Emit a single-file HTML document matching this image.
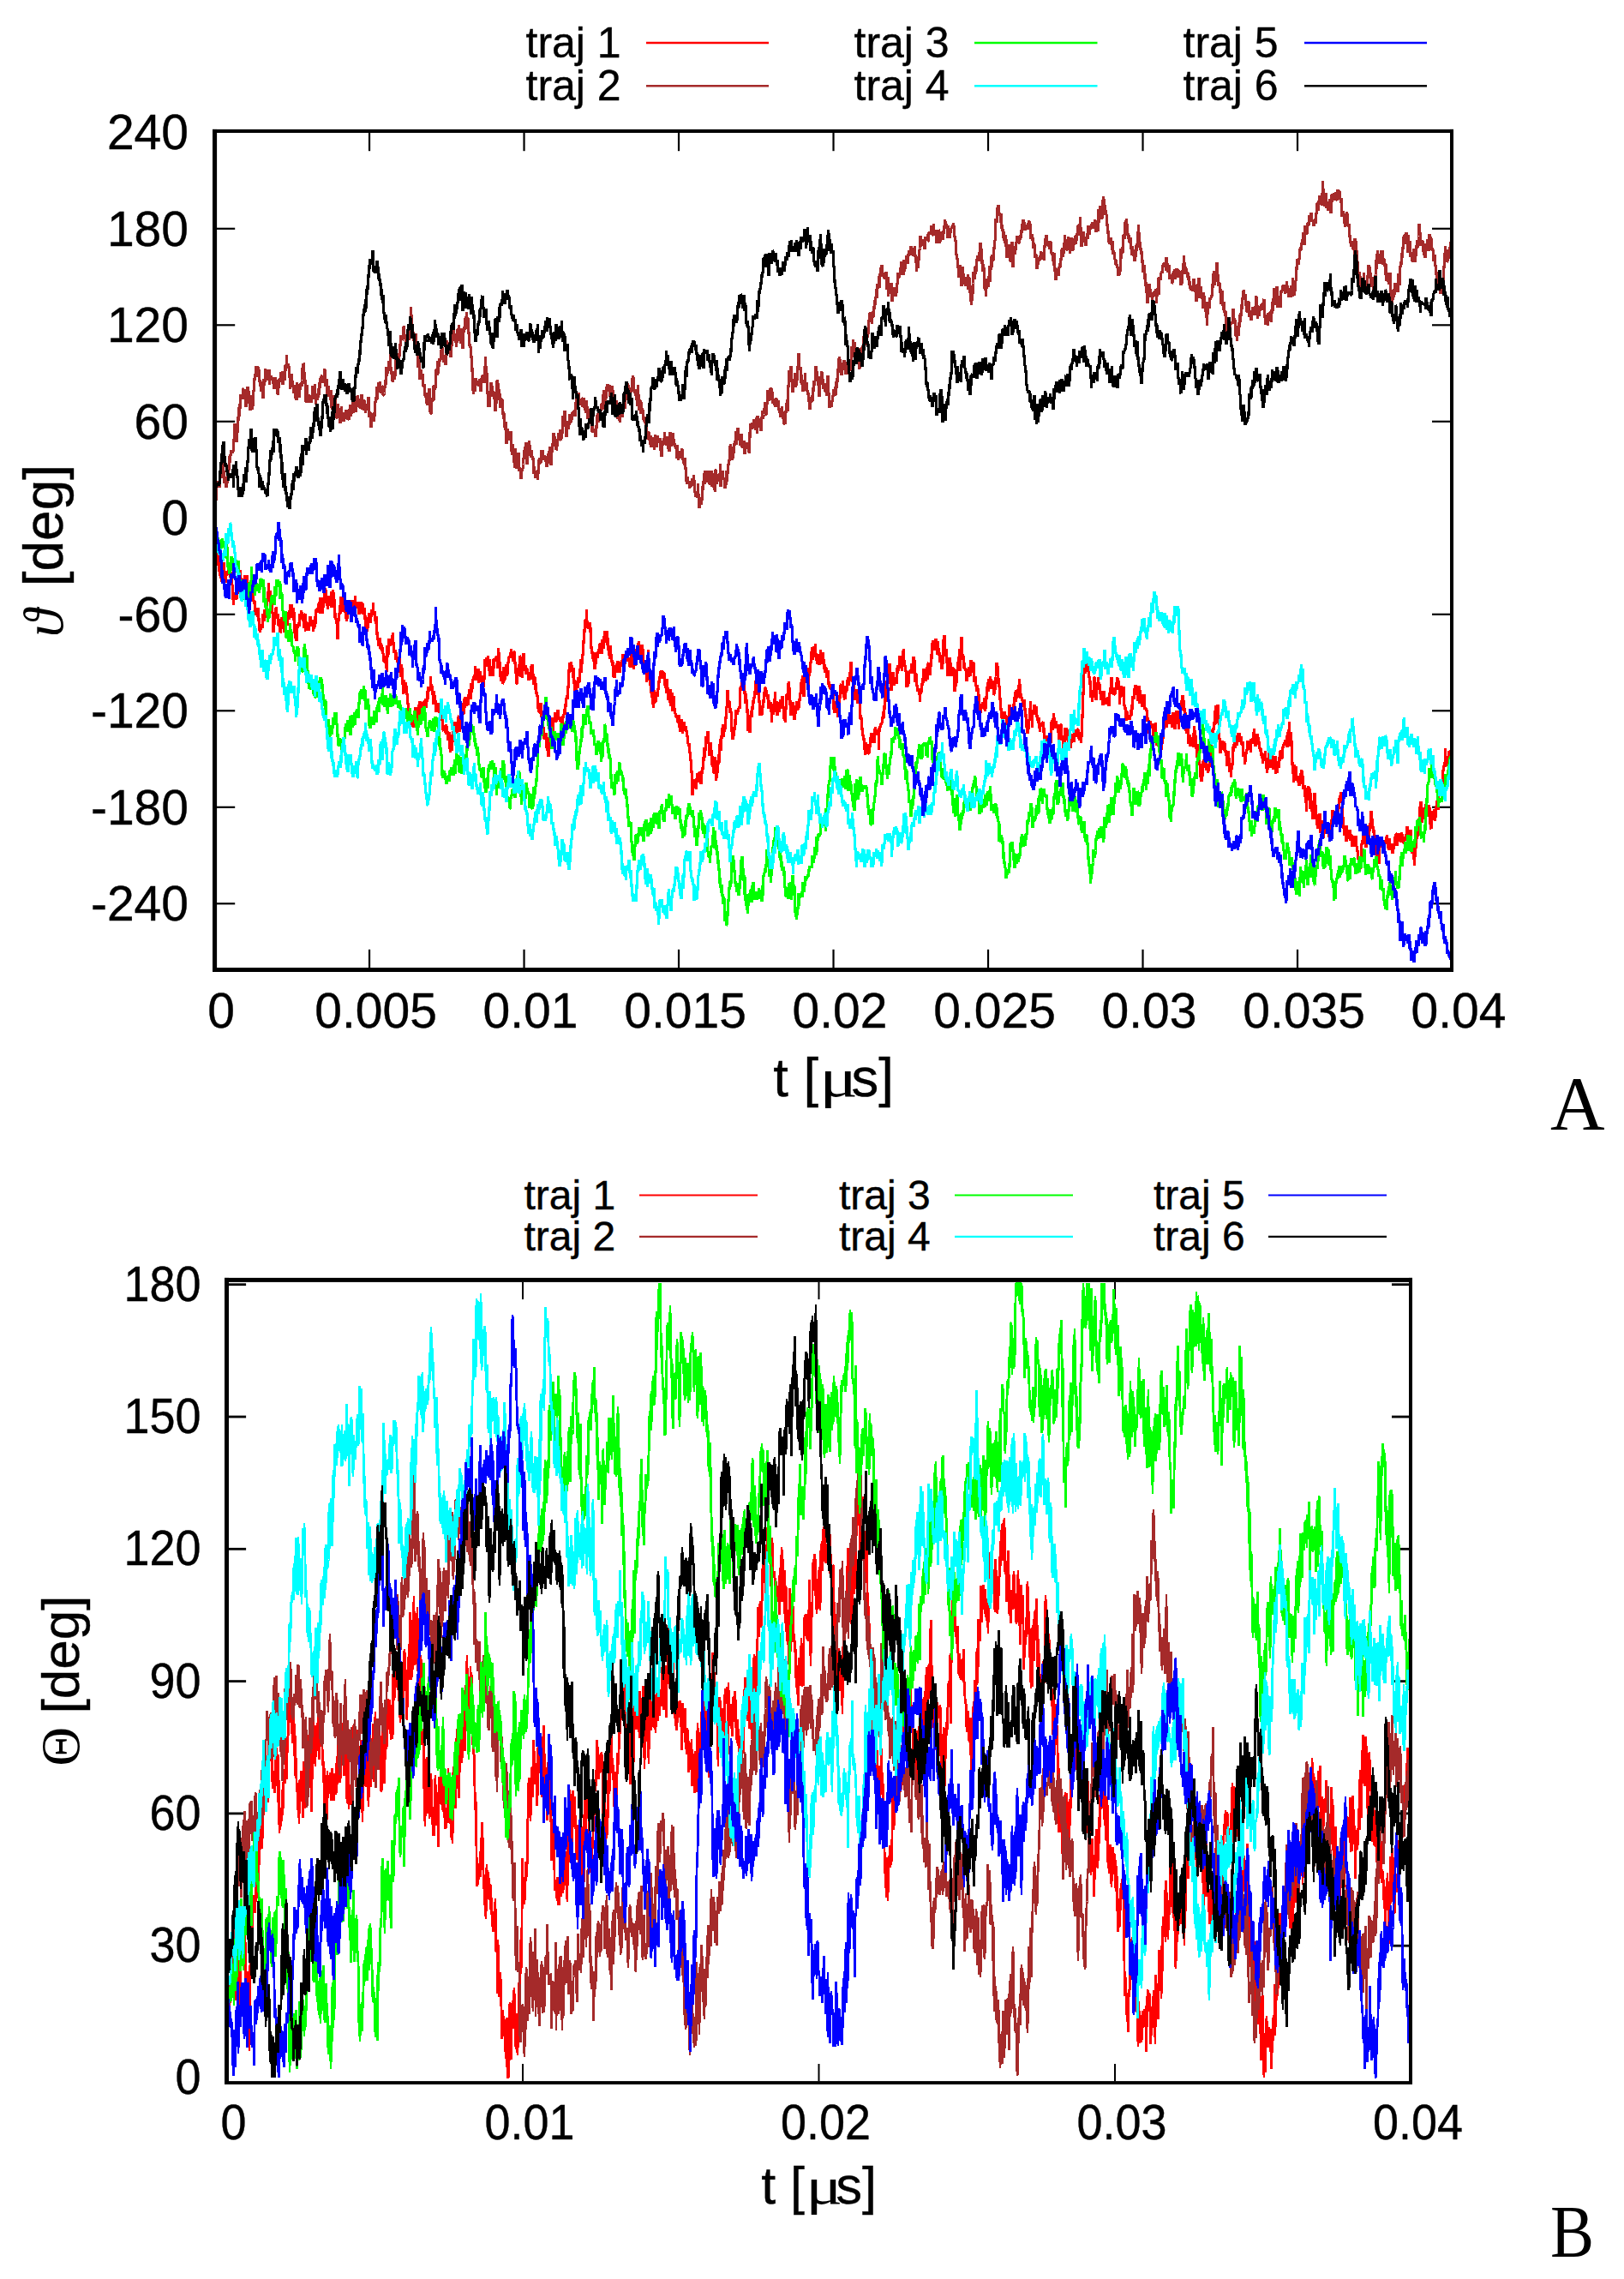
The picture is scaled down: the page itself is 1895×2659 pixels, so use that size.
<!DOCTYPE html>
<html lang="en"><head><meta charset="utf-8"><title>Trajectories</title>
<style>
html,body{margin:0;padding:0;background:#fff}
body{width:1895px;height:2659px;overflow:hidden}
svg{display:block}
.s{font-family:"Liberation Sans",sans-serif;fill:#000;stroke:#000;stroke-width:.4px}
.f{font-family:"Liberation Serif",serif;fill:#000}
.c{fill:none;stroke-linejoin:bevel;stroke-linecap:butt;shape-rendering:crispEdges}
</style></head><body>
<svg width="1895" height="2659" viewBox="0 0 1895 2659">
<rect width="1895" height="2659" fill="#fff"/>
<g fill="#000"><rect x="429.944" y="155" width="2.2" height="21.2"/><rect x="429.944" y="1107.8" width="2.2" height="21.5"/><rect x="610.438" y="155" width="2.2" height="21.2"/><rect x="610.438" y="1107.8" width="2.2" height="21.5"/><rect x="790.931" y="155" width="2.2" height="21.2"/><rect x="790.931" y="1107.8" width="2.2" height="21.5"/><rect x="971.425" y="155" width="2.2" height="21.2"/><rect x="971.425" y="1107.8" width="2.2" height="21.5"/><rect x="1151.92" y="155" width="2.2" height="21.2"/><rect x="1151.92" y="1107.8" width="2.2" height="21.5"/><rect x="1332.41" y="155" width="2.2" height="21.2"/><rect x="1332.41" y="1107.8" width="2.2" height="21.5"/><rect x="1512.91" y="155" width="2.2" height="21.2"/><rect x="1512.91" y="1107.8" width="2.2" height="21.5"/><rect x="253" y="1053.2" width="21.2" height="2.2"/><rect x="1671" y="1053.2" width="21.2" height="2.2"/><rect x="253" y="940.7" width="21.2" height="2.2"/><rect x="1671" y="940.7" width="21.2" height="2.2"/><rect x="253" y="828.2" width="21.2" height="2.2"/><rect x="1671" y="828.2" width="21.2" height="2.2"/><rect x="253" y="715.7" width="21.2" height="2.2"/><rect x="1671" y="715.7" width="21.2" height="2.2"/><rect x="253" y="490.7" width="21.2" height="2.2"/><rect x="1671" y="490.7" width="21.2" height="2.2"/><rect x="253" y="378.2" width="21.2" height="2.2"/><rect x="1671" y="378.2" width="21.2" height="2.2"/><rect x="253" y="265.7" width="21.2" height="2.2"/><rect x="1671" y="265.7" width="21.2" height="2.2"/></g>
<clipPath id="ca"><rect x="250.55" y="153" width="1443.95" height="978.5"/></clipPath>
<g clip-path="url(#ca)">
<path class="c" transform="scale(.5)" stroke="#ff0000" stroke-width="6.4" d="M501 1209l1 7 1 10 1 5 1 8 1 27 1 5 1 12 1 9 1 24 1 17 1-1 1-10 1 21 1 6 1-5 1 13 1-16 1 9 1-18 1 14 1-34 1 27 1 0 1 6 1 11 1 4 1-20 1-1 1-6 1 1 1 7 1-28 1 4 1-1 1 20 1 10 1 0 1 8 1-20 1 20 1 11 1 3 1 28 1 15 1-21 1 10 1-11 1-7 1 18 1-6 1 3 1-26 1-11 1 10 1-4 1 20 1-27 1 10 1-25 1-14 1 21 1 21 1-2 1-7 1 20 1-23 1 8 1 2 1-18 1-10 1 20 1-13 1 1 1 12 1-4 1-15 1 23 1 6 1-12 1 6 1-6 1 21 1-6 1-1 1 7 1-16 1 38 1-4 1-19 1 20 1 1 1 8 1-6 1 1 1 21 1 11 1-4 1-6 1 5 1 9 1-22 1 22 1 3 1 28 1-4 1 8 1-13 1 7 1-13 1 5 1 5 1-12 1-21 1 1 1 11 1 5 1-27 1 18 1-18 1 5 1 7 1-17 1-18 1-1 1-14 1-24 1 31 1-9 1-5 1 6 1 21 1 15 1-15 1 11 1 14 1 6 1 40 1-24 1 5 1-20 1 7 1-21 1-4 1-2 1 24 1-5 1-3 1 17 1 10 1-1 1-15 1 10 1 22 1-1 1-16 1-2 1-16 1 13 1 14 1-11 1-9 1 27 1-24 1 13 1-14 1-14 1-7 1 10 1 1 1 19 1-19 1-5 1 11 1-15 1-3 1-18 1 31 1-16 1-9 1-5 1 29 1-11 1-11 1 30 1-20 1 23 1 22 1 17 1-33 1 39 1-34 1 34 1-37 1 2 1-3 1 0 1-5 1 8 1-29 1 6 1 8 1-21 1 4 1 0 1 6 1 14 1-17 1 3 1 30 1-23 1-10 1 38 1 2 1-21 1 3 1 4 1 5 1 5 1-11 1 15 1-17 1-8 1-9 1 24 1-9 1 3 1-10 1 11 1-9 1 25 1-8 1 0 1-1 1-25 1 13 1 4 1-33 1-1 1 5 1-9 1 5 1-14 1 20 1-25 1 13 1 15 1-37 1 15 1 1 1 7 1 13 1-31 1-6 1 23 1-13 1-23 1-4 1-4 1 9 1-6 1 32 1 1 1 2 1 11 1-22 1 2 1-12 1 23 1-13 1-5 1 9 1-23 1 37 1-15 1-13 1-13 1 18 1-13 1 19 1 40 1-5 1-5 1 14 1-2 1 11 1 9 1 29 1-36 1-8 1-14 1-1 1-16 1-4 1 18 1-38 1 10 1-5 1 1 1-5 1-1 1 35 1-12 1 7 1 7 1-6 1 19 1-9 1 16 1-8 1-20 1-12 1 24 1-9 1-13 1-1 1-8 1 9 1-11 1 10 1 20 1-3 1-22 1-6 1 13 1 6 1-12 1 0 1-16 1 25 1-12 1 13 1 0 1-10 1-2 1 9 1 14 1 6 1-13 1 0 1 10 1-27 1 5 1-3 1 14 1-12 1 25 1-9 1-5 1 15 1-16 1 23 1 25 1-22 1 15 1 4 1 10 1-9 1-8 1-16 1 1 1-11 1 14 1 9 1-21 1 3 1 5 1-18 1 9 1 3 1-27 1 26 1 3 1-9 1 14 1 9 1-3 1 8 1-16 1 43 1-1 1 10 1 16 1-5 1 3 1-16 1 25 1-1 1-13 1 6 1 14 1-9 1 5 1 9 1 2 1 16 1-13 1 16 1 0 1-5 1 1 1 17 1 8 1-61 1 28 1-13 1 7 1-37 1 13 1 3 1-3 1 1 1-2 1-4 1-16 1 22 1-29 1 26 1 12 1 10 1-6 1-1 1 22 1-17 1 13 1 5 1 0 1 5 1 1 1-1 1-10 1-2 1 31 1 3 1 12 1-5 1-23 1 9 1 8 1 24 1 28 1-19 1-15 1 17 1 14 1-11 1-14 1 9 1-1 1 22 1-1 1 23 1-3 1 34 1-14 1 11 1-2 1 25 1-28 1 14 1 3 1-10 1 5 1 5 1 14 1-9 1-21 1 23 1-34 1-6 1 20 1-5 1-1 1 2 1 15 1-18 1-14 1-5 1 37 1-45 1 8 1 18 1-6 1-19 1 9 1-3 1 10 1 6 1-17 1-5 1-3 1 9 1-14 1 21 1-7 1-8 1-23 1 18 1-13 1-15 1 8 1-9 1 8 1 2 1-33 1 20 1-3 1 6 1 10 1 2 1 29 1-31 1 19 1-8 1 10 1 6 1-4 1 27 1-11 1 9 1-18 1 1 1 6 1 9 1-17 1 22 1-11 1 12 1 3 1 9 1 5 1-11 1 0 1 34 1 1 1-12 1 9 1-4 1 11 1-8 1-10 1 22 1-18 1 13 1 17 1 2 1-2 1-16 1 4 1 32 1 10 1-11 1 2 1 0 1 6 1-36 1-10 1 21 1 5 1-31 1 15 1-31 1 20 1-8 1 1 1-2 1 16 1-8 1-14 1-18 1-1 1 13 1 23 1-23 1 13 1-10 1-4 1-2 1-40 1 27 1-5 1 3 1-36 1 22 1-11 1-14 1 3 1 18 1-12 1 0 1 7 1-14 1 16 1-25 1 1 1-13 1 10 1 13 1-26 1-10 1 20 1-9 1-4 1-17 1-4 1-2 1 7 1-5 1-26 1 14 1 19 1-16 1 1 1 7 1-12 1-7 1 33 1-15 1-4 1-8 1 14 1 10 1-14 1 14 1-1 1 12 1-16 1 15 1 3 1-23 1-22 1-21 1 16 1 1 1-20 1 15 1-13 1 3 1-10 1 13 1 22 1-1 1-25 1 39 1-11 1 0 1 7 1-4 1-16 1 24 1-39 1 1 1 19 1-22 1 5 1-2 1-7 1 0 1 3 1 3 1 21 1-18 1-29 1 10 1 22 1 0 1 34 1-7 1-5 1 23 1-20 1 7 1 18 1-1 1-28 1-9 1 33 1-26 1 21 1-17 1-2 1-16 1 28 1-5 1-10 1-18 1-6 1-7 1 4 1-5 1-8 1 4 1-12 1 19 1 0 1-9 1 12 1 7 1-23 1 0 1 11 1 14 1 21 1 4 1 3 1 21 1 1 1-23 1-15 1 4 1-8 1 3 1-26 1 1 1 17 1 30 1-18 1 0 1 21 1-38 1 21 1-40 1 26 1 15 1-11 1-3 1 22 1-3 1-10 1 0 1 11 1-4 1 18 1 1 1-4 1-5 1 1 1 6 1-30 1 11 1-7 1-8 1 9 1 14 1 2 1 21 1-16 1 0 1 28 1-3 1-12 1 25 1 0 1 5 1 4 1 26 1-6 1 14 1-21 1 22 1 1 1-24 1 9 1 24 1-14 1 3 1 15 1 23 1 9 1 15 1-9 1 11 1-4 1-11 1 35 1-23 1 14 1 14 1-9 1 23 1-11 1-31 1-14 1 15 1-15 1-16 1-5 1-13 1 4 1 12 1 14 1-30 1 10 1-6 1-9 1-8 1 11 1 10 1 1 1-6 1-18 1-3 1 20 1 1 1-2 1-4 1 11 1-1 1-9 1 12 1-1 1 20 1-29 1-3 1 4 1-9 1-8 1-4 1 13 1-23 1-11 1-4 1-7 1 9 1-10 1-19 1-14 1-26 1 7 1-24 1 6 1 8 1-16 1 20 1-12 1 12 1 17 1-22 1 22 1 7 1 30 1-8 1-12 1 25 1-10 1-14 1-10 1 16 1-24 1 3 1 7 1 1 1-6 1-22 1-13 1-13 1 31 1-24 1-19 1 3 1-14 1-16 1-19 1-5 1-29 1 20 1-14 1-1 1-29 1 33 1 9 1-1 1 4 1-2 1-3 1-10 1 24 1-12 1 49 1-5 1 5 1 9 1 16 1-16 1 22 1-3 1 4 1 17 1-8 1-5 1-27 1 8 1-6 1 11 1-14 1 1 1-7 1 1 1 9 1-23 1 7 1-9 1 16 1-3 1 12 1-32 1 13 1 7 1-24 1-4 1 12 1-24 1 14 1 10 1 2 1-3 1-23 1 32 1-17 1 27 1 15 1-3 1 11 1-32 1 9 1 13 1 17 1-4 1 11 1-7 1 35 1-15 1 17 1-4 1 4 1-28 1 10 1-12 1 18 1-21 1 4 1-11 1 22 1-8 1-3 1 16 1-1 1-14 1-6 1-4 1 11 1-15 1 13 1-26 1 14 1-1 1-13 1 4 1 18 1-16 1-3 1 4 1 9 1-8 1 9 1-4 1-6 1 6 1 7 1 9 1-1 1 2 1-31 1 1 1-1 1 1 1 20 1 2 1 12 1-30 1 1 1 21 1-14 1-16 1-5 1-4 1 5 1-9 1-5 1-4 1-5 1 11 1 0 1 9 1 6 1 10 1-9 1-18 1 13 1-4 1 19 1 21 1 5 1-18 1 8 1-1 1 11 1 10 1 22 1-6 1-16 1-10 1-43 1 35 1 2 1 31 1 15 1-14 1 33 1-4 1-1 1 13 1 10 1 6 1 10 1-13 1-29 1 23 1 3 1 0 1 0 1-21 1 5 1 6 1-3 1-16 1 2 1-18 1-10 1 2 1-17 1 16 1-4 1-14 1 20 1-18 1 14 1-12 1 10 1-7 1 27 1 0 1 0 1 4 1 16 1-34 1 18 1 7 1-4 1 29 1-8 1 4 1 10 1-31 1 13 1 25 1-25 1-5 1 32 1 11 1-11 1-25 1 16 1 14 1 12 1-1 1 6 1 2 1 2 1-2 1 12 1-8 1 10 1-18 1 22 1 6 1-13 1 23 1-14 1-14 1 7 1 3 1 22 1-19 1 14 1-21 1 3 1 10 1 0 1-2 1 1 1 9 1 11 1-1 1 20 1-1 1 0 1 7 1-8 1 24 1-4 1 21 1 3 1 24 1 4 1 50 1-17 1-1 1-1 1-19 1 7 1 9 1-2 1-7 1 16 1-21 1-16 1 3 1 12 1-10 1 17 1-23 1 10 1-13 1 3 1 26 1-31 1 8 1-3 1-13 1 5 1-23 1-28 1 23 1-19 1 3 1-18 1-15 1 8 1-2 1-6 1-12 1 25 1 4 1 3 1 25 1-9 1-21 1 21 1-4 1 12 1 23 1-20 1 21 1 13 1 4 1 2 1-38 1 27 1 8 1 19 1-7 1-8 1-14 1 11 1-24 1-18 1 4 1 14 1-39 1-15 1 3 1 24 1-35 1 2 1-19 1-9 1 2 1 27 1-16 1-10 1 7 1-8 1-18 1-13 1-12 1-4 1-36 1 8 1 19 1 5 1 1 1-7 1 28 1-12 1 9 1 16 1 28 1 16 1 4 1-9 1 2 1-21 1 7 1-26 1 13 1-25 1-10 1 8 1 3 1-8 1 1 1 2 1-9 1-4 1 4 1-9 1-39 1-5 1 11 1-23 1-1 1 15 1-5 1 2 1-2 1 3 1 16 1 20 1 6 1-24 1 17 1 10 1 11 1 36 1 13 1-8 1 2 1 7 1 4 1-20 1-21 1-3 1-7 1 14 1-21 1-17 1 7 1-16 1 4 1-15 1 2 1-22 1-5 1-10 1 32 1-2 1 11 1-21 1 6 1 33 1-4 1 3 1 32 1-24 1 10 1 14 1-8 1 6 1-19 1-8 1-2 1-25 1 6 1-16 1 1 1 13 1 7 1-14 1 11 1 10 1-12 1 20 1 13 1-19 1 15 1 2 1-13 1 23 1-8 1 33 1-32 1-10 1 24 1-16 1-6 1-15 1 14 1-30 1 32 1 15 1-23 1-2 1 32 1-18 1 4 1-16 1 6 1 17 1-18 1 10 1-21 1 3 1 1 1-11 1-1 1 8 1 18 1 12 1 13 1 6 1-21 1 25 1-36 1 3 1-33 1 13 1-15 1 0 1-22 1-6 1 19 1-4 1 40 1-11 1 35 1-28 1 13 1 10 1-25 1 8 1 8 1 2 1 23 1-34 1 15 1 4 1-8 1-5 1-15 1 19 1-1 1-7 1 3 1-19 1 3 1-19 1 4 1-13 1-13 1-9 1 23 1-5 1-27 1 20 1 29 1-17 1-29 1-18 1-6 1 7 1 3 1 19 1 4 1 3 1 15 1-19 1-29 1 19 1-11 1 4 1-26 1 2 1-23 1-12 1 28 1-25 1 9 1-11 1-4 1 22 1-21 1-6 1 27 1 12 1-9 1 16 1-14 1-2 1-6 1 25 1-8 1 7 1-16 1-19 1 18 1-8 1 24 1-14 1-2 1-11 1 17 1 15 1 6 1-10 1 19 1-14 1 3 1 23 1-8 1 4 1-12 1 1 1 29 1 7 1-2 1 2 1 5 1-12 1 9 1 21 1-7 1-14 1 11 1 40 1-7 1 15 1-16 1-12 1 9 1 5 1 3 1 5 1 5 1-14 1 25 1-6 1-28 1 1 1-14 1-19 1-10 1-2 1 10 1-1 1 0 1-16 1 30 1 1 1 6 1 4 1 2 1-27 1-5 1 16 1-5 1-7 1-17 1-7 1 19 1-6 1-5 1 0 1-20 1 12 1-36 1 34 1 5 1 6 1 2 1-5 1 1 1 8 1 21 1 14 1 4 1-20 1 13 1-18 1 4 1 10 1 19 1-11 1 3 1 6 1-1 1 5 1 33 1-8 1 10 1-4 1 29 1-2 1 14 1 4 1 2 1 28 1-17 1 29 1-30 1 16 1-9 1 21 1-13 1 7 1-18 1 22 1 0 1-8 1-8 1-22 1 13 1-17 1-6 1 21 1-5 1-8 1 2 1 0 1 13 1-13 1-19 1-5 1 13 1-6 1 12 1-6 1 2 1-7 1 2 1 44 1-51 1 4 1-7 1-8 1 2 1-2 1-1 1-1 1-10 1-16 1 16 1-12 1-11 1-26 1 9 1 0 1-48 1 12 1-9 1 20 1-18 1 1 1-19 1 21 1-47 1 31 1 1 1 21 1 10 1-22 1-7 1-14 1 11 1-11 1 17 1 14 1-12 1-3 1 1 1-5 1 14 1-37 1 14 1-20 1 13 1-13 1 8 1-9 1-20 1 3 1 3 1 10 1-7 1 25 1-29 1-16 1-1 1-5 1 33 1-7 1 16 1-3 1 14 1 4 1 32 1-6 1 4 1-21 1-6 1 21 1-27 1-3 1 1 1-3 1 4 1-19 1 11 1-9 1 21 1-11 1-28 1 11 1-2 1 23 1 27 1-18 1-1 1 24 1 4 1 9 1 4 1-2 1-3 1-2 1 12 1 19 1-22 1-5 1-2 1 8 1-19 1-14 1 10 1-16 1-17 1 20 1 4 1-12 1 18 1-7 1-6 1-21 1 30 1-6 1-32 1-1 1 17 1-2 1 14 1-19 1-8 1 6 1-21 1-28 1-6 1 8 1-13 1 14 1 8 1-5 1 1 1 1 1-23 1 20 1-14 1 31 1-32 1 26 1-3 1-7 1 12 1 22 1-12 1 4 1-3 1 10 1 17 1-33 1 21 1-22 1-35 1 5 1-15 1 19 1 30 1-14 1-4 1 32 1 1 1-6 1 37 1-15 1 4 1 0 1-32 1 14 1-3 1 10 1 21 1-16 1 1 1-5 1 2 1 4 1-2 1 44 1 9 1-17 1 5 1-11 1 3 1-22 1-10 1 1 1-16 1-12 1 2 1-23 1 51 1-26 1-24 1 7 1-35 1 32 1 20 1-11 1 2 1 13 1 17 1-13 1 13 1 4 1-3 1 25 1 4 1-7 1-12 1-5 1 8 1 5 1-22 1 18 1 2 1-19 1-17 1 14 1-6 1-1 1-4 1 26 1-14 1-9 1 44 1-11 1-1 1 19 1 0 1 16 1-10 1-5 1 8 1 5 1 10 1 4 1 28 1 12 1-4 1-11 1 3 1-12 1 8 1-12 1 12 1-1 1-5 1 11 1-27 1 31 1-6 1-4 1-25 1 7 1-26 1-12 1 6 1 15 1-29 1 8 1 15 1-29 1 6 1 18 1 2 1-7 1-10 1 16 1-1 1 19 1-2 1-7 1-5 1-27 1 15 1-17 1-32 1 7 1 11 1-10 1 34 1 6 1 7 1 10 1 20 1 6 1 18 1 10 1 6 1 13 1 5 1-15 1 3 1-7 1-11 1 13 1-1 1-1 1 1 1 18 1 13 1-25 1 9 1-15 1 4 1-26 1-5 1 23 1 8 1 12 1-18 1 6 1-19 1 9 1-8 1 8 1-23 1 13 1-27 1-15 1 24 1-28 1 19 1-9 1 7 1-17 1 1 1-12 1 8 1-23 1 15 1 0 1 31 1-11 1 9 1 2 1 2 1 12 1 1 1 4 1-16 1 23 1-4 1 22 1-3 1-5 1 32 1-8 1 21 1-17 1 7 1-19 1-2 1 0 1-22 1-22 1 36 1-11 1 5 1 32 1-39 1-2 1 11 1-17 1-6 1 14 1-8 1 9 1 8 1-20 1 25 1 1 1 7 1 6 1-13 1 15 1 8 1 10 1-20 1 3 1 5 1-7 1 3 1 0 1-5 1-2 1 18 1 30 1-16 1 9 1 0 1 32 1-5 1 9 1-35 1-9 1 42 1-41 1 21 1-1 1-9 1-16 1 20 1-21 1-28 1 9 1-13 1 23 1-22 1-17 1 13 1 4 1 7 1 12 1-16 1 1 1 12 1-1 1-6 1 13 1 2 1 25 1-13 1-8 1-7 1-12 1 1 1 36 1-9 1 2 1-1 1 18 1 13 1-1 1-18 1-10 1-22 1 8 1 9 1-18 1 5 1 23 1-3 1 22 1 2 1 5 1-30 1 6 1 16 1-2 1-10 1-10 1 6 1-12 1-3 1 13 1 5 1-28 1 13 1-4 1-10 1 9 1-4 1 2 1 10 1-17 1 0 1 7 1 15 1-15 1 18 1-16 1 11 1 12 1-17 1-29 1-15 1-29 1-26 1-18 1-51 1 20 1 3 1-23 1 17 1 1 1-15 1 14 1-19 1 0 1 14 1 10 1 10 1-3 1 19 1-8 1 39 1-8 1-9 1 27 1-16 1 2 1 4 1-48 1 1 1 13 1 28 1-21 1 33 1-8 1-19 1 2 1-13 1-16 1 16 1 0 1 6 1-6 1 19 1 18 1-18 1-3 1 9 1 15 1 9 1-13 1-19 1 16 1 8 1-5 1 12 1-9 1 2 1-9 1 1 1 8 1-1 1-7 1 18 1-31 1 4 1-6 1-10 1 2 1-25 1 23 1 15 1-4 1-11 1 17 1-7 1 6 1 0 1-11 1 0 1-3 1-10 1-16 1 6 1-3 1 6 1 12 1-1 1 43 1-36 1 12 1-18 1 4 1 19 1 1 1-15 1 3 1-11 1 33 1 12 1 5 1 2 1-3 1 31 1-22 1 2 1 3 1 7 1-4 1 9 1-4 1 6 1-9 1 1 1-2 1-12 1 13 1-26 1 11 1-31 1 3 1 4 1-16 1-9 1 2 1-9 1 6 1-1 1 3 1 10 1 18 1-22 1 2 1-15 1 31 1 10 1-31 1 11 1 15 1-6 1 20 1-15 1 12 1-23 1 4 1-7 1 5 1 30 1-5 1 3 1 1 1 5 1-4 1 28 1-10 1 7 1 5 1 25 1-12 1 0 1-16 1 12 1-7 1 3 1-1 1 1 1 19 1 15 1-24 1-13 1 13 1 14 1-28 1 46 1 5 1 1 1-5 1-1 1 8 1-12 1 17 1 2 1-2 1 6 1-24 1 21 1-7 1-8 1-6 1-17 1 13 1-26 1-3 1-13 1 11 1-20 1-1 1-1 1 26 1-25 1 7 1 11 1-24 1 21 1 2 1-12 1-6 1-3 1 13 1 1 1-10 1 26 1-24 1-11 1 1 1 17 1 8 1 12 1-20 1-4 1 11 1-29 1 18 1 11 1-1 1-5 1 19 1-27 1-13 1-1 1 8 1-14 1 3 1-21 1-7 1-6 1 16 1 9 1-13 1 21 1 13 1-7 1 29 1 15 1 1 1 5 1-13 1-2 1 38 1-17 1 13 1 0 1-16 1 26 1-16 1 8 1-6 1-2 1 8 1-12 1 23 1-28 1-21 1 35 1-26 1 20 1-8 1 26 1 25 1-16 1-3 1-11 1 30 1-5 1 19 1 3 1 11 1 18 1-14 1 25 1-7 1-6 1-35 1 14 1-1 1-10 1-26 1 22 1-3 1 3 1-1 1 24 1-16 1 10 1 11 1-4 1-11 1 1 1-4 1-27 1 16 1-33 1-16 1 11 1-8 1-25 1 10 1-12 1-12 1 2 1-32 1 31 1-30 1-13 1 7 1 21 1-22 1-8 1 33 1 4 1 24 1 19 1 0 1 33 1-25 1-1 1 0 1 8 1-12 1 14 1-6 1 13 1-19 1 22 1-18 1 22 1-5 1 11 1 6 1 20 1-20 1-16 1 25 1-8 1 4 1 29 1-22 1 7 1 26 1-20 1-10 1 2 1-13 1-29 1 10 1-16 1-5 1 1 1 13 1-29 1 13 1 10 1-19 1 10 1-11 1-10 1 21 1-20 1 8 1 1 1 8 1 2 1-11 1 18 1 0 1-6 1 18 1 16 1-9 1 2 1 25 1-7 1-9 1-8 1-7 1-1 1-15 1-7 1 14 1 6 1-12 1 12 1-16 1 10 1 12 1-31 1 6 1 6 1-14 1 6 1-17 1-2 1-8 1 16 1 4 1 21 1-6 1 2 1-8 1-17 1 7 1 1 1 0 1 11 1-2 1 18 1-4 1 9 1-7 1 18 1-8 1 10 1 16 1-22 1 14 1-10 1 4 1-8 1-8 1 20 1 18 1 1 1 12 1-10 1 2 1-19 1-13 1-10 1 19 1 11 1 9 1-26 1 1 1-4 1-15 1 26 1 21 1-24 1 3 1-2 1 15 1-22 1 41 1-13 1 7 1 3 1-15 1-1 1-11 1 15 1-19 1-5 1 9 1-23 1 0 1 11 1 7 1-3 1-10 1-14 1-5 1-1 1 2 1-6 1-3 1-5 1 9 1 0 1-19 1 28 1-26 1-7 1-9 1 10 1-28 1 58 1-18 1-15 1 32 1-12 1 36 1 17 1 16 1 2 1 25 1-40 1 13 1 4 1 0 1-14 1 20 1 14 1-6 1-6 1 16 1-16 1 5 1 19 1-13 1 9 1-6 1-18 1-9 1 3 1 17 1-2 1-5 1 31 1-3 1-6 1 25 1 2 1-15 1 24 1 25 1-30 1-24 1 3 1-8 1 4 1-1 1 5 1 45 1-36 1 11 1 13 1 13 1 5 1 3 1 15 1-12 1-30 1 24 1-43 1 36 1-7 1 9 1 24 1-9 1 22 1 8 1-2 1-18 1-13 1 6 1-7 1 44 1-26 1 2 1 13 1 2 1-20 1 14 1 15 1 13 1-12 1-17 1-14 1-2 1 18 1-5 1 10 1 5 1-6 1 10 1-9 1-3 1 22 1-22 1 8 1 5 1-4 1-27 1 4 1-12 1-14 1 10 1 11 1 0 1 8 1-16 1 12 1 3 1-10 1 15 1-15 1-10 1 1 1-11 1-1 1-22 1-2 1 10 1-18 1 1 1-8 1 22 1-10 1 44 1 3 1 6 1 15 1 20 1-11 1 5 1 2 1 1 1 17 1-36 1 18 1 12 1-21 1 19 1-10 1 11 1-20 1 23 1 1 1-12 1 0 1 27 1-23 1 0 1 16 1-7 1 4 1 10 1-9 1-5 1-10 1 13 1 11 1 2 1 9 1 5 1 14 1 2 1 7 1 5 1 8 1-19 1 6 1-31 1-13 1-9 1 5 1-17 1 21 1-3 1-5 1-15 1 8 1 4 1 19 1-25 1-20 1 7 1-14 1 7 1 12 1 7 1-15 1-13 1 1 1-18 1-14 1 14 1 5 1 4 1 16 1 3 1 3 1 26 1-11 1 25 1-1 1-3 1 17 1-8 1 12 1 18 1-3 1-23 1 15 1 13 1-44 1 6 1-24 1 23 1-11 1 2 1-1 1 18 1 4 1-9 1-10 1-9 1 10 1-10 1 4 1-11 1 2 1-6 1 10 1 4 1 15 1 5 1-9 1-18 1 15 1 9 1-11 1 12 1 1 1-6 1 15 1-10 1 0 1-4 1-8 1 0 1-17 1 2 1-8 1 0 1 27 1-28 1 15 1-8 1-1 1 12 1-9 1-9 1 13 1-10 1 17 1-23 1 6 1 11 1-6 1 15 1-1 1 1 1-12 1 3 1-2 1-10 1 15 1-25 1-9 1 11 1 14 1 2 1-1 1 12 1-1 1-6 1-23 1 17 1 25 1 13 1-11 1 8 1-15 1 10 1 20 1 16 1-24 1-25 1 10 1-34 1 8 1 4 1-7 1 1 1-16 1 0 1-23 1-15 1-13 1-10 1-4 1 25 1 4 1 19 1-28 1-4 1-1 1 26 1-28 1 3 1 8 1-4 1-11 1-18 1 29 1-8 1-2 1 10 1-12 1 27 1-22 1 11 1 26 1 11 1 2 1-21 1-4 1 3 1-20 1 22 1-8 1-3 1-14 1 27 1-9 1 0 1-27 1-1 1-11 1-1 1 23 1-30 1-10 1 6 1-15 1-6 1-12 1 16 1-18 1 1 1 6 1-23 1-9 1 3 1-10 1-10 1 10 1-43 1 23 1 8 1-7 1 1 1 16 1-18 1 0 1 1 1-18 1 4 1-4 1 2 1 11 1 1 1 1"/>
<path class="c" transform="scale(.5)" stroke="#a52a2a" stroke-width="6.4" d="M501 1209l1-16 1-14 1-14 1-11 1-19 1-4 1-1 1-7 1 10 1-5 1 10 1-20 1-7 1-1 1-27 1 17 1 15 1-22 1-17 1 5 1 22 1 4 1 21 1-16 1 4 1 19 1 2 1-4 1-6 1-18 1-3 1-18 1 10 1-33 1 15 1-15 1-3 1-4 1-8 1 5 1 3 1-6 1 2 1-5 1-21 1-16 1-23 1 3 1-1 1 27 1 5 1 8 1-25 1-8 1-20 1-27 1 21 1-29 1 10 1-9 1-23 1 9 1-3 1-2 1 7 1-24 1 0 1 13 1-13 1 20 1-4 1-6 1 31 1-22 1-6 1-7 1-11 1 13 1-4 1 30 1-19 1 15 1 20 1-16 1-4 1-10 1-5 1 32 1-8 1-35 1 1 1-13 1-16 1-8 1-1 1-10 1-11 1 26 1-22 1-1 1-1 1 12 1-6 1 29 1-4 1 11 1-1 1 17 1-20 1 0 1 11 1-8 1 32 1-28 1-16 1 15 1-9 1-31 1 27 1-1 1-1 1-10 1-12 1 21 1 0 1-15 1-7 1 35 1-16 1 6 1-9 1-1 1 5 1 4 1-2 1 3 1 7 1 9 1 4 1-12 1-15 1 6 1 21 1-9 1 7 1-19 1 33 1 2 1-27 1 12 1-21 1 1 1-3 1-4 1-11 1 2 1 21 1 3 1 4 1-31 1 16 1-2 1 6 1-35 1 5 1 8 1-7 1-30 1 27 1-1 1-3 1-2 1 6 1 4 1 15 1 33 1-28 1 3 1-8 1 2 1 26 1-14 1 12 1 18 1-19 1 17 1-11 1 24 1-22 1 8 1 18 1-40 1 26 1 0 1-16 1-7 1 31 1-23 1 0 1 5 1-13 1-2 1 8 1-15 1-28 1 8 1-19 1 2 1 22 1 19 1-4 1 34 1 15 1 4 1-41 1 26 1-4 1 2 1 14 1 1 1-15 1 0 1 16 1-7 1 8 1-14 1 5 1-30 1 9 1 13 1 1 1 7 1-22 1-13 1 26 1 22 1-23 1-3 1 15 1-3 1-4 1 1 1-21 1 15 1-29 1 14 1-23 1 10 1-14 1-1 1-2 1 17 1-13 1 4 1 5 1-29 1 15 1-12 1 39 1-7 1 0 1-11 1 42 1-18 1-5 1-3 1 21 1-9 1 2 1 19 1-22 1 41 1-10 1 14 1-11 1-23 1 4 1 28 1-19 1 20 1 1 1-32 1 24 1 28 1-1 1-13 1-20 1 23 1-5 1-8 1 9 1-6 1 33 1-24 1 5 1-21 1 25 1-9 1 5 1-4 1 19 1-21 1 4 1 7 1-8 1-2 1-7 1 17 1 2 1 3 1-7 1-10 1 16 1 2 1-23 1-12 1 5 1 22 1-26 1 19 1-15 1-21 1 34 1-29 1 11 1-22 1 18 1-5 1 20 1 6 1-17 1-21 1 4 1-5 1 26 1-6 1-12 1 18 1 3 1-4 1 5 1-9 1-23 1 34 1-18 1 18 1-22 1 25 1-4 1-20 1 20 1 9 1-18 1 12 1-12 1-2 1 13 1-2 1-28 1 36 1 11 1-10 1-1 1 25 1 10 1-29 1 3 1-5 1 14 1 0 1-16 1 19 1-14 1-32 1 3 1-6 1 0 1-31 1 28 1-13 1-3 1 1 1-24 1 5 1 8 1-14 1 18 1 8 1-8 1 1 1-8 1 0 1 20 1 0 1 0 1-5 1-14 1-3 1-4 1-39 1 21 1-13 1-3 1 10 1-8 1-21 1 4 1 5 1 3 1-28 1 36 1 11 1-4 1 13 1 5 1 3 1-25 1 6 1 14 1-11 1 3 1-13 1-27 1 22 1 2 1-7 1-19 1 16 1-13 1-11 1 4 1-29 1 5 1-20 1-5 1 1 1 10 1 1 1-6 1-27 1 17 1-18 1 24 1-4 1 10 1-5 1 17 1-14 1 14 1-10 1-22 1 0 1 22 1-21 1 14 1-20 1 19 1-68 1 21 1 12 1 12 1 3 1 12 1 17 1 0 1 4 1 1 1 12 1-24 1-8 1 26 1 1 1 10 1 24 1 18 1-8 1-14 1 44 1 6 1-12 1-11 1 19 1 1 1-2 1-9 1 5 1 25 1-2 1 4 1-8 1 27 1 3 1-3 1 18 1-20 1 25 1-29 1 23 1-13 1 12 1-32 1 29 1 25 1 5 1-1 1 0 1-33 1-1 1 5 1-35 1 32 1-9 1-25 1 11 1-6 1-19 1-22 1-3 1 15 1-32 1 10 1 18 1-19 1-6 1-9 1 6 1-5 1-4 1-18 1 9 1-14 1 16 1 13 1-12 1 18 1-15 1 6 1 7 1 8 1-39 1 17 1-36 1 12 1-7 1 15 1-4 1-7 1 16 1-8 1 1 1 22 1-23 1-4 1 0 1-17 1-3 1-22 1 14 1 9 1 8 1-2 1 5 1-20 1 31 1-13 1-10 1-19 1 6 1-5 1-11 1 38 1-16 1 8 1 13 1-10 1-24 1 21 1 2 1 24 1-40 1-3 1 5 1-9 1-24 1 24 1 1 1-27 1-13 1 16 1 3 1-4 1 14 1 20 1 16 1 15 1-5 1 7 1 11 1 12 1 10 1 18 1 28 1 21 1 10 1-17 1 4 1 7 1-6 1-25 1 10 1-2 1 9 1-2 1-9 1 1 1 2 1 10 1-7 1-10 1 12 1 16 1-26 1-3 1-7 1 0 1 12 1-7 1-3 1 15 1-22 1-12 1-27 1 25 1 7 1 7 1 26 1 17 1 24 1 11 1-28 1 15 1 13 1-28 1-8 1-21 1 25 1-7 1-10 1 13 1 12 1-12 1 18 1-16 1 23 1 21 1-30 1 11 1-17 1-35 1-2 1 22 1-15 1 18 1 22 1-15 1 32 1-23 1 12 1-9 1 13 1-12 1 35 1-7 1 17 1-12 1 17 1 13 1 9 1-19 1 47 1 3 1-16 1 2 1-20 1 10 1 6 1-1 1 12 1-8 1-2 1-11 1 12 1 34 1 8 1-3 1-21 1 17 1-3 1 26 1 14 1-14 1-31 1 11 1 14 1 22 1-28 1 23 1-21 1 17 1-27 1 42 1-9 1 6 1 0 1 21 1-21 1 4 1-8 1 2 1-11 1-13 1-8 1-10 1-10 1 13 1 4 1-27 1 47 1 5 1-20 1-3 1 2 1-10 1-25 1 22 1-11 1 20 1 9 1-17 1 4 1 10 1 9 1-5 1 8 1 29 1-18 1 12 1 15 1-13 1 0 1 2 1 4 1 5 1 7 1-17 1-30 1 11 1-10 1-5 1 10 1 0 1-28 1 21 1-3 1-19 1 6 1 15 1 1 1-8 1 1 1 7 1-7 1 12 1-6 1 18 1-5 1-2 1-24 1 15 1-8 1-9 1-14 1 30 1-1 1 14 1-6 1-28 1 4 1-16 1-17 1-11 1 21 1-14 1 16 1 4 1 0 1 12 1-2 1-22 1 16 1-18 1-2 1-12 1 17 1-1 1-5 1-18 1 25 1-12 1 8 1-14 1-40 1 4 1 18 1 3 1-22 1-15 1 34 1-10 1 11 1 27 1-31 1 9 1-15 1 5 1 13 1-12 1-11 1-11 1 15 1 3 1 0 1-7 1-15 1 3 1 2 1-8 1 0 1 3 1-3 1 12 1-30 1-1 1-10 1 18 1-9 1-9 1-2 1-7 1-6 1 30 1-12 1-4 1 6 1 8 1-5 1 4 1 6 1-20 1 2 1-3 1 12 1 11 1-12 1 18 1 6 1-10 1-18 1 17 1 26 1-12 1-9 1 0 1 11 1 18 1 3 1-17 1 10 1 4 1 21 1-23 1 16 1 10 1-4 1 2 1-2 1-6 1 9 1 10 1-6 1-17 1-15 1-12 1-4 1 20 1-4 1-11 1-14 1 10 1-3 1-4 1 0 1-16 1-2 1 15 1-35 1 16 1-27 1 10 1 20 1 2 1-5 1-9 1-26 1 12 1-10 1-8 1 7 1-5 1 5 1-5 1 27 1 0 1 0 1-1 1-3 1-21 1 7 1 5 1 1 1 26 1-12 1 9 1 11 1-4 1-7 1-1 1 18 1-12 1 33 1 4 1-4 1-4 1 1 1 10 1 4 1-26 1-4 1-7 1-4 1 11 1 19 1-16 1-2 1-13 1-9 1 20 1-20 1-3 1 1 1 0 1-17 1-3 1-18 1 6 1 4 1 1 1 15 1-15 1 16 1-7 1 1 1-4 1-29 1 6 1-11 1 5 1 31 1-1 1 6 1-9 1 11 1 1 1 9 1 1 1 13 1 3 1-49 1 27 1 32 1-13 1-7 1-2 1 0 1 30 1-27 1 17 1 5 1-4 1 15 1 9 1 2 1-10 1 14 1 1 1 3 1 3 1 2 1 13 1 3 1 15 1-19 1 2 1 18 1-2 1 12 1-20 1 12 1 14 1-16 1-6 1 10 1 8 1-8 1 0 1 19 1-17 1-19 1 24 1-12 1 17 1-15 1-5 1-7 1 8 1 2 1 7 1-2 1-4 1-4 1 28 1-17 1 32 1-34 1-4 1 10 1 0 1-16 1 4 1-18 1 17 1 9 1-2 1 8 1-12 1-10 1 6 1 1 1 23 1-11 1 16 1-17 1-27 1 6 1 20 1 7 1-5 1 3 1-9 1-20 1 16 1 5 1 3 1 8 1-2 1-1 1 6 1 6 1 17 1-30 1 15 1 20 1-17 1-3 1 3 1 5 1-4 1 2 1 10 1-21 1-1 1 16 1 7 1 11 1-7 1 7 1 4 1-17 1 25 1 4 1 25 1 6 1-16 1 3 1 7 1 4 1-5 1 15 1 1 1-11 1 4 1 5 1-3 1-16 1 7 1-1 1-1 1-14 1 16 1 14 1 12 1 0 1 10 1-3 1-11 1 9 1 7 1-33 1 28 1 21 1 8 1-15 1 7 1-9 1 0 1 8 1-11 1-23 1-9 1 10 1-18 1-15 1-7 1 25 1-30 1 20 1-4 1 3 1 1 1 7 1-21 1 6 1-13 1 18 1 13 1-18 1 20 1-24 1-9 1 25 1 12 1-30 1 14 1-3 1 20 1 8 1-9 1 13 1-51 1-1 1 23 1 10 1-11 1 2 1-6 1 9 1-16 1 2 1 2 1-29 1 53 1-2 1-22 1 6 1-19 1 13 1 6 1-2 1 3 1 9 1 12 1-2 1-7 1-12 1-20 1 26 1-23 1-11 1-8 1 4 1-12 1-2 1-30 1-6 1 7 1 24 1 6 1-12 1 7 1-1 1-23 1 13 1-22 1-5 1 5 1-29 1 30 1-2 1-21 1-1 1-13 1 2 1 24 1-10 1 10 1 10 1 4 1-21 1-5 1 30 1-7 1-2 1 12 1-15 1 6 1-9 1 32 1-18 1 3 1-7 1-6 1 5 1 10 1-12 1 8 1 13 1-19 1 20 1-44 1-24 1 1 1 9 1 3 1-9 1 2 1-8 1 0 1 4 1-12 1 18 1 1 1 6 1-11 1-17 1 0 1 36 1-42 1 25 1-14 1 3 1 14 1-22 1 9 1 10 1 10 1-9 1-21 1-16 1 19 1-7 1-1 1-3 1-13 1-11 1-5 1 31 1-3 1-21 1-3 1-1 1-31 1 15 1 11 1-13 1 4 1-21 1 28 1-29 1 18 1-17 1 10 1 25 1-3 1 0 1-8 1 16 1-13 1-1 1 17 1-20 1 4 1-2 1 11 1 7 1-15 1 7 1 17 1 0 1 5 1-11 1 21 1-9 1-3 1-12 1 14 1 3 1 10 1 6 1 7 1 1 1-18 1 18 1-31 1 4 1-20 1-10 1 26 1-47 1-14 1 6 1-40 1 28 1-6 1-12 1-19 1 16 1 17 1 5 1 23 1-29 1 11 1-9 1 12 1-30 1 20 1 12 1-17 1 13 1-13 1-14 1-17 1-8 1-22 1 10 1 28 1-5 1-1 1 31 1 5 1-18 1 22 1-10 1 27 1-6 1-17 1 2 1 10 1-33 1 39 1-8 1 11 1-20 1 21 1 3 1 1 1 18 1 1 1-7 1 26 1-3 1-15 1-10 1 8 1 2 1-14 1 13 1-27 1-17 1-4 1 11 1-10 1-3 1-32 1 26 1-13 1 2 1 11 1 4 1 15 1-4 1 30 1-27 1-20 1 18 1-2 1-28 1 4 1 1 1 16 1 4 1 16 1-3 1 2 1-8 1 16 1-1 1-18 1 14 1 14 1-15 1-32 1 39 1 2 1 25 1 10 1-18 1 9 1 0 1 7 1-8 1-6 1-10 1 0 1-15 1-1 1 3 1 11 1-22 1 20 1-16 1-16 1 16 1-17 1-29 1 9 1-26 1-6 1-5 1 7 1 19 1-12 1 7 1 22 1-18 1 4 1-1 1-7 1 0 1-12 1 18 1 5 1-20 1 29 1-20 1 7 1-4 1 7 1 10 1-21 1 17 1-8 1 4 1-6 1-1 1 8 1-29 1-28 1 24 1-19 1-22 1 20 1-4 1-9 1 12 1 27 1-22 1 13 1 8 1-22 1-1 1 12 1-13 1 8 1 40 1-3 1-24 1-14 1-7 1 12 1-14 1 7 1 2 1-6 1-30 1 1 1-8 1 28 1-14 1 1 1-8 1-2 1 7 1-2 1-6 1-3 1-31 1 2 1 3 1-20 1-4 1 19 1-14 1 1 1 21 1-17 1-11 1 2 1 11 1-23 1-16 1 10 1-10 1-6 1-11 1-9 1 20 1-33 1 11 1-3 1-26 1 27 1-28 1-2 1-16 1 8 1 5 1-19 1 12 1 14 1-6 1-1 1 4 1 7 1 1 1-12 1 1 1-4 1 41 1-18 1 3 1-14 1 44 1-26 1 1 1-1 1 8 1 13 1-25 1 23 1-24 1 44 1-14 1 1 1-13 1-7 1 7 1 9 1-16 1 21 1-11 1 3 1-13 1-9 1-4 1-22 1 12 1 0 1-6 1 0 1-18 1 14 1-1 1-27 1 22 1 2 1-7 1 15 1-27 1-8 1 27 1-8 1-16 1 0 1-7 1-7 1 20 1-11 1 10 1-21 1-4 1-5 1 4 1 6 1-13 1-8 1 7 1 1 1-3 1 12 1-2 1 9 1-9 1 5 1-20 1 25 1 7 1 1 1 26 1-9 1 1 1-13 1 13 1-22 1-18 1-1 1-5 1-29 1 25 1-14 1 12 1-13 1 2 1-1 1 3 1-3 1 6 1 15 1-10 1-20 1 8 1-5 1 0 1 4 1-12 1 15 1 0 1-19 1 0 1 0 1 1 1 3 1-16 1-4 1 6 1 15 1 0 1-7 1-18 1 18 1 8 1-13 1 4 1 8 1 0 1 20 1-19 1-7 1 19 1-25 1 3 1 9 1 20 1-9 1 5 1-7 1 3 1-20 1 2 1 6 1 11 1-16 1 1 1-13 1-19 1 6 1 13 1 3 1-10 1 2 1 30 1-7 1-23 1 10 1 15 1 4 1-13 1 1 1-2 1-8 1-3 1 2 1-3 1-4 1-4 1 7 1 9 1 16 1 3 1 5 1 14 1 21 1 1 1 7 1 2 1 19 1 7 1 16 1-5 1-24 1 18 1-7 1 14 1 24 1-23 1-22 1 30 1-14 1 14 1 7 1-9 1 13 1-17 1 21 1-16 1 14 1-10 1-4 1-12 1 35 1-27 1 1 1 20 1 14 1-17 1 36 1 9 1-11 1-6 1-10 1-23 1-27 1 13 1 4 1-28 1 17 1-18 1 0 1 12 1-29 1-8 1 3 1 5 1 4 1-10 1-5 1-21 1-7 1 9 1 7 1 9 1 19 1 23 1-16 1 16 1-8 1 21 1 28 1-12 1 12 1 17 1-27 1 10 1-24 1 18 1-5 1 6 1-18 1-31 1 37 1-2 1-30 1-6 1-21 1 26 1-29 1 14 1-2 1-14 1-13 1-13 1-7 1-1 1-48 1 1 1 8 1-16 1-20 1 2 1-7 1 8 1 11 1 6 1-6 1 21 1-20 1 34 1-8 1-1 1 15 1-4 1 20 1-15 1 20 1 7 1-19 1 8 1 20 1-17 1 42 1-25 1 1 1 6 1-9 1-3 1 4 1 17 1 17 1 3 1-18 1-5 1-25 1 46 1 13 1-49 1 8 1 5 1 4 1 3 1-12 1-9 1-7 1-11 1-5 1 4 1 7 1 6 1-1 1 2 1-11 1-7 1 0 1 5 1-14 1-18 1 4 1-15 1 25 1-24 1 7 1 15 1 1 1-3 1-9 1 9 1-1 1-3 1 4 1 3 1-14 1-7 1 3 1 12 1-8 1 19 1 16 1-9 1-1 1 14 1-7 1 26 1-10 1-3 1 4 1 16 1 15 1-10 1 4 1-1 1 33 1-9 1-2 1-6 1-10 1 7 1-1 1-10 1 5 1-15 1 11 1 2 1 5 1-3 1-2 1-11 1 2 1 17 1-36 1 3 1-18 1 11 1-20 1 19 1 3 1-2 1 4 1 2 1-9 1 0 1 16 1-19 1 3 1 14 1 11 1 6 1-8 1 21 1-2 1 9 1 2 1-27 1 40 1 14 1 9 1-8 1-20 1 3 1 11 1-7 1 11 1-12 1-7 1-10 1 8 1-12 1-5 1-16 1-8 1 15 1-19 1 22 1-21 1 12 1-18 1-25 1 27 1-2 1-15 1 9 1 16 1 0 1-17 1-13 1 20 1-14 1 14 1 19 1-20 1 5 1-22 1 25 1 5 1-8 1 7 1-25 1 11 1 0 1-13 1-3 1-2 1 17 1-21 1 13 1-15 1-6 1-13 1 23 1-26 1 25 1-23 1-19 1 29 1 6 1 33 1-18 1 0 1 3 1 1 1-20 1 15 1 3 1 6 1 5 1 4 1-17 1-1 1-12 1 13 1-7 1-23 1 19 1 1 1-20 1 9 1-4 1-3 1 2 1-7 1-5 1 2 1 13 1-9 1-1 1 4 1-15 1 19 1-16 1 26 1-13 1-5 1-10 1 25 1-50 1 30 1-31 1 4 1 11 1-22 1 28 1-6 1 8 1-25 1 23 1-42 1-8 1 7 1 2 1 13 1 12 1 9 1-12 1 12 1-1 1 27 1-5 1 19 1 15 1 8 1-3 1 7 1-10 1-4 1 9 1 4 1 15 1-20 1 13 1 17 1-8 1 5 1 4 1 11 1 6 1 6 1-10 1 12 1 5 1-2 1 12 1 10 1-21 1 11 1 7 1-8 1-17 1-36 1 23 1-13 1-13 1 12 1-17 1-23 1-3 1 11 1-18 1-21 1 4 1-6 1-5 1 17 1-6 1 26 1 9 1-8 1 8 1 8 1 3 1-14 1 28 1-7 1 20 1-11 1-9 1 12 1 10 1-11 1-3 1 27 1-22 1 11 1-26 1 12 1-10 1-5 1-7 1-19 1-19 1 22 1 30 1-11 1 1 1 13 1 13 1-6 1 8 1 13 1 28 1-14 1 1 1 8 1-13 1 34 1-13 1 23 1 22 1-7 1-13 1 43 1-12 1-2 1-20 1-11 1 30 1-3 1-14 1 15 1 3 1-2 1 8 1-16 1 9 1-2 1-9 1 10 1-5 1-7 1-2 1-1 1 32 1-20 1-10 1 1 1-30 1 39 1-25 1-17 1 4 1 4 1-10 1-7 1-2 1 2 1-19 1 5 1-9 1 1 1 0 1 6 1 2 1-7 1 16 1-32 1 25 1-10 1 15 1 5 1-7 1-9 1 27 1 6 1-5 1 1 1-1 1-6 1 20 1-1 1-24 1 1 1-5 1 8 1-12 1 23 1-16 1 5 1 3 1-16 1 2 1 18 1-19 1 13 1-8 1-1 1 15 1-7 1 1 1 25 1-9 1 4 1-18 1-8 1-20 1 24 1-42 1 29 1-13 1 17 1-8 1 8 1-3 1 9 1 12 1-12 1 9 1 8 1-9 1 21 1-9 1 18 1 2 1-2 1 0 1 1 1-9 1 14 1-7 1-23 1 4 1 12 1 14 1 0 1-4 1 27 1-39 1 1 1 6 1-5 1 26 1-44 1 48 1-14 1 5 1-3 1-15 1 24 1 5 1-7 1 29 1-6 1-31 1 8 1 1 1 23 1 12 1-22 1 35 1-2 1 21 1-30 1-7 1-5 1-12 1 9 1 5 1-24 1 1 1 0 1-4 1-3 1 2 1-23 1-23 1-6 1-6 1 33 1-10 1 2 1-10 1-12 1 12 1-35 1 36 1-9 1 28 1-8 1 3 1-3 1 8 1 7 1 34 1-29 1 11 1-13 1 31 1 1 1 13 1-19 1 26 1-5 1 2 1 11 1-12 1 61 1-8 1-14 1-7 1-5 1 2 1 7 1 0 1 4 1-2 1-10 1 0 1-3 1 3 1 2 1-15 1-20 1 16 1 13 1-6 1 2 1 37 1-22 1 3 1 18 1 14 1-20 1 2 1-11 1 17 1-31 1 11 1-30 1 17 1-17 1-17 1-7 1 11 1-26 1-3 1-14 1 1 1 10 1 0 1-3 1 28 1-9 1 10 1 13 1-1 1-25 1 10 1-6 1 0 1 33 1-6 1 0 1-8 1 23 1-9 1-12 1-8 1-2 1 9 1-6 1 16 1-18 1 15 1-10 1-33 1 3 1 34 1 7 1 9 1-12 1-15 1-2 1 23 1-17 1 5 1-9 1-5 1 0 1 12 1-15 1 1 1 13 1-21 1-3 1 17 1 26 1 2 1 15 1-24 1 24 1-17 1 0 1 19 1-30 1 19 1-6 1 5 1-19 1 2 1-3 1 24 1-25 1-22 1 20 1-2 1-19 1-31 1 24 1-11 1 11 1-8 1 22 1-31 1-12 1 49 1-7 1-7 1 0 1-12 1 23 1-14 1 17 1-16 1-22 1 3 1-4 1-3 1-8 1-3 1 4 1-3 1 14 1 6 1-20 1 8 1-7 1-10 1 27 1-17 1 12 1 12 1 4 1-7 1-6 1-8 1 21 1-28 1 19 1 7 1-21 1-23 1 26 1-10 1 24 1 1 1-11 1-19 1-4 1 0 1-31 1-10 1-9 1 1 1 10 1-2 1-10 1-11 1-12 1 5 1-10 1 8 1-15 1-11 1 9 1-24 1 16 1-3 1-7 1 22 1-45 1 15 1-3 1 9 1-2 1-19 1-6 1 8 1-4 1-21 1 11 1 0 1 4 1-3 1-18 1 15 1 5 1-5 1 3 1 4 1 8 1-3 1-7 1-7 1 12 1-19 1-5 1-6 1-17 1-2 1 19 1-24 1 9 1-5 1-15 1 2 1 0 1 8 1-3 1 16 1-22 1-35 1 22 1 16 1-7 1 4 1 24 1-24 1 15 1-23 1 35 1-11 1-1 1 5 1 13 1-21 1 2 1-2 1-5 1 12 1 21 1-23 1-20 1 16 1-18 1 9 1-3 1 3 1-11 1 16 1-16 1 15 1-17 1 16 1 1 1 2 1-26 1 17 1-2 1-11 1 0 1 13 1 6 1-1 1 9 1-11 1 43 1-4 1 4 1-13 1 7 1 23 1-15 1 22 1-13 1-10 1-7 1-5 1 34 1-30 1 29 1 1 1-4 1-1 1 30 1-4 1 19 1-5 1 13 1-2 1-11 1 18 1-18 1 11 1 8 1 11 1-36 1 14 1-9 1 17 1 6 1 26 1 0 1 17 1 11 1 13 1-18 1 6 1 43 1-38 1 11 1-5 1 31 1-14 1 4 1-8 1 2 1-29 1 35 1-1 1-7 1-3 1 4 1 7 1-5 1-1 1-24 1 1 1-25 1 16 1-12 1 27 1-11 1 1 1 30 1-6 1 7 1-21 1-2 1 19 1 11 1-25 1 4 1-13 1 19 1-21 1-34 1 21 1-33 1-10 1 17 1 0 1-9 1 20 1 3 1-12 1 8 1-28 1 10 1-4 1-5 1 33 1-15 1 14 1-1 1-12 1 12 1 26 1-25 1 39 1-15 1 13 1-18 1 17 1 5 1-18 1 24 1-10 1-17 1 34 1 12 1-5 1 17 1 26 1-45 1 24 1-8 1-18 1 1 1 13 1-27 1 21 1-15 1 7 1-12 1 17 1 3 1-15 1-28 1 7 1 19 1-34 1-9 1-6 1 1 1-26 1 10 1-15 1-6 1-20 1-7 1-4 1 0 1 1 1 13 1 7 1-28 1 12 1 8 1 28 1-39 1-2 1 28 1 1 1 7 1-22 1 37 1-12 1 8 1 2 1 10 1 4 1-20 1 10 1-22 1 22 1 9 1-6 1-14 1 6 1-22 1-14 1 13 1 3 1-8 1-18 1-29 1 9 1 13 1 6 1 23 1-7 1 1 1-4 1 1 1-1 1 22 1 9 1 1 1-13 1 20 1-6 1-27 1 1 1 6 1-17 1 15 1-4 1 15 1-22 1-17 1 12 1-1 1-3 1 3 1 13 1 14 1-4 1 2 1 13 1 15 1-4 1-11 1 8 1 18 1-1 1 21 1-7 1 13 1 16 1-17 1-5 1 36 1-5 1 4 1-12 1 21 1-22 1-2 1 5 1-4 1-2 1-11 1 8 1-37 1-2 1-24 1-20 1 26 1-14 1-4 1 29 1-1 1-21 1-1 1 11 1 5 1-22 1-5 1 7 1-20 1 0 1 3"/>
<path class="c" transform="scale(.5)" stroke="#00ff00" stroke-width="6.4" d="M501 1209l1 9 1 10 1 7 1 8 1 2 1 0 1 12 1-3 1 7 1 16 1-6 1-1 1-10 1 12 1-7 1 14 1-19 1-3 1 21 1-10 1 6 1-12 1 12 1 10 1 9 1 9 1-1 1-33 1 10 1 7 1 37 1 8 1-6 1-12 1 27 1-7 1-2 1-2 1-30 1 13 1 18 1-27 1 22 1 1 1-12 1 13 1 5 1 5 1-29 1 2 1 21 1-16 1 8 1 5 1-19 1 10 1 27 1-6 1 17 1 0 1 8 1 13 1-9 1-13 1 15 1 19 1 3 1 8 1-4 1-27 1 29 1-19 1-1 1 17 1-9 1 7 1 19 1-25 1-26 1 24 1-6 1-20 1 23 1 0 1-19 1-40 1 21 1-3 1 18 1 21 1-24 1 9 1 16 1 8 1-12 1-24 1 25 1-18 1 10 1 2 1 4 1 1 1-14 1 21 1-10 1-24 1 2 1 17 1-17 1 2 1 0 1 3 1 7 1-11 1 53 1-35 1 30 1 4 1 12 1-18 1 18 1 19 1-16 1 31 1-17 1 10 1-14 1 11 1-19 1 3 1-17 1 2 1-16 1-6 1 19 1-16 1 0 1 6 1-7 1 21 1-42 1 23 1-4 1-36 1 4 1 6 1-7 1-2 1 10 1 7 1-13 1 40 1-29 1-6 1 24 1 7 1-7 1 32 1 7 1 3 1 11 1-7 1 18 1-16 1-8 1 43 1 18 1 3 1-20 1 9 1-1 1 13 1 7 1-15 1-6 1-22 1 24 1-10 1 7 1 31 1 0 1 2 1 0 1 8 1 4 1-2 1 1 1 24 1-14 1-2 1-7 1 3 1-16 1 8 1-3 1 17 1 24 1-15 1 12 1-3 1-9 1 11 1 1 1 16 1-1 1 2 1-23 1-8 1-25 1-10 1 15 1 18 1-4 1 20 1-23 1 25 1 13 1 7 1 20 1 14 1-2 1-5 1 1 1 6 1 1 1-17 1 6 1-1 1 8 1-1 1 17 1-1 1 3 1 6 1-1 1-17 1 6 1-27 1 28 1-29 1 39 1-9 1-21 1 10 1 0 1-27 1 3 1-2 1 14 1-10 1 14 1 7 1 18 1 11 1-1 1 14 1-15 1 39 1-35 1 52 1 7 1 0 1 5 1 2 1-25 1 30 1-1 1 16 1-6 1-24 1 16 1-1 1 6 1-15 1 0 1-9 1-16 1 17 1-14 1-14 1 27 1-17 1-10 1 15 1 11 1 16 1 8 1 26 1-10 1 2 1 10 1-19 1 6 1 7 1-5 1 22 1-6 1-21 1 18 1-12 1-1 1-9 1 2 1-11 1-16 1 5 1-12 1 4 1 0 1-13 1 28 1-23 1 14 1-12 1 15 1-31 1 44 1-28 1-8 1-10 1 29 1-28 1 23 1-14 1-3 1-9 1-4 1 28 1-29 1-2 1 16 1-21 1 13 1-8 1 15 1-37 1 6 1-3 1-23 1-6 1 1 1-2 1-2 1 20 1 1 1-5 1-7 1-17 1 8 1 26 1-24 1 36 1 9 1-14 1 11 1 1 1-16 1-7 1 16 1 5 1 41 1 0 1 6 1-13 1-2 1-11 1 17 1-9 1-6 1-1 1 17 1-22 1-10 1 10 1-8 1 2 1 22 1-34 1 3 1-10 1 12 1 4 1-23 1 24 1-32 1 6 1-9 1 16 1-15 1 5 1-8 1-25 1 46 1-20 1-3 1 16 1 12 1-19 1-8 1 27 1-7 1-15 1 27 1 10 1-28 1 0 1-8 1 21 1-4 1-27 1 15 1 16 1-28 1 12 1 13 1-24 1 12 1-2 1 10 1-9 1 6 1-17 1 1 1 18 1 1 1-4 1-1 1 13 1-1 1-5 1-11 1 20 1-2 1-8 1 7 1 18 1-4 1-14 1 32 1 3 1-9 1-23 1 7 1 6 1-5 1-9 1 7 1 17 1-7 1 17 1-15 1 24 1-32 1-2 1 19 1-29 1 21 1 10 1 1 1-14 1 1 1 4 1-1 1-3 1-2 1 10 1-20 1 21 1 7 1-11 1 21 1 8 1-16 1 26 1-22 1-10 1 6 1-20 1 6 1 17 1-7 1 4 1-19 1-18 1 22 1 8 1-3 1-10 1-21 1 11 1 4 1 23 1 13 1 8 1-9 1 1 1 21 1-21 1-1 1 2 1-14 1-6 1 8 1 6 1-7 1 19 1-9 1-15 1 16 1-21 1 25 1-6 1 12 1-23 1-12 1 4 1-3 1 16 1 5 1-4 1-9 1 15 1 4 1 5 1 35 1-18 1 27 1 2 1 9 1 9 1 39 1-12 1 18 1-14 1 11 1-14 1 7 1 15 1-4 1 14 1-14 1 14 1-13 1-7 1 11 1-12 1 15 1-26 1 12 1-13 1 11 1-17 1 7 1-4 1 10 1-2 1 8 1-22 1-1 1-15 1 34 1-32 1 11 1-27 1 4 1 10 1 8 1-15 1 0 1 36 1-8 1 11 1-7 1-30 1 9 1 30 1-24 1-5 1 4 1-10 1 9 1 22 1-14 1-10 1 6 1-1 1-16 1-27 1 12 1-18 1 7 1-16 1 15 1-18 1 3 1-22 1-14 1 4 1-2 1 5 1 13 1-11 1-3 1 16 1 0 1 20 1-8 1 19 1-8 1 14 1-4 1 20 1-15 1-7 1 18 1 4 1 21 1 4 1 8 1 3 1-8 1 21 1-18 1 12 1 9 1-3 1-23 1 24 1 9 1 12 1 5 1-12 1 21 1-8 1-24 1-1 1 24 1-47 1 8 1-17 1 10 1-10 1 0 1-7 1 12 1 3 1 2 1-19 1 21 1-4 1-11 1 33 1-17 1 14 1-20 1 14 1 22 1 28 1-19 1-13 1 2 1 4 1 6 1 5 1-7 1-5 1-4 1-14 1-17 1 13 1 13 1-41 1-4 1 23 1-14 1 18 1 12 1 12 1-15 1 16 1 16 1 16 1 0 1 4 1 3 1 6 1-6 1 3 1 18 1 0 1-26 1 3 1-6 1-13 1 0 1 6 1-1 1-28 1 27 1-4 1 18 1-27 1 4 1 6 1-8 1-28 1 30 1-11 1-19 1-10 1 4 1 19 1-2 1 9 1 25 1 23 1-25 1-7 1 17 1 6 1-13 1-8 1-2 1 12 1 7 1-27 1-10 1 1 1 12 1 3 1 5 1 2 1 0 1 19 1 16 1-28 1-4 1 23 1 10 1 0 1-18 1 20 1-8 1-16 1-27 1 26 1-12 1-9 1-8 1 2 1-14 1-23 1-10 1-12 1-41 1-2 1 9 1-15 1-22 1 19 1-14 1 5 1 0 1-13 1-9 1-14 1-10 1 10 1-10 1 7 1-9 1-26 1-15 1 35 1-13 1 9 1 20 1 4 1 12 1-14 1 22 1-3 1 20 1 12 1-34 1 18 1 32 1-17 1 15 1-17 1-3 1 4 1-23 1 4 1 12 1-9 1 9 1 2 1 2 1-1 1-15 1 17 1 9 1-5 1 2 1 5 1-26 1-7 1-16 1 25 1 6 1-20 1 39 1-26 1 8 1 3 1-14 1-1 1-22 1 25 1-29 1 10 1 9 1-16 1-10 1 0 1 3 1-2 1 5 1 5 1 9 1 5 1-8 1 15 1-25 1-5 1 13 1-9 1 12 1 15 1-5 1 27 1-13 1 53 1 4 1 1 1 20 1-12 1-1 1 3 1-33 1-1 1-10 1-4 1-8 1-26 1-6 1 23 1-25 1-11 1-18 1 7 1 0 1-6 1 5 1 19 1-23 1-15 1 15 1-20 1-2 1 20 1 5 1-2 1 19 1-5 1 0 1 17 1 12 1-3 1 2 1-3 1-6 1 1 1 15 1 5 1 16 1-2 1-4 1 3 1 25 1-16 1-8 1 15 1-24 1 19 1-7 1-6 1-2 1 11 1 11 1 22 1-23 1 14 1-2 1-14 1-23 1-5 1 7 1-41 1 2 1 11 1 22 1-4 1-8 1 0 1 25 1 20 1-10 1 1 1 21 1-10 1 10 1 11 1 37 1-12 1 34 1-6 1 3 1 4 1-17 1 31 1-2 1-35 1-11 1 17 1 5 1-26 1 2 1-6 1 24 1-18 1 4 1-31 1 13 1-11 1 19 1 0 1 2 1 5 1 3 1 3 1 12 1-10 1 30 1 10 1-11 1 13 1-15 1 10 1 9 1 21 1-5 1 33 1-4 1 22 1 1 1-3 1 2 1-7 1-2 1 43 1 1 1 18 1 10 1-18 1 26 1-5 1 15 1-6 1-31 1 2 1-24 1-1 1 1 1 21 1-6 1-20 1 8 1-21 1 18 1-18 1 14 1-2 1 6 1-18 1 2 1 15 1 2 1-4 1 18 1-19 1-21 1-8 1 4 1 11 1-18 1 26 1-10 1 18 1 4 1-8 1 5 1-24 1-2 1-1 1 24 1-37 1 19 1 12 1-9 1-18 1 20 1-32 1 7 1-11 1 14 1 1 1-2 1-12 1 24 1 0 1-7 1-14 1 8 1-11 1 36 1-40 1 6 1-1 1-6 1-10 1 0 1-6 1 21 1 16 1-4 1-10 1 18 1-9 1-17 1-7 1 8 1-7 1-20 1 21 1-4 1 1 1 2 1-32 1 19 1-4 1 9 1-16 1-4 1 5 1 17 1-1 1 21 1-15 1 0 1-1 1 3 1 20 1 5 1-24 1-4 1-3 1 15 1-4 1-8 1 1 1 18 1-4 1 4 1-16 1 31 1 10 1 6 1-11 1 14 1 19 1-7 1-19 1 17 1 5 1-5 1-6 1-25 1 14 1-26 1 9 1-7 1-20 1 10 1-7 1-13 1 19 1-5 1-6 1 18 1-9 1 6 1 1 1 6 1-14 1 15 1 3 1 23 1-6 1 28 1-5 1-16 1 7 1 34 1-14 1-8 1-12 1-7 1-32 1-3 1 3 1 0 1-11 1 8 1 0 1 9 1 31 1-18 1 25 1-19 1 0 1 8 1 4 1 18 1-27 1 0 1 23 1-4 1 28 1 11 1 2 1 11 1-10 1 9 1 14 1-25 1 7 1-21 1 2 1 0 1-12 1-11 1-22 1 27 1 22 1-11 1-30 1 29 1-8 1 24 1-11 1 16 1 26 1-7 1-2 1 25 1 3 1 28 1-14 1 19 1 17 1-20 1 28 1-6 1 23 1-17 1 10 1-5 1 52 1-23 1 11 1 3 1 19 1-1 1-13 1-9 1-10 1-26 1-6 1-21 1-16 1 12 1-15 1 8 1-12 1-34 1-13 1-6 1 19 1-10 1 24 1 1 1 21 1 6 1 12 1-10 1 10 1 12 1-20 1 2 1 26 1-14 1 13 1-18 1-11 1-7 1-44 1-2 1 5 1-14 1 22 1 8 1 0 1 17 1 43 1-41 1 28 1 22 1 17 1-27 1 16 1 19 1 9 1-22 1-2 1-14 1-9 1 4 1-9 1-1 1-1 1 28 1-39 1 16 1-10 1-13 1 22 1 18 1-18 1 7 1 7 1-8 1-6 1 18 1-8 1-7 1 0 1 7 1-18 1 5 1 19 1-10 1 9 1-8 1 12 1 3 1-37 1 24 1-47 1 3 1-9 1 0 1-8 1-1 1 8 1-14 1-24 1-15 1 41 1-34 1 28 1-11 1 4 1 35 1-28 1 0 1 42 1-20 1-25 1 5 1-26 1-15 1-16 1-1 1 11 1-18 1-2 1-22 1 38 1 5 1-10 1-20 1 30 1-2 1 9 1-3 1 3 1 20 1-25 1 32 1-11 1 27 1-13 1 20 1-1 1-7 1 21 1-12 1 32 1 5 1 16 1 6 1 0 1-2 1-2 1-16 1 22 1 5 1-9 1-29 1 1 1 0 1 0 1 29 1 9 1-29 1 19 1-47 1 22 1 16 1-15 1 5 1 39 1 19 1 11 1 0 1 6 1-10 1-15 1-4 1 5 1-37 1 29 1-26 1 8 1-4 1-4 1 1 1-8 1 13 1-21 1-13 1 15 1-1 1 9 1-17 1-5 1-15 1 10 1-4 1-1 1-3 1-6 1 4 1-2 1-14 1 4 1-12 1 2 1 3 1-4 1 0 1 3 1-28 1 8 1-5 1 13 1-10 1-27 1 16 1-10 1 14 1-20 1-23 1 34 1-30 1-10 1 7 1-10 1 5 1 1 1-3 1-9 1-18 1 5 1-17 1 12 1 4 1 1 1-11 1-8 1-2 1 12 1 7 1 17 1-53 1 10 1 3 1-22 1-20 1-22 1-5 1-7 1 0 1-19 1-13 1-22 1-2 1 16 1 3 1-20 1 13 1 17 1-30 1 29 1 6 1-14 1 18 1 0 1 15 1 6 1-2 1 0 1 15 1-1 1-20 1 27 1-9 1 1 1-4 1 3 1-5 1-13 1-2 1 18 1-15 1 13 1 5 1-8 1-19 1 30 1-13 1-32 1 24 1-15 1-8 1-1 1 50 1-10 1 0 1-28 1 17 1 10 1-4 1 19 1 4 1-4 1 16 1 18 1-30 1 20 1 17 1-43 1-20 1 39 1-7 1-42 1 25 1 12 1 11 1-6 1-6 1-2 1-32 1 13 1-21 1 19 1 0 1 2 1 14 1-4 1-4 1 2 1-2 1-7 1 9 1-7 1-1 1 6 1-2 1 23 1-7 1 22 1 10 1-6 1 22 1-5 1-8 1 28 1 8 1 0 1-9 1-6 1 14 1-24 1-9 1-18 1 1 1-1 1-14 1-11 1-20 1 9 1-10 1-24 1-27 1-10 1 26 1 5 1 4 1-4 1 9 1 1 1 0 1 3 1 23 1-9 1-19 1-4 1-11 1-31 1 1 1 2 1-2 1 9 1 26 1-10 1 20 1 13 1-16 1-6 1 13 1-14 1-9 1-10 1-9 1 4 1-18 1 9 1-38 1 3 1 3 1 5 1-14 1 0 1 6 1-30 1 7 1-1 1 13 1 0 1-17 1 19 1-5 1 2 1 5 1 21 1 6 1-21 1 19 1 5 1-5 1 1 1-11 1 16 1 13 1 1 1 2 1 0 1 26 1 12 1 16 1-26 1 6 1 30 1-4 1 20 1-3 1 8 1 23 1-3 1-4 1 18 1 20 1-12 1-6 1-23 1 16 1-3 1-16 1-21 1-21 1-25 1 7 1 12 1-34 1 15 1-16 1-11 1 2 1-12 1-5 1-16 1 12 1-8 1 1 1-2 1 32 1-29 1 9 1 17 1-32 1 0 1 0 1 2 1-5 1 9 1-3 1-2 1 27 1-7 1 1 1 10 1-36 1-2 1 0 1-3 1-7 1 2 1 16 1-6 1-2 1 1 1 42 1-13 1 15 1 18 1-7 1-10 1 11 1-3 1 4 1-16 1 13 1-20 1 21 1-30 1 15 1 12 1-14 1 19 1-34 1 34 1 11 1 4 1 10 1 1 1-22 1 25 1-12 1 9 1 6 1-17 1 14 1-3 1 14 1-7 1 9 1 16 1-12 1 8 1 1 1-23 1 2 1 0 1 18 1-14 1 17 1 12 1-10 1 30 1 3 1-1 1 21 1-36 1 16 1 27 1-22 1 13 1-3 1 1 1-40 1 34 1 14 1 4 1 9 1 4 1 19 1-4 1-13 1-2 1-22 1 14 1-9 1-7 1-3 1 6 1-24 1-8 1 16 1 4 1-14 1 1 1 2 1-12 1 11 1 11 1-5 1-3 1-9 1 5 1-12 1 31 1-15 1-4 1-12 1-11 1-11 1-11 1 8 1 2 1-14 1-14 1 6 1 15 1 4 1 6 1 22 1-3 1-6 1 16 1-4 1 19 1 14 1-20 1 9 1 4 1 4 1-5 1-25 1 3 1 16 1-2 1-11 1 8 1 4 1-28 1-1 1 9 1 7 1 8 1-28 1 15 1-20 1 10 1-5 1 19 1-23 1-12 1 20 1 18 1 18 1-7 1 0 1 0 1 6 1-13 1 20 1-19 1 7 1-11 1 3 1 14 1 13 1-20 1 25 1-5 1 14 1-2 1 48 1-42 1 32 1 12 1-18 1 16 1-9 1 0 1 9 1 24 1 16 1-15 1 25 1 5 1 6 1 1 1 24 1-6 1-3 1 0 1-12 1 5 1 4 1-7 1-8 1-36 1-19 1 14 1-16 1 18 1-19 1 16 1 1 1 25 1-16 1 1 1 33 1-12 1-4 1 0 1-3 1 9 1-23 1 15 1 5 1-14 1 4 1-2 1-2 1-32 1 11 1-3 1-21 1-7 1 6 1 1 1 22 1-12 1-12 1 10 1-4 1 17 1-28 1 13 1-14 1-7 1-23 1 9 1-7 1-20 1-1 1 5 1-1 1 5 1-30 1 29 1-20 1 17 1 30 1-3 1-13 1 2 1-2 1 0 1-4 1-25 1 17 1-13 1-11 1 2 1 18 1-21 1-16 1 33 1-39 1 14 1-29 1 5 1-5 1-1 1 25 1 11 1-21 1-10 1-5 1 19 1-7 1 5 1-3 1 8 1-7 1 10 1 24 1 6 1 5 1 10 1-6 1-8 1 26 1-7 1-27 1 10 1 13 1 0 1-12 1-14 1 14 1-5 1-35 1-3 1 0 1-23 1-7 1 12 1-17 1 27 1 30 1-12 1 8 1-14 1-13 1 3 1 2 1 6 1-18 1 10 1-18 1-3 1-2 1 18 1 13 1 17 1 0 1-11 1 30 1 9 1 2 1-7 1 3 1 14 1-5 1-21 1 5 1-16 1-12 1-28 1 7 1-2 1 28 1 3 1 7 1 2 1 10 1-22 1 3 1-2 1-13 1 10 1 3 1 23 1-3 1-25 1 22 1-1 1 18 1 16 1 0 1-13 1-5 1 14 1-11 1 30 1-7 1 8 1 5 1-27 1 24 1-6 1-6 1-11 1 36 1 9 1 0 1-15 1 3 1 6 1 12 1 18 1 16 1 17 1-2 1 21 1-4 1 28 1-12 1-14 1 4 1-14 1-8 1-5 1-31 1 8 1 3 1 9 1-9 1-8 1-28 1-7 1 1 1-13 1 20 1-3 1-4 1-7 1-11 1 2 1 1 1 19 1-27 1 12 1 2 1 4 1 2 1 17 1-8 1-28 1-22 1 24 1-4 1 5 1-10 1-13 1-7 1-24 1 5 1 15 1 16 1 5 1-42 1 27 1-21 1-8 1-15 1 6 1 21 1 9 1 6 1-23 1-8 1 5 1-19 1-5 1-25 1 6 1 3 1-25 1 4 1 13 1 22 1-11 1-1 1 1 1 0 1 3 1-22 1 12 1-22 1-24 1-2 1-2 1 5 1-1 1 18 1 7 1 4 1-26 1 9 1-4 1 23 1 13 1-9 1 15 1-9 1 5 1 15 1 15 1 10 1 10 1-2 1 6 1 18 1-14 1-14 1-8 1-29 1 12 1-3 1 3 1 27 1-16 1 5 1 3 1-24 1 3 1 24 1-16 1 24 1-22 1 18 1-15 1-14 1 11 1-10 1-2 1-13 1 14 1-17 1-12 1 9 1-9 1-17 1 19 1 0 1 23 1-24 1 8 1 1 1-33 1 3 1 5 1-21 1 28 1-49 1-15 1 5 1-15 1-3 1-11 1 11 1-13 1-1 1 12 1-7 1 7 1 1 1-6 1-19 1 12 1 13 1-8 1 2 1 12 1-22 1 38 1-12 1-4 1 43 1-8 1 1 1-2 1 43 1-26 1 27 1-11 1-14 1 18 1 12 1 6 1-8 1 40 1-34 1 11 1-9 1 5 1 20 1 16 1-3 1 17 1 25 1 1 1-11 1 20 1-28 1-5 1-7 1 4 1-2 1-15 1-9 1-37 1 9 1-7 1-21 1-13 1 6 1-15 1-2 1-9 1-11 1 12 1 20 1-13 1-3 1-1 1-12 1 10 1 2 1 31 1 8 1 15 1-23 1-9 1-4 1 3 1-1 1-11 1-3 1-19 1 35 1 1 1 6 1-14 1 7 1-8 1 18 1 27 1 2 1-10 1-5 1 40 1-15 1 18 1-16 1 7 1-21 1 1 1-18 1-7 1-2 1 9 1 4 1-33 1-7 1-2 1-7 1-9 1 14 1-19 1 3 1-18 1-35 1 9 1-21 1-7 1-22 1 14 1 26 1 5 1 17 1 21 1 27 1-3 1 3 1-4 1 0 1-18 1 11 1 15 1-11 1-38 1-2 1 9 1 14 1 6 1-5 1-6 1-3 1 9 1-3 1 33 1 8 1 23 1-7 1 39 1-12 1-3 1-4 1 17 1-23 1 22 1 5 1 25 1 14 1-8 1-28 1 9 1-4 1 0 1-5 1 3 1 18 1-11 1 12 1 17 1 19 1 4 1 1 1-22 1 2 1 13 1 0 1-21 1 8 1-6 1-10 1 6 1-25 1-1 1 2 1-5 1-3 1 9 1-21 1 12 1-17 1-1 1-3 1-3 1 12 1-19 1 7 1 8 1 24 1 7 1-15 1 0 1-11 1 20 1-16 1 9 1 5 1-15 1 20 1 8 1 0 1 2 1-30 1 12 1 13 1-6 1 1 1 6 1 2 1-1 1-5 1 13 1-20 1-6 1 23 1 6 1 8 1-5 1 12 1 13 1 9 1 4 1 19 1-8 1-16 1 36 1-7 1-17 1 6 1 11 1-4 1 6 1-19 1 3 1-37 1 21 1-8 1 6 1 6 1-37 1 12 1 0 1-14 1 2 1 9 1-4 1-12 1-14 1 21 1-9 1 20 1-16 1-21 1 19 1 2 1 5 1 3 1-2 1 6 1 6 1 30 1-8 1-11 1 0 1-21 1 11 1 19 1-27 1 33 1 6 1 12 1 4 1-1 1-3 1-22 1 5 1-9 1-8 1 13 1-11 1-22 1 17 1-7 1-2 1 0 1-4 1 22 1-16 1-5 1 34 1 15 1-22 1 17 1 3 1 9 1 21 1-15 1-4 1 22 1 0 1 16 1 0 1 21 1-7 1-5 1 11 1-15 1-3 1-21 1 21 1-3 1-7 1 12 1 6 1 25 1-6 1-3 1-2 1-3 1-5 1 20 1-8 1 16 1-3 1-10 1 26 1 12 1-5 1 28 1-15 1 26 1-16 1 8 1 5 1-29 1 18 1 3 1 14 1-38 1-30 1 32 1-14 1 12 1-19 1-2 1 29 1-3 1 13 1-24 1-12 1-1 1-10 1-2 1-16 1 35 1 20 1 4 1-28 1-15 1 16 1-12 1-11 1 33 1-50 1-4 1 18 1 23 1-5 1-3 1-9 1 39 1-9 1 16 1 1 1-29 1 9 1-25 1 0 1 7 1-7 1-13 1-7 1-27 1-11 1-1 1 7 1 31 1-8 1 5 1-10 1 4 1 31 1-14 1 21 1-3 1-9 1-23 1 30 1-8 1-2 1-36 1 11 1 8 1-14 1 1 1 25 1 11 1-4 1-18 1 28 1 4 1 8 1 17 1-2 1 8 1-6 1 8 1 39 1-18 1-18 1 33 1-14 1-26 1-8 1 2 1-13 1 8 1 2 1-18 1 9 1-20 1 27 1-9 1 2 1-2 1-5 1 2 1-7 1-7 1 9 1-7 1-19 1-7 1 14 1-5 1 7 1 6 1 20 1-8 1 23 1 0 1-19 1 14 1-31 1 34 1-15 1-22 1-2 1-10 1 12 1-8 1 12 1-9 1-7 1 0 1 9 1 10 1 5 1 13 1-23 1 0 1 6 1-6 1 20 1-8 1-22 1 3 1 25 1-36 1 8 1 18 1-20 1 4 1 3 1-5 1-1 1-2 1-20 1-2 1 37 1 1 1 22 1-3 1-11 1-5 1 5 1-11 1 19 1-15 1 19 1-11 1-3 1 7 1-2 1 3 1-9 1 25 1 1 1-18 1-3 1-5 1 1 1-21 1 10 1-2 1-1 1-14 1 5 1 21 1-4 1 10 1 2 1 13 1-3 1 3 1 3 1 28 1-14 1 7 1-17 1 25 1 0 1-4 1 13 1 16 1-2 1 14 1 0 1 7 1-8 1 1 1 9 1-34 1 1 1-8 1-14 1 3 1-13 1 31 1-25 1 7 1 14 1-5 1 19 1-9 1-21 1 0 1-17 1 0 1 2 1-4 1-18 1 33 1-1 1-7 1 5 1 11 1-7 1 5 1-4 1-16 1-27 1-3 1-11 1-10 1-11 1 32 1-25 1 7 1-10 1-4 1-8 1 5 1-16 1-5 1 27 1-7 1-15 1-6 1 2 1-18 1 8 1 25 1-19 1 24 1-25 1-11 1 19 1 18 1-9 1-1 1-1 1 2 1-16 1 16 1-20 1 9 1-8 1-31 1 2 1 9 1-10 1-14 1 12 1-15 1 7 1 0 1-12 1 13 1 19 1 9 1 6 1 2 1-13 1-2 1 2 1 9 1 14 1-24 1 4 1-11 1-46 1 16 1-10 1-25 1-29 1-10 1-2 1-5 1 0 1-31 1 17 1 0 1-14 1 19 1-30 1 17 1 13 1-11 1 1 1-11 1 24 1-6 1 20 1-2 1 5 1-11 1 13 1 10 1 11 1 6 1 20 1-13 1-1 1-5 1 3 1-1 1-5 1 10 1-35 1 15 1-1 1-8 1 13 1-21 1 3 1-3 1-28 1 4 1 15 1-8 1 6 1 3 1-31 1 8 1-22 1 3 1 15 1-30 1-6 1 5 1-1 1-12"/>
<path class="c" transform="scale(.5)" stroke="#00ffff" stroke-width="6.4" d="M501 1209l1 7 1 6 1 9 1 15 1 4 1 9 1 10 1 6 1 13 1 5 1-7 1-1 1 10 1-14 1 12 1 11 1 2 1 1 1 2 1-9 1-6 1-4 1-4 1-1 1 12 1-52 1 6 1 11 1 4 1 4 1-3 1-18 1-16 1 18 1-16 1-15 1 2 1 19 1 2 1 8 1 10 1 5 1 11 1-14 1 11 1 18 1-4 1 13 1 20 1 0 1 1 1 10 1 0 1-4 1 20 1 13 1-25 1 28 1-2 1 34 1-15 1 17 1 2 1 4 1-14 1-2 1-7 1 17 1-12 1-15 1 14 1 19 1 12 1-3 1-17 1 18 1 4 1 27 1-4 1-2 1 9 1 3 1 13 1-11 1-26 1 12 1 13 1-26 1 2 1 15 1 17 1 2 1 25 1-26 1 7 1 13 1 9 1 4 1-3 1-12 1 26 1-13 1 12 1 24 1-10 1 21 1-5 1 23 1-21 1-8 1-11 1 29 1 2 1 8 1 11 1-2 1-9 1-6 1-8 1-2 1 42 1-41 1 44 1-5 1-17 1-9 1-7 1-18 1 21 1-12 1 2 1-14 1-1 1 3 1-1 1-13 1 4 1-6 1-26 1 8 1 14 1-21 1 11 1-3 1 0 1-3 1-15 1 35 1 16 1 13 1-5 1-21 1 17 1 23 1-15 1 30 1-36 1 33 1 37 1-21 1 12 1 23 1 4 1-4 1-15 1 18 1 11 1 12 1 11 1 7 1-23 1 6 1-46 1-11 1 14 1 1 1-12 1 27 1-7 1-10 1 16 1-6 1-4 1 4 1-10 1 14 1 14 1-5 1 15 1 35 1-15 1 8 1-19 1-43 1 13 1-32 1-14 1-39 1 25 1-19 1 17 1-1 1-20 1 12 1-9 1-2 1 15 1 8 1-4 1-20 1 30 1 2 1 3 1 24 1-28 1 6 1 18 1-1 1-14 1-2 1 19 1-14 1 15 1-14 1-4 1 5 1 22 1 8 1-25 1 13 1-8 1-5 1 5 1 35 1-22 1-22 1-4 1 36 1-19 1 7 1 7 1-4 1-9 1 28 1 14 1-23 1 9 1-6 1 22 1 3 1 13 1 3 1 12 1-14 1 18 1 8 1-7 1 5 1-11 1 24 1 4 1 4 1 17 1 29 1 0 1 6 1-22 1 9 1-1 1-7 1-12 1 30 1 19 1-16 1 23 1 11 1-8 1 19 1 8 1-4 1 11 1-10 1 0 1 10 1-17 1 18 1-7 1-7 1-13 1 0 1-10 1 1 1 13 1-17 1-11 1 17 1-30 1-2 1-14 1 20 1-33 1 14 1 5 1 24 1-7 1 3 1 23 1-12 1 25 1-36 1 41 1-16 1 0 1-18 1 12 1 3 1-21 1 20 1 0 1 2 1 22 1-12 1 21 1-20 1-8 1 8 1 5 1-3 1 9 1-3 1-26 1 25 1 13 1 0 1-35 1 3 1-11 1-1 1-8 1 4 1-20 1-10 1 4 1-9 1-8 1 19 1-21 1-10 1 1 1 1 1-1 1-25 1 22 1 21 1-17 1 11 1-4 1 16 1-12 1 29 1-3 1-18 1-8 1 7 1 15 1-4 1 39 1 5 1 8 1-11 1 5 1 6 1 1 1 5 1-7 1 1 1-4 1-6 1 23 1-3 1-1 1-7 1-24 1 12 1 0 1-10 1-37 1-4 1-1 1 6 1 35 1-27 1-21 1 7 1-23 1 0 1 13 1 24 1-14 1 27 1-14 1 45 1 16 1-1 1-8 1-19 1 12 1 4 1-8 1 23 1-12 1 7 1-15 1-26 1-10 1-2 1-3 1-2 1-28 1 23 1-40 1 21 1-8 1 3 1 20 1-11 1-6 1-2 1-10 1 8 1-27 1-17 1-13 1 15 1-10 1 26 1-8 1-8 1 0 1-20 1-2 1 26 1 34 1-19 1 8 1-10 1 21 1-28 1 14 1-2 1-2 1 6 1-14 1-4 1 13 1 8 1 19 1 2 1 0 1 10 1-11 1 12 1 33 1-28 1 0 1 3 1 20 1 6 1-25 1 11 1 2 1 10 1 3 1 19 1-18 1 0 1-11 1 7 1-9 1-2 1-19 1-14 1 23 1 9 1 15 1 11 1 30 1-8 1 4 1 1 1 21 1 10 1 11 1 9 1 3 1 16 1 0 1-9 1-2 1-15 1 4 1-19 1-6 1-29 1 10 1-13 1 12 1-28 1-10 1 3 1-17 1 0 1-26 1 30 1-11 1-12 1-18 1 16 1-34 1 2 1 10 1-2 1-8 1-21 1-9 1-8 1 0 1-14 1-23 1 30 1-4 1-1 1-2 1 21 1 2 1-4 1-6 1-21 1 30 1 9 1-23 1-12 1 1 1-12 1 12 1-6 1 11 1 8 1 1 1 8 1 4 1 11 1-8 1 24 1-6 1 6 1-10 1 12 1 4 1 13 1 2 1 14 1-14 1 4 1 28 1-18 1-10 1 3 1-21 1 43 1-13 1 1 1-3 1 24 1-4 1-3 1 2 1-19 1 20 1-3 1 20 1 31 1-23 1-11 1 19 1 8 1-12 1-6 1-14 1 22 1 17 1-7 1 30 1 3 1-12 1-18 1 10 1-3 1-4 1 8 1 27 1-25 1 7 1-19 1-14 1-10 1 43 1-19 1 4 1 3 1 24 1-1 1 9 1 8 1 2 1-5 1 6 1-5 1-9 1-13 1 27 1 4 1 19 1 0 1 5 1-34 1 16 1 21 1 3 1 20 1 5 1 4 1-11 1 27 1-27 1 41 1-3 1-31 1 2 1 0 1-28 1-19 1-21 1 9 1 2 1-28 1 16 1-5 1-11 1 7 1-22 1 27 1-25 1-11 1 24 1 1 1-13 1 10 1-20 1 10 1-9 1 13 1-9 1 1 1 1 1-17 1 25 1 11 1 7 1-25 1 12 1 22 1 9 1-11 1-1 1 14 1-7 1-14 1 11 1-14 1 34 1-18 1-13 1-7 1-3 1-17 1-6 1 5 1 3 1 2 1 20 1-6 1-3 1 2 1-14 1 6 1 7 1-8 1 31 1-14 1-20 1 12 1 19 1-32 1 22 1-17 1 14 1-37 1 20 1 5 1 27 1-12 1 1 1-7 1-13 1 1 1-2 1 22 1 2 1-5 1-8 1 11 1 28 1-3 1 23 1-9 1 13 1 5 1-1 1 25 1 3 1 10 1 11 1-22 1-1 1 8 1 20 1-7 1-5 1-2 1 23 1-26 1 7 1-5 1-13 1 0 1-15 1 5 1-18 1-2 1 27 1-27 1-3 1-7 1-6 1 23 1-13 1-17 1 14 1-10 1-10 1 13 1-3 1-8 1 17 1 12 1 18 1 1 1-14 1 13 1 1 1-2 1-4 1-8 1-2 1-15 1-2 1-22 1 11 1 9 1-5 1 21 1 1 1-20 1 16 1-1 1 33 1-1 1-4 1 4 1 12 1 10 1-2 1 31 1-16 1 1 1-8 1 1 1 12 1 18 1-1 1 7 1 18 1-22 1 37 1-20 1-8 1 18 1-18 1-10 1-24 1 18 1-9 1 3 1-1 1 11 1 27 1 0 1-18 1 17 1 3 1-2 1-19 1 2 1 25 1 9 1 5 1-16 1-4 1 0 1-36 1-10 1-6 1-11 1-24 1 2 1 13 1-28 1 24 1-32 1 6 1 3 1-19 1 12 1-10 1-21 1-7 1-11 1 24 1-23 1 4 1-12 1 29 1-44 1 32 1 10 1-23 1-18 1 23 1-20 1-8 1-16 1-23 1 20 1-9 1-22 1 14 1 5 1-8 1 5 1 2 1 5 1-7 1 22 1-1 1 4 1 19 1-18 1-12 1 5 1-9 1-16 1 38 1-26 1-15 1 31 1-30 1 11 1-2 1-2 1 30 1-16 1 0 1-2 1-3 1 15 1 21 1-3 1 6 1-9 1-1 1 8 1 9 1-4 1 9 1-13 1 13 1-29 1 28 1 4 1 8 1 8 1-15 1 26 1 11 1-28 1 5 1 15 1 29 1-17 1 11 1 0 1-3 1 22 1 12 1 4 1-4 1-27 1 10 1 13 1-4 1-5 1-9 1 13 1 10 1 11 1-21 1 37 1-14 1 4 1-10 1 2 1 18 1-1 1-14 1 6 1 11 1-6 1 24 1 19 1 21 1-14 1 24 1-15 1 11 1-14 1 22 1 1 1-8 1 17 1-32 1 4 1 7 1-14 1 6 1-9 1-8 1 1 1 26 1 16 1-19 1 22 1 17 1-7 1 25 1 16 1-3 1-4 1-6 1 8 1-13 1 6 1 11 1-26 1-4 1-36 1-3 1-16 1 12 1 2 1-26 1 8 1 16 1-4 1-7 1-16 1-6 1 8 1-9 1-3 1 6 1 24 1-9 1 29 1 4 1 17 1-23 1 8 1-22 1 43 1-26 1 12 1-6 1 11 1-6 1-12 1-3 1 16 1-5 1 20 1 4 1 6 1 7 1 1 1-15 1-2 1 48 1-14 1 2 1 1 1 17 1-11 1 7 1 13 1-13 1 35 1-16 1-11 1-28 1-4 1 9 1 9 1-18 1 16 1 1 1 14 1-14 1 10 1-12 1 6 1 14 1 0 1-3 1 6 1 7 1-31 1 1 1-9 1-18 1-12 1 36 1-2 1 6 1-3 1 14 1-10 1-24 1-1 1-13 1-1 1-3 1 8 1-19 1 5 1-19 1-12 1-13 1 15 1-13 1 9 1 3 1 11 1 8 1 3 1 15 1-13 1 27 1 8 1 1 1-25 1-6 1-23 1 30 1-25 1-1 1-32 1-7 1-12 1 7 1-16 1 1 1-2 1 8 1 16 1-9 1 1 1-6 1 12 1-22 1 35 1 11 1 6 1 9 1 11 1-4 1-3 1 13 1 9 1 28 1-37 1 22 1 8 1-19 1 22 1-1 1 1 1-23 1-25 1-6 1 0 1-11 1-20 1 6 1-25 1-6 1 3 1 22 1-10 1 3 1-13 1-7 1 5 1-8 1 7 1-23 1 3 1 7 1-29 1 9 1-22 1-13 1 20 1-24 1 2 1-7 1 1 1 1 1 5 1-2 1-7 1 18 1-13 1-13 1-3 1 10 1-5 1-14 1-21 1 27 1-26 1 4 1 11 1 26 1-1 1 3 1-2 1-19 1 32 1 12 1-18 1 9 1-4 1 17 1-21 1 28 1-5 1 7 1 0 1 8 1-17 1 3 1-2 1-27 1 8 1 17 1 5 1 13 1 3 1-14 1 30 1 1 1 16 1 18 1-6 1-28 1-1 1-3 1-9 1-11 1-5 1-5 1-25 1 17 1-12 1-8 1 5 1-3 1-12 1 1 1-4 1 30 1-21 1 18 1-8 1-8 1 2 1-34 1 31 1 14 1-25 1 7 1-11 1-25 1 24 1-38 1 15 1-3 1-6 1 5 1 15 1 10 1-17 1-1 1 25 1 22 1-36 1 24 1-7 1-10 1-8 1-17 1-10 1 14 1 8 1-12 1 5 1-21 1 4 1-10 1 2 1 5 1-7 1 13 1-30 1 7 1 9 1-39 1-16 1-1 1 13 1-23 1 16 1 10 1 14 1 13 1 15 1-3 1 0 1 36 1 0 1 15 1 12 1-7 1 20 1-7 1 6 1 3 1 12 1 12 1 18 1-11 1-3 1 45 1 7 1-6 1 15 1 15 1-9 1-16 1 4 1 21 1-13 1-23 1 23 1-33 1-2 1-5 1 17 1-19 1-34 1 18 1 1 1-30 1 9 1-5 1 25 1 1 1 12 1 17 1-11 1-6 1 20 1-26 1 24 1-12 1-28 1 17 1-21 1 34 1-26 1 35 1-10 1-6 1 21 1-16 1 28 1-9 1-12 1 32 1-12 1-14 1 5 1 10 1-14 1 25 1-9 1 8 1-13 1 14 1 26 1-28 1-9 1 7 1-7 1-8 1 6 1-9 1 7 1 4 1 6 1-27 1 35 1-15 1 14 1-4 1 2 1-2 1-16 1 19 1-23 1-20 1 1 1 23 1-1 1-6 1 5 1-25 1-2 1 14 1-14 1-15 1-11 1 18 1-19 1-14 1-11 1-25 1 20 1-13 1 12 1 5 1-25 1 10 1-26 1-14 1 12 1-5 1-6 1 4 1-16 1 23 1 1 1 6 1 6 1 15 1-19 1-10 1-15 1 34 1 5 1 9 1 7 1 12 1-24 1 23 1-12 1 8 1 14 1-16 1 1 1-9 1 5 1-9 1-6 1 25 1 6 1-10 1 10 1 0 1-23 1-8 1-9 1-3 1 5 1-20 1 10 1 2 1-12 1-34 1 9 1 7 1-36 1 2 1-1 1 6 1-16 1-5 1-4 1 23 1 6 1-2 1 14 1-22 1-6 1 30 1 12 1-33 1 7 1 12 1-7 1 3 1 6 1 16 1 16 1-4 1 12 1-14 1 13 1 1 1-10 1 2 1 5 1 8 1 8 1-13 1 1 1-5 1 15 1 32 1-2 1-11 1 15 1 8 1-10 1-12 1 17 1-14 1-19 1 28 1-13 1 24 1 4 1 8 1 18 1 17 1 4 1 20 1 17 1-22 1-14 1 15 1-14 1 14 1 4 1-5 1 1 1-4 1-5 1 19 1-22 1 15 1-25 1 3 1 27 1-27 1 37 1 3 1-14 1-17 1 12 1 9 1-5 1-1 1 0 1-25 1 22 1-5 1-14 1 16 1 0 1 0 1 23 1-13 1-9 1 19 1 2 1-7 1-7 1-21 1 7 1-4 1 8 1-8 1-10 1 9 1 10 1 2 1-17 1 5 1 14 1-15 1 12 1 9 1-2 1-4 1 18 1-10 1-27 1-14 1 6 1 5 1-4 1-9 1-10 1-12 1 8 1 4 1-4 1-2 1-4 1-4 1 18 1-5 1-9 1-5 1 20 1-13 1 17 1-12 1 43 1-19 1-2 1-26 1-9 1-4 1-5 1-2 1 16 1-9 1-11 1 5 1 14 1-9 1 37 1-2 1-15 1-3 1 13 1-14 1-12 1 12 1 13 1-1 1-11 1-2 1-26 1 16 1-24 1-21 1 3 1 5 1-10 1 9 1 32 1 8 1-16 1 28 1 3 1 24 1-8 1-11 1-4 1-7 1-11 1 20 1-12 1-25 1-7 1 5 1 0 1 5 1-3 1-16 1-5 1-9 1 18 1-23 1 8 1 1 1 0 1-5 1-15 1 11 1 0 1 31 1-34 1 15 1-20 1 7 1 0 1 3 1-9 1-13 1 17 1-4 1 23 1-33 1 15 1-6 1-13 1 16 1 11 1-8 1 6 1 7 1-11 1-7 1-2 1-2 1 0 1 14 1 7 1-7 1-6 1-15 1 5 1 2 1-27 1-1 1-20 1 17 1-20 1 3 1-33 1 11 1-26 1-7 1-2 1 24 1-40 1 18 1-9 1-4 1 13 1-16 1-8 1 6 1-26 1 36 1 1 1-12 1 11 1 16 1 1 1 24 1 7 1-17 1 12 1 11 1 2 1-2 1-1 1 12 1-14 1-5 1-11 1 0 1-4 1-6 1 12 1 14 1 1 1 21 1-9 1-4 1 15 1-22 1 11 1 0 1-12 1-11 1-12 1 16 1 16 1 15 1 0 1-1 1 15 1-8 1 8 1 0 1 3 1-7 1-1 1-14 1 1 1 6 1-17 1 20 1 17 1-12 1 21 1-13 1 9 1 13 1-15 1 23 1-18 1-6 1 0 1-8 1-14 1 25 1-6 1-4 1-11 1 34 1-31 1 27 1-31 1 33 1 2 1-2 1-19 1 0 1 3 1 2 1-4 1-6 1-7 1 9 1 6 1-19 1 2 1-10 1 23 1 10 1 4 1-3 1-14 1-14 1 0 1 8 1-3 1-18 1-1 1-7 1-17 1 9 1-43 1 25 1-12 1 24 1-8 1 4 1-18 1-8 1 13 1-3 1 9 1 2 1 3 1-14 1 22 1-25 1 16 1-13 1-9 1 10 1-14 1-7 1 9 1-20 1-17 1 25 1-39 1-13 1 17 1-7 1 1 1 1 1 1 1 9 1-8 1 3 1-8 1-4 1-16 1-27 1 36 1-17 1 24 1-11 1-4 1-10 1-3 1 25 1-24 1 12 1 2 1 17 1 5 1 22 1-17 1-11 1 2 1 23 1-18 1-3 1-1 1 18 1-9 1 0 1 13 1-23 1-18 1-2 1 12 1-7 1 7 1-13 1-19 1-6 1-3 1 12 1 8 1-1 1 5 1 19 1 0 1 26 1-22 1 21 1 7 1-5 1-11 1 15 1-6 1 5 1-6 1 10 1-2 1-6 1 21 1 0 1-18 1 9 1 25 1-3 1 22 1-37 1 2 1 22 1-13 1 12 1-1 1-5 1 4 1 5 1-16 1 12 1-15 1 5 1-4 1-2 1 10 1-17 1 15 1 1 1-2 1 42 1-31 1 7 1-7 1-8 1-4 1-10 1-13 1 1 1-9 1-17 1 35 1-11 1-13 1 17 1-32 1 29 1 15 1-12 1-27 1 16 1 25 1-30 1 6 1 6 1-1 1-13 1 30 1-2 1 4 1 23 1 15 1-6 1-20 1-8 1-3 1-10 1 16 1 4 1-12 1-6 1 6 1 10 1-8 1 7 1 15 1-9 1-7 1-27 1-24 1 32 1-29 1 19 1 8 1-11 1 27 1-2 1-10 1 4 1-1 1 19 1-24 1-22 1 31 1-35 1 12 1 14 1 11 1-25 1-4 1-8 1 4 1 14 1-15 1-16 1-9 1-11 1-1 1-32 1 39 1-8 1-6 1 5 1 12 1-21 1-31 1 26 1 3 1-9 1 0 1 12 1-6 1 0 1 5 1 5 1-6 1-38 1-39 1 11 1-19 1 3 1-21 1-13 1-8 1-19 1-4 1 16 1-1 1-43 1 23 1 3 1 11 1-15 1-8 1-6 1 7 1 20 1-10 1-5 1 17 1 5 1-19 1 3 1 27 1-23 1-6 1 7 1 20 1-9 1 4 1 10 1 5 1-3 1-7 1 2 1-13 1-4 1-2 1 3 1 9 1-1 1-7 1-9 1 0 1 9 1-11 1 38 1 9 1-10 1-32 1 12 1-11 1 11 1-14 1 11 1-28 1-8 1 44 1-9 1 0 1-4 1-4 1 14 1 10 1 6 1-26 1 9 1-5 1 5 1-21 1 5 1 4 1 12 1-10 1-7 1-32 1-11 1 7 1-18 1 19 1 2 1 8 1 9 1 4 1 6 1-8 1 10 1 12 1-9 1 15 1-7 1-19 1 24 1 12 1-7 1 9 1-15 1-12 1 7 1 28 1-18 1 3 1 23 1-6 1-21 1 20 1-43 1 36 1-5 1-19 1 18 1 0 1 20 1-32 1-24 1 7 1-8 1 6 1 5 1 10 1 11 1-3 1-16 1 27 1-26 1-29 1-11 1 21 1 3 1-11 1-12 1-5 1 11 1 8 1-24 1-5 1 16 1 5 1-15 1-8 1-7 1-14 1 11 1-24 1-4 1 12 1-2 1 18 1-30 1 27 1-6 1 14 1-3 1-1 1 12 1 6 1-21 1 1 1-12 1-10 1-10 1 12 1 12 1-36 1 3 1-5 1-19 1 9 1 13 1-18 1-14 1-1 1-15 1 26 1-19 1 18 1-15 1 33 1-10 1 29 1-17 1 2 1 6 1 11 1 5 1-7 1-2 1 5 1-18 1 10 1 8 1 10 1-4 1-1 1 7 1 6 1-34 1 35 1-25 1 2 1-6 1 26 1 7 1-10 1 9 1 9 1-30 1 1 1 8 1-8 1 3 1 11 1 11 1-12 1 15 1-1 1-20 1-14 1-3 1 16 1-39 1 21 1 1 1-10 1 9 1-16 1 11 1-16 1 7 1 48 1 1 1 47 1-2 1 13 1-2 1 29 1 1 1 15 1-7 1-7 1 11 1-5 1-6 1 10 1 3 1 24 1-25 1 27 1 15 1-24 1-7 1 0 1 7 1 10 1 4 1-11 1 32 1-20 1-18 1 14 1 6 1 40 1-18 1-5 1 13 1-17 1 14 1 17 1-15 1-19 1 33 1-7 1 8 1-7 1 36 1-22 1 25 1 3 1 8 1 17 1-26 1-25 1 6 1 21 1 5 1-29 1 3 1 12 1-22 1 5 1 30 1-5 1-4 1 18 1 7 1-1 1-15 1 11 1 9 1-2 1-12 1 8 1 6 1 20 1-15 1 22 1-1 1-9 1-11 1 21 1-26 1 18 1 1 1 6 1 10 1-22 1 9 1-5 1-15 1-6 1 6 1-7 1-1 1 6 1-17 1-5 1-8 1-4 1-7 1-7 1 8 1-15 1 7 1-9 1-20 1 20 1 0 1-17 1 19 1-6 1 26 1-3 1 4 1-6 1-12 1 25 1-1 1 3 1 13 1-7 1 2 1 5 1 13 1-9 1 18 1-16 1 14 1-25 1 39 1-17 1-7 1-17 1 0 1 10 1-4 1-16 1-2 1-1 1-15 1 9 1 1 1-9 1-1 1 0 1 0 1-12 1-2 1-2 1-15 1 23 1-12 1 8 1-9 1 0 1-38 1 12 1-3 1 8 1-10 1 6 1-24 1 16 1-15 1 2 1 7 1-13 1 21 1-19 1 45 1-30 1 17 1-4 1 3 1-6 1-24 1 26 1 15 1 5 1-1 1-1 1 20 1 12 1-41 1-7 1 40 1-18 1-12 1 6 1 14 1 0 1 7 1-19 1 1 1 8 1 21 1-14 1 24 1 10 1-5 1-4 1-9 1 40 1-1 1 5 1-6 1-7 1 17 1 16 1 16 1-10 1 13 1 4 1-12 1 25 1-14 1 6 1-16 1 12 1-13 1 4 1 11 1-24 1 16 1-29 1 18 1-19 1 6 1-27 1 19 1-17 1 3 1-16 1 22 1-7 1 14 1-14 1-2 1 1 1-6 1-9 1 0 1-1 1-5 1 7 1-36 1 5 1-4 1-4 1 6 1-7 1 21 1-20 1 25 1-12 1 3 1-15 1-17 1-6 1-4 1 23 1-39 1 2 1-4 1 10 1-13 1 14 1-22 1 12 1 13 1-3 1-7 1 18 1-23 1-17 1 6 1 11 1-13 1 1 1-5 1 0 1-16 1 15 1-1 1-28 1 9 1-19 1 41 1-27 1-4 1 17 1 27 1 5 1-1 1 7 1 27 1-3 1-3 1 20 1 30 1-22 1 8 1 22 1-5 1 21 1-17 1 10 1 15 1 8 1-9 1 4 1 15 1 6 1 9 1 12 1-3 1 26 1 11 1-16 1-1 1-10 1-7 1-7 1-1 1 16 1-6 1-19 1 7 1-4 1 6 1 16 1-3 1 20 1-8 1-1 1 12 1-9 1-12 1 24 1-13 1-23 1 5 1-1 1-20 1-2 1 4 1-12 1 4 1 4 1-13 1 3 1-10 1 3 1 3 1-5 1 11 1 13 1-21 1 13 1-6 1 10 1-14 1 23 1 10 1 3 1-3 1 1 1-24 1 3 1 18 1-29 1 27 1-7 1 23 1 16 1-8 1-8 1-3 1 25 1-28 1 17 1-14 1-1 1 12 1-9 1-5 1-27 1 17 1-3 1-11 1 4 1 0 1-4 1-3 1-1 1-9 1-5 1-9 1-9 1 28 1-28 1-5 1 2 1 4 1-26 1-5 1 3 1 19 1 6 1 13 1 8 1 12 1 22 1 8 1-23 1 15 1 5 1-13 1 3 1 10 1 7 1 11 1-11 1 16 1 2 1-2 1 2 1-17 1-1 1 13 1 29 1 12 1-12 1 24 1-2 1-3 1 31 1 2 1-16 1 17 1-20 1 9 1 3 1-9 1 18 1-26 1-12 1 5 1 2 1-19 1-13 1 13 1-8 1-3 1-3 1 14 1-11 1-1 1-7 1 13 1 29 1-20 1-45 1 26 1-19 1-19 1-1 1-16 1-22 1-2 1-1 1 12 1 0 1 15 1-18 1 11 1-22 1 11 1 8 1 4 1-21 1 9 1-13 1 1 1 19 1-11 1 30 1-3 1 18 1-16 1 11 1 4 1-11 1-11 1 16 1 6 1 18 1-5 1-19 1 5 1-3 1-5 1-4 1-14 1 7 1-2 1 1 1-23 1 22 1 8 1 8 1 17 1-31 1-22 1-9 1 6 1 0 1-15 1 1 1 0 1-6 1 22 1-10 1-11 1-12 1-14 1-5 1 47 1-4 1-2 1 1 1-8 1 8 1-21 1 22 1 19 1-9 1 11 1 5 1-8 1-18 1 9 1-4 1-11 1 24 1-8 1 6 1 3 1-8 1 15 1-21 1 7 1 14 1-20 1 32 1 3 1-22 1 2 1-20 1 27 1 0 1 13 1 15 1-20 1 15 1 28 1 4 1-27 1 2 1 25 1-2 1-19 1 11 1-5 1 19 1-34 1 10 1-1 1 6 1-8 1-7 1 0 1 3 1-24 1-1 1 10 1-2 1 13 1-23 1 37 1-17 1 1 1 3 1-8 1 4 1 32 1 6 1-7 1 16 1-1 1 9 1 6 1 14 1-17 1 3 1 5 1-5 1-5 1 9 1 25 1-24 1-15 1 8 1 12 1-14 1 8 1 23 1 2 1-9 1 8 1 6 1 3 1 4 1-32 1 8 1-5 1-3 1-3 1-2 1-20 1 7 1-10 1-8 1-15 1-9 1-4 1 6 1-15"/>
<path class="c" transform="scale(.5)" stroke="#0000ff" stroke-width="6.4" d="M501 1209l1 7 1 8 1 7 1 2 1 9 1 16 1 1 1 10 1-2 1 13 1 6 1-4 1 3 1 26 1-4 1 18 1 22 1-17 1 32 1-11 1 2 1 8 1 11 1 13 1 7 1-6 1 9 1-33 1 28 1-8 1-18 1-6 1-5 1 44 1-39 1 8 1-8 1-6 1-13 1 7 1 3 1-9 1 8 1-33 1 10 1 7 1 14 1-2 1 5 1 18 1 21 1-9 1-2 1-19 1 14 1-15 1-15 1 38 1-10 1 12 1-26 1 22 1 1 1-10 1 7 1-24 1 8 1-8 1 24 1-6 1-18 1 12 1 12 1-16 1 40 1-6 1 2 1 13 1 3 1 19 1-8 1-9 1-13 1-16 1-4 1 1 1-1 1 2 1-17 1-5 1-3 1-18 1 22 1-1 1-1 1 2 1-13 1-2 1-30 1-3 1 16 1-3 1-4 1 9 1-7 1-13 1 10 1-13 1 2 1 24 1-27 1-9 1-8 1 10 1-8 1 6 1 5 1-10 1 35 1-12 1 7 1 0 1 4 1-4 1-6 1-11 1 13 1-3 1 14 1-7 1 11 1-5 1-5 1-28 1 28 1-38 1 15 1 12 1-17 1 10 1-16 1-1 1-39 1 3 1-9 1 0 1 2 1-15 1-13 1 32 1 10 1-26 1 23 1 17 1-15 1 18 1 35 1-21 1 13 1 14 1 8 1-8 1 1 1 19 1 20 1-7 1 12 1-9 1-16 1-3 1 0 1 4 1 4 1 0 1-12 1-9 1-8 1 2 1-4 1 4 1 11 1 2 1 7 1 36 1 9 1-7 1-7 1-4 1-12 1 5 1 4 1 46 1-12 1-12 1-5 1 0 1 8 1 0 1 14 1-34 1 15 1-11 1 22 1 15 1-11 1-25 1-10 1 22 1-38 1 6 1 26 1-2 1-23 1 23 1-39 1 0 1-11 1 7 1-5 1 12 1-8 1-3 1-4 1 6 1-11 1-5 1 25 1-22 1 5 1 10 1-3 1-20 1-7 1 7 1-4 1-3 1 12 1 29 1 11 1 15 1-11 1 5 1-5 1-1 1 22 1-21 1-4 1 3 1 5 1 0 1-13 1 26 1-9 1 11 1 6 1-3 1-40 1 8 1 4 1 2 1-11 1 24 1-16 1-33 1 20 1 2 1 23 1-5 1 13 1-29 1-33 1 38 1-37 1 20 1 10 1-23 1 26 1-25 1 27 1-22 1 8 1 14 1 7 1-17 1 25 1-4 1-14 1 1 1-23 1-26 1 34 1 13 1 11 1 4 1 19 1-15 1 8 1-6 1 6 1 7 1 18 1-10 1 4 1-5 1 27 1 15 1-23 1 27 1-3 1-9 1-1 1-1 1 20 1-33 1 12 1 5 1-2 1-11 1 47 1-29 1 0 1 15 1-13 1-4 1-3 1-2 1 0 1 7 1 13 1 17 1-9 1 1 1 4 1 13 1-1 1 4 1-9 1 4 1 39 1-15 1 11 1-20 1 11 1 12 1 7 1 2 1-45 1 19 1-14 1-1 1 3 1 9 1-10 1 11 1 13 1 14 1 5 1-9 1 14 1-10 1 17 1 19 1-8 1 20 1 4 1 22 1 1 1 21 1 3 1-30 1-13 1 33 1 10 1 27 1-20 1-13 1 2 1 6 1-11 1 3 1 3 1-10 1-3 1-4 1-10 1 9 1 23 1-13 1-12 1-6 1-5 1 8 1 10 1 15 1-4 1-9 1 9 1-5 1-10 1-20 1 11 1 1 1 9 1 6 1 14 1-18 1-7 1-5 1 9 1-11 1 26 1-31 1 23 1-9 1 2 1 13 1 3 1 26 1 0 1-1 1-19 1-15 1-34 1 28 1-12 1 7 1-16 1-16 1 0 1-13 1 0 1-6 1-10 1-25 1-21 1 32 1-9 1-39 1 18 1 10 1-13 1-10 1 4 1 13 1 6 1 17 1-15 1 2 1 13 1-15 1 2 1 9 1-4 1 30 1 5 1-11 1-12 1 4 1 9 1 6 1 1 1 30 1-24 1 7 1-15 1-7 1-14 1 0 1-10 1 31 1 28 1 0 1 5 1 1 1 29 1-1 1-6 1-13 1 11 1 8 1-6 1 22 1-9 1-8 1 10 1-11 1-27 1 14 1-10 1-43 1-9 1 13 1 8 1 1 1-9 1-22 1 7 1 7 1 0 1-7 1-7 1-28 1 23 1-7 1 3 1 0 1 6 1-4 1-1 1-10 1 4 1 4 1-21 1 8 1-8 1-53 1 36 1 12 1 1 1 8 1 8 1 4 1 3 1 34 1 18 1 4 1 2 1 6 1 19 1-20 1 18 1-6 1 9 1 3 1 3 1 7 1-9 1 20 1-31 1 11 1-6 1-25 1 4 1 31 1-19 1 14 1 5 1-8 1 3 1-2 1 13 1-1 1 22 1-6 1 6 1-9 1 5 1-5 1-9 1 3 1-6 1 11 1-18 1 41 1-2 1-32 1 57 1-11 1-17 1 14 1-10 1 1 1 30 1-14 1 40 1 3 1-18 1 2 1 36 1 6 1 4 1-5 1 21 1-4 1 5 1-4 1-39 1 12 1 33 1 17 1-22 1-22 1 4 1-17 1 2 1-6 1 22 1-50 1 4 1-9 1-8 1 10 1 2 1-11 1-6 1 26 1-7 1-17 1 14 1 3 1-8 1 10 1-11 1 1 1-3 1 23 1 6 1-4 1 16 1-27 1-25 1-16 1-22 1-4 1 7 1-9 1 18 1-1 1 14 1-4 1 0 1 29 1 15 1 3 1 24 1 4 1 10 1-11 1 12 1-12 1-9 1 5 1-6 1 28 1 2 1-10 1 6 1-25 1-29 1 15 1-3 1-12 1 3 1-4 1 10 1-21 1 2 1-24 1 23 1 13 1-6 1 2 1 15 1-25 1 22 1 12 1-10 1-6 1-18 1 0 1-8 1 13 1-18 1 12 1-2 1 27 1-5 1-1 1 9 1 29 1-22 1 23 1-3 1 5 1 32 1 1 1 18 1-15 1-2 1-6 1 22 1 12 1 14 1 18 1 8 1 23 1-20 1-16 1-3 1-21 1-17 1-3 1-1 1 28 1-31 1 15 1-1 1 4 1 5 1-19 1 4 1 9 1-33 1 25 1-8 1 1 1 0 1 24 1-23 1-1 1-14 1 2 1 5 1-16 1 12 1-4 1 1 1-6 1-18 1 34 1 3 1 8 1 19 1 11 1-10 1 26 1 1 1 4 1-13 1 6 1-27 1-1 1 8 1-31 1 7 1-16 1 1 1 9 1-5 1 25 1-17 1-8 1 7 1 9 1-28 1 2 1-15 1 14 1-36 1-2 1 11 1 11 1-17 1-9 1-16 1 2 1 7 1-23 1 9 1 0 1-22 1 23 1-16 1-14 1 25 1-5 1-8 1 15 1 4 1 14 1-2 1-11 1 36 1-8 1 24 1-5 1 1 1 18 1 5 1-18 1 18 1-14 1 4 1 18 1 6 1 2 1-7 1 24 1-5 1-5 1 0 1-12 1-29 1 10 1 26 1-24 1-6 1-18 1-3 1-1 1 15 1-12 1 7 1-10 1-9 1 2 1-6 1-3 1 7 1-1 1 7 1-32 1-1 1-9 1 27 1-14 1 13 1-17 1-4 1 32 1-6 1-19 1-8 1 6 1 8 1-34 1-13 1 4 1 14 1-11 1-27 1 38 1-29 1 10 1-21 1 7 1-4 1 16 1 21 1-26 1 10 1-20 1 17 1-7 1-19 1 8 1 3 1 25 1-3 1 1 1 12 1-18 1-8 1-1 1-23 1 16 1 10 1-11 1 3 1-21 1 12 1 2 1-20 1 17 1 8 1-12 1 21 1-3 1 31 1-23 1 15 1-29 1 39 1-52 1 24 1-15 1-21 1-9 1-7 1 21 1-12 1 1 1-6 1 14 1-12 1 18 1-7 1-6 1-3 1 2 1 6 1 16 1-17 1-2 1 14 1 4 1-5 1 7 1-6 1 8 1-31 1 24 1 14 1-6 1 15 1-9 1 7 1 35 1-22 1 8 1-1 1 4 1-9 1 1 1 28 1 7 1-7 1 20 1 4 1-18 1-11 1-17 1-3 1-8 1-27 1-3 1-1 1-19 1 35 1 3 1-5 1-9 1 8 1-5 1-3 1 8 1-26 1 5 1 1 1-3 1 5 1 0 1-22 1 8 1-49 1 29 1-31 1 12 1-18 1-7 1-3 1 16 1-17 1 14 1-21 1 3 1 2 1 12 1-9 1-16 1-18 1 12 1-9 1 17 1 19 1-2 1-19 1 16 1 14 1-14 1 31 1-8 1 8 1-19 1-4 1-4 1-17 1 11 1 22 1-11 1 8 1-1 1 1 1 8 1 1 1-17 1 21 1-5 1 15 1 9 1-11 1 16 1-26 1 15 1 3 1-10 1-15 1 28 1-10 1-1 1-27 1-9 1 17 1 12 1 11 1 23 1-21 1 17 1-2 1-11 1 46 1-15 1 11 1-13 1-51 1 6 1-32 1 16 1-2 1-23 1-25 1 4 1-13 1 32 1-12 1-7 1-3 1 11 1-2 1-11 1-3 1 3 1-2 1-12 1-5 1-11 1-19 1 11 1-4 1 21 1-1 1 5 1 8 1 26 1-21 1-10 1 3 1 3 1 17 1-2 1-25 1 11 1-14 1 18 1-14 1-1 1 16 1 11 1-2 1-24 1 5 1-11 1 29 1 18 1-8 1 21 1-14 1-8 1-11 1-4 1 3 1 6 1 15 1 31 1 12 1-8 1 12 1-19 1 8 1 7 1-2 1-9 1-12 1-12 1 1 1-16 1 16 1-11 1-7 1 19 1 2 1 16 1-14 1-11 1 29 1 13 1-17 1-2 1-4 1-15 1 30 1-2 1 4 1 24 1-3 1-9 1 7 1 3 1 6 1 0 1-7 1-4 1 1 1-4 1-12 1-20 1 7 1-6 1-17 1 13 1-11 1 21 1 5 1 5 1 11 1 17 1 27 1-1 1 0 1-21 1-27 1 12 1 14 1-9 1-5 1-20 1 4 1 39 1-2 1-7 1 40 1-10 1-11 1 17 1 6 1 8 1-12 1 12 1-16 1-23 1 34 1-21 1-9 1 32 1 16 1-20 1 25 1 6 1-3 1 0 1-10 1-26 1 2 1-15 1-24 1-11 1-6 1-18 1 6 1-11 1-4 1-10 1 6 1-12 1-17 1 0 1 16 1-9 1-22 1 2 1 4 1-18 1 12 1 4 1-17 1 29 1-4 1 11 1 17 1 8 1 8 1-2 1-13 1 15 1 0 1 5 1-4 1-3 1-5 1 3 1 14 1-4 1-11 1-1 1-1 1-17 1 13 1-27 1 29 1-23 1 23 1-17 1 9 1 28 1-14 1 7 1 23 1 1 1 12 1 10 1-13 1-7 1 31 1 9 1-17 1-8 1 2 1-37 1 27 1-25 1-41 1-11 1 31 1 6 1 13 1 13 1 1 1-3 1 11 1-3 1-21 1 10 1-6 1 2 1-4 1-14 1 4 1-8 1 18 1 7 1 2 1-3 1 15 1 2 1 21 1-1 1 0 1-32 1 27 1 12 1 14 1-22 1-17 1 13 1-22 1 16 1-12 1 25 1-8 1-1 1-13 1 22 1-17 1 1 1-12 1-18 1-4 1-30 1 30 1-31 1 18 1-24 1 27 1 0 1-22 1 30 1-17 1-4 1-17 1 12 1-22 1-22 1 10 1 20 1-21 1 8 1-8 1 20 1-7 1 26 1-16 1-26 1 13 1 21 1 9 1-10 1 24 1-19 1-23 1 12 1-9 1 14 1 0 1-29 1 12 1-13 1 11 1 1 1-20 1 6 1-27 1 6 1 6 1 0 1 4 1-15 1-25 1-6 1 5 1 13 1-16 1 13 1 4 1 20 1 3 1-8 1 4 1 19 1 18 1 9 1 12 1-4 1 12 1-11 1-5 1 3 1-16 1-7 1 31 1-3 1-3 1-14 1-3 1 11 1-1 1-1 1 16 1 2 1 3 1 7 1 7 1 6 1 10 1 11 1-26 1 20 1 16 1-26 1-1 1 5 1 13 1-1 1 23 1-20 1 32 1 17 1-2 1 22 1-11 1 2 1 12 1-22 1 0 1 0 1 4 1 18 1 10 1-7 1-1 1-7 1 9 1-22 1 6 1-14 1 26 1 14 1 5 1 29 1 3 1-27 1-14 1-10 1-14 1 13 1-42 1 31 1-27 1-11 1 7 1-3 1 3 1 14 1 4 1-18 1 5 1 5 1 4 1 22 1 12 1 4 1-2 1 1 1 3 1 11 1-39 1 13 1-10 1-7 1 1 1-9 1-11 1 26 1-35 1 13 1 6 1-1 1-4 1 4 1 4 1 4 1-1 1-6 1 27 1 9 1-12 1 2 1-1 1 17 1 13 1 17 1-6 1 8 1 34 1-6 1 2 1-3 1-1 1-37 1 15 1 4 1-18 1 19 1-5 1-7 1 7 1 5 1-9 1 24 1 1 1-18 1-24 1-2 1-7 1 4 1 25 1-40 1-3 1-20 1-19 1-31 1 9 1 0 1 9 1-10 1 0 1-6 1-3 1-1 1-18 1 27 1-2 1-8 1 20 1 15 1 7 1 5 1 18 1-23 1-14 1-4 1 6 1-10 1 13 1-10 1-2 1-14 1-32 1 1 1-16 1-28 1-6 1 2 1-20 1 27 1-18 1 20 1-6 1 17 1 19 1 8 1 44 1-11 1-6 1 14 1 17 1 0 1 9 1 2 1 12 1 3 1-9 1 4 1 5 1-10 1-18 1-19 1 8 1-8 1-32 1 19 1 5 1-11 1 32 1-12 1 23 1 6 1-2 1 10 1 2 1-14 1-18 1-9 1-12 1-19 1-24 1 1 1 8 1 18 1 16 1 19 1 11 1 9 1 23 1 4 1 21 1 12 1 0 1 2 1 19 1-6 1-8 1 6 1-13 1 14 1-16 1-16 1-10 1 15 1-2 1-17 1 10 1 9 1 23 1 9 1-3 1-19 1-6 1 19 1 21 1-3 1 12 1-8 1-11 1-6 1 0 1-4 1 23 1 5 1-1 1 14 1 2 1-7 1 25 1 9 1 10 1-6 1 21 1-2 1-17 1 0 1 22 1 3 1-1 1-1 1-18 1 17 1-20 1 8 1 20 1 9 1-4 1 22 1 22 1-1 1-19 1 12 1-25 1 2 1 6 1-3 1 15 1-27 1 24 1-1 1 5 1 23 1 4 1 5 1-8 1-13 1 23 1 26 1 15 1-28 1 5 1-25 1 38 1-39 1-7 1 26 1-40 1 28 1-23 1-8 1 5 1-21 1 0 1 27 1 1 1-4 1-23 1 3 1-27 1 17 1 25 1-22 1-27 1 2 1-6 1 21 1-55 1-9 1 10 1-30 1-26 1 29 1-15 1-8 1-17 1-18 1 1 1 27 1 6 1 2 1-8 1-3 1 16 1-11 1 10 1-14 1-20 1 5 1 3 1-8 1-18 1 10 1 17 1 1 1 3 1 7 1 5 1 4 1 3 1 9 1 12 1 16 1 3 1-1 1 13 1 2 1-9 1-23 1 13 1-14 1 11 1 9 1-4 1-19 1 7 1 19 1-19 1 6 1-10 1-13 1 0 1-21 1-21 1-2 1-8 1 0 1-29 1 17 1-24 1 6 1 41 1 2 1-8 1 12 1 8 1-21 1-2 1 3 1 1 1 13 1 6 1 7 1-8 1-6 1 28 1 19 1 14 1-11 1 24 1-5 1-23 1 5 1-16 1-7 1-2 1-6 1 3 1-9 1-29 1-15 1-1 1 4 1-23 1 8 1 6 1 14 1 16 1 0 1 11 1-1 1-20 1 34 1 1 1 10 1-16 1 12 1 21 1-16 1 15 1-1 1-13 1 7 1-14 1 19 1-13 1-2 1-5 1-13 1 24 1-22 1-1 1-17 1 4 1-1 1-9 1 2 1 13 1-18 1 9 1-12 1-18 1 26 1-13 1-1 1 23 1-9 1 17 1 17 1-29 1-8 1 4 1 26 1 6 1 21 1 11 1-14 1 5 1 15 1-6 1-11 1 17 1-33 1 10 1-22 1 2 1-12 1 10 1 18 1 2 1-23 1 19 1 19 1-18 1 34 1-12 1-3 1 6 1-21 1-19 1-17 1 9 1 0 1-11 1 19 1-16 1-26 1 21 1 9 1-15 1 4 1-9 1-4 1 11 1-19 1 36 1-16 1 10 1-17 1 23 1-4 1-14 1 12 1-7 1-19 1 9 1-13 1-7 1 6 1 10 1 15 1 37 1 1 1-7 1 9 1-1 1 6 1 21 1-3 1 12 1-26 1 27 1 23 1 8 1 26 1-21 1 5 1 19 1 9 1 5 1-7 1-7 1 15 1 10 1 4 1-8 1-10 1 25 1-12 1 2 1-24 1-12 1 11 1-6 1-3 1-7 1 31 1-20 1 14 1-9 1 7 1-10 1-2 1 15 1-28 1-7 1 15 1-9 1-23 1 2 1 4 1-10 1-13 1-15 1 27 1-14 1 19 1 0 1 12 1-22 1-17 1-3 1 2 1-16 1 2 1-15 1 15 1 15 1 16 1-5 1 1 1 14 1-18 1 7 1-18 1 35 1-12 1-3 1 5 1 38 1-30 1 9 1 15 1 18 1-21 1 19 1-22 1 4 1 6 1 37 1-28 1 2 1-28 1 16 1-15 1-8 1 10 1 7 1 0 1-14 1 8 1 21 1-3 1-34 1 8 1 12 1 0 1 11 1 26 1 13 1-13 1 23 1 20 1-14 1 13 1-21 1-22 1 45 1-13 1-13 1 20 1-6 1 0 1-18 1 10 1-9 1-23 1 19 1-3 1-1 1-6 1 17 1 7 1 19 1 16 1-5 1-5 1-37 1 16 1-13 1-1 1 18 1-21 1-13 1 28 1-15 1 7 1-17 1 3 1-7 1 8 1-15 1 15 1-35 1 0 1-21 1 5 1-1 1-4 1 4 1-16 1-11 1-12 1 32 1 12 1-17 1 5 1 18 1-22 1 53 1-14 1 4 1 16 1-2 1-7 1-34 1 13 1-4 1 14 1-26 1-4 1-5 1-10 1 9 1 13 1-27 1 31 1-14 1 30 1 13 1 27 1-36 1 28 1-11 1-17 1-14 1-18 1-17 1 17 1-10 1-9 1 2 1-14 1-14 1-7 1-26 1 17 1-5 1-17 1 17 1-11 1-5 1 8 1-6 1 22 1-10 1 9 1 0 1-31 1-22 1 15 1-13 1 3 1 8 1 2 1-11 1 0 1 15 1-1 1 10 1 3 1-18 1 1 1 8 1 8 1-6 1-3 1-10 1 20 1 6 1 5 1-17 1 19 1-9 1 0 1-5 1-4 1 25 1-14 1-8 1 12 1 9 1-23 1 5 1-9 1-6 1 10 1 3 1 16 1 0 1 12 1 21 1-1 1-38 1 15 1 11 1-26 1 7 1 7 1 6 1-14 1 39 1-10 1-9 1-12 1-3 1-1 1 19 1-24 1 36 1-33 1 5 1-34 1-5 1 23 1-17 1-14 1 39 1-12 1 38 1-48 1 3 1-3 1 15 1-10 1 3 1-13 1 12 1 23 1 7 1 6 1-15 1 10 1-6 1 7 1 6 1 11 1 3 1 9 1 7 1-3 1 13 1 14 1 7 1-16 1 16 1 3 1-20 1 9 1-18 1 7 1-4 1-2 1-3 1-20 1-35 1 26 1-22 1-12 1 17 1-17 1-31 1 9 1-18 1-13 1 30 1-30 1 12 1-19 1-6 1 6 1 15 1-22 1 30 1-28 1 11 1-26 1 0 1-3 1 3 1-10 1 0 1 15 1-22 1-4 1 35 1 7 1-16 1 21 1-16 1 9 1 0 1-33 1 38 1-1 1 6 1-12 1 14 1-6 1 2 1 27 1-7 1 15 1-15 1 13 1 13 1 2 1-14 1 17 1-35 1 1 1 14 1 7 1 11 1-19 1 2 1 5 1-18 1 3 1-1 1 28 1-22 1 3 1-25 1 18 1-18 1 9 1-5 1 20 1-12 1 1 1-4 1 3 1 7 1 1 1-13 1-1 1-8 1 15 1 18 1-34 1 14 1 6 1 3 1 25 1 4 1 1 1 19 1 10 1 14 1-3 1 1 1-16 1 12 1-8 1 19 1 20 1-18 1 4 1 19 1-1 1-37 1 25 1 11 1-21 1 3 1 1 1 17 1-7 1-5 1 16 1-11 1-1 1 8 1-1 1 14 1 16 1 3 1 9 1 19 1 15 1 15 1 15 1-11 1-6 1 5 1-34 1 7 1-15 1 27 1-5 1-2 1 14 1 24 1-14 1-2 1 6 1-22 1 41 1 8 1 21 1-15 1 38 1-21 1 31 1-15 1 3 1 15 1-15 1-5 1 2 1 0 1 5 1 32 1-23 1 14 1-1 1 1 1 8 1-8 1 17 1-7 1-3 1-6 1-1 1-7 1 20 1-4 1-12 1 13 1-29 1 1 1 8 1 9 1 15 1-13 1 5 1-21 1-1 1-2 1 16 1-11 1-43 1-7 1 6 1-2 1 0 1 0 1-34 1 21 1 2 1-18 1-10 1 9 1-28 1 15 1 1 1-11 1 14 1-19 1 7 1-11 1 10 1-26 1 23 1-5 1 16 1 3 1 40 1-17 1 7 1-6 1 13 1-11 1 9 1 6 1 4 1-6 1-1 1 7 1-1 1-19 1 10 1-19 1-4 1-29 1 17 1 6 1-12 1 26 1-16 1 10 1-12 1 12 1-10 1 7 1 5 1-10 1 5 1-18 1 1 1 32 1-12 1 27 1-24 1 19 1 1 1 30 1-6 1 2 1 24 1-18 1 30 1 1 1-13 1 29 1 2 1 12 1-2 1-16 1 7 1-5 1-6 1 2 1 2 1 11 1-16 1 29 1-2 1-15 1 10 1 15 1-15 1-4 1 8 1 17 1 9 1 21 1-12 1 25 1 3 1 9 1 1 1 12 1 9 1-9 1 21 1-23 1 16 1-46 1 4 1 6 1-4 1-18 1 9 1 8 1-33 1 12 1 7 1 26 1-5 1 4 1-26 1-10 1-16 1 30 1-21 1 6 1-27 1 0 1-8 1-3 1-29 1 1 1-27 1-2 1 13 1 38 1-14 1 4 1 3 1 19 1-5 1 5 1-2 1-19 1 10 1 8 1-11 1-6 1 16 1-6 1 13 1-3 1-7 1-27 1 9 1-10 1-4 1 9 1-12 1 21 1-17 1 0 1-9 1-7 1 35 1-7 1 19 1 18 1 1 1 8 1-1 1-13 1-1 1 3 1 1 1-29 1 16 1-18 1 9 1 6 1-10 1-5 1-3 1-9 1-11 1 16 1-19 1-6 1-8 1 18 1-18 1-18 1 12 1 0 1-29 1-13 1 24 1 16 1-2 1-8 1 23 1-23 1-4 1 3 1 14 1 3 1 25 1-15 1 5 1 7 1-2 1 0 1-23 1-7 1-12 1-6 1 13 1-16 1-13 1 1 1 3 1 1 1 31 1-52 1 2 1 18 1 4 1-3 1 24 1-12 1 31 1-14 1 4 1-11 1-23 1-14 1-7 1 0 1-28 1 15 1-21 1 15 1-5 1-2 1 9 1-29 1 3 1-12 1 23 1-7 1-23 1 19 1-26 1-8 1 40 1 17 1-20 1 3 1-11 1-1 1 15 1 14 1-20 1 14 1 2 1 8 1 5 1 17 1-1 1 1 1 2 1 4 1 12 1 26 1-17 1 15 1 7 1 8 1-19 1-8 1 15 1 0 1-33 1 11 1 0 1 44 1-28 1 21 1-13 1 4 1-11 1 11 1 16 1-22 1 41 1-16 1-4 1 4 1 17 1-1 1-6 1-6 1 6 1 26 1 11 1-23 1 17 1-44 1 11 1 34 1-36 1 1 1 7 1 4 1-12 1 5 1-5 1-10 1 44 1-9 1-12 1-13 1 18 1-24 1 1 1 15 1 3 1-2 1-17 1 13 1-6 1 32 1-28 1 5 1 17 1 1 1 12 1-3 1 1 1 18 1 5 1-8 1 0 1-4 1 48 1-23 1 1 1 15 1 10 1-2 1-18 1 5 1-2 1 20 1-7 1 22 1-8 1 5 1 21 1-16 1-2 1 5 1 32 1-15 1 9 1 15 1 9 1 22 1-23 1 20 1 16 1 29 1-12 1-15 1 6 1-24 1 32 1 0 1 27 1-12 1 8 1-19 1-9 1 5 1 7 1-5 1 11 1-12 1 17 1-17 1 9 1-12 1 20 1 12 1-17 1 19 1 11 1 16 1-7 1-16 1 2 1 18 1-4 1 11 1-16 1-5 1-10 1-1 1-20 1 22 1 7 1-23 1 7 1 1 1-28 1 13 1 0 1-6 1-23 1 1 1 11 1 8 1 17 1-24 1 0 1 13 1-4 1 0 1 14 1 7 1-21 1-14 1 31 1-27 1-14 1 5 1-25 1 21 1-12 1-10 1-30 1-7 1 0 1 1 1 15 1-16 1 6 1-34 1 11 1-21 1 4 1-11 1 16 1-5 1 31 1 0 1 6 1-14 1 33 1-5 1-7 1 18 1-5 1 16 1-10 1-7 1 30 1-1 1 4 1 10 1 5 1-17 1 20 1 13 1 11 1-17 1 16 1-8 1 10 1-4 1 27 1-2 1-7 1 6 1 10 1-5 1 2 1 6 1 4 1-10 1 2 1 14"/>
<path class="c" transform="scale(.5)" stroke="#000000" stroke-width="6.4" d="M501 1209l1-43 1-25 1-5 1-3 1-3 1-3 1 2 1 0 1 4 1-8 1 5 1-15 1-10 1-25 1 4 1-26 1 15 1-18 1-17 1 8 1-16 1 28 1 22 1-15 1 22 1-6 1 9 1-5 1 17 1-5 1 9 1 16 1-15 1 8 1-4 1-7 1 3 1 3 1 6 1-4 1 4 1-14 1-8 1 43 1-52 1 12 1-2 1 15 1-4 1-29 1 21 1-1 1 15 1 18 1 12 1 7 1 10 1-4 1-18 1 10 1 5 1 0 1 7 1-13 1 7 1-24 1 16 1-10 1-29 1 5 1 14 1-11 1-24 1 35 1-28 1 1 1-23 1-4 1-28 1 0 1-18 1 7 1-2 1 16 1-46 1 41 1 10 1-5 1 10 1-33 1 20 1-5 1-13 1 12 1-16 1 34 1-6 1 30 1 11 1 7 1-5 1 3 1 10 1 4 1 29 1-30 1 19 1-13 1 22 1 8 1-22 1 19 1-7 1 1 1 8 1-6 1 5 1 3 1 6 1-7 1 9 1 3 1 2 1-24 1-2 1-23 1 0 1-32 1 1 1-27 1 23 1-4 1-10 1 0 1-10 1-21 1 27 1-56 1 9 1 9 1-4 1-1 1-13 1 17 1 0 1-14 1 10 1-6 1 26 1-9 1-4 1 35 1-6 1-13 1 29 1 20 1 20 1-27 1 42 1-2 1 19 1-18 1-14 1 40 1-10 1 4 1 11 1 20 1-11 1 10 1 15 1-16 1 7 1 2 1 10 1-29 1 8 1-15 1 0 1 4 1-26 1-2 1-6 1 22 1-39 1 19 1-19 1-2 1 9 1-4 1-19 1 19 1-11 1 14 1 5 1-11 1-2 1 1 1 8 1-45 1 37 1-40 1 1 1-25 1 47 1-44 1 9 1-10 1-2 1 13 1-12 1-9 1-9 1 39 1-17 1 2 1-3 1-2 1 10 1-14 1-3 1-15 1 12 1-34 1 12 1 7 1 7 1-21 1 7 1-7 1-7 1-34 1 1 1-11 1 31 1-1 1-13 1-17 1-9 1 24 1 9 1 18 1-5 1 9 1 6 1 7 1 7 1-19 1-15 1 17 1-26 1-12 1-26 1 6 1-8 1-13 1 5 1 12 1-17 1 27 1-8 1 11 1 15 1-19 1 30 1-5 1 22 1 4 1-5 1 15 1-36 1 31 1-16 1-26 1 40 1-36 1-17 1 31 1-18 1-21 1-11 1-7 1 6 1-9 1 0 1 8 1-19 1 13 1-23 1 10 1-23 1 0 1-19 1 12 1 13 1 15 1 4 1-15 1-10 1 13 1-3 1 10 1-9 1 1 1 17 1-10 1-4 1 15 1 4 1-22 1 5 1 7 1-15 1 21 1-4 1-6 1 10 1-1 1-8 1 3 1 25 1-23 1 26 1-10 1 7 1-2 1-28 1-7 1-18 1-22 1 10 1 0 1 4 1-4 1-18 1-6 1 0 1-27 1 11 1-9 1-23 1 2 1-17 1-11 1-3 1-19 1-10 1-17 1 10 1-19 1 16 1-25 1-3 1 21 1-45 1 13 1-14 1-30 1-2 1 6 1-29 1 8 1-22 1 11 1-7 1 9 1-4 1 4 1-33 1 29 1 19 1 0 1 2 1-4 1 6 1-13 1 0 1-13 1-2 1 15 1-1 1 24 1 5 1-14 1 16 1 3 1 4 1 28 1-15 1 26 1-7 1 14 1-19 1 38 1 4 1 8 1 6 1 6 1 4 1-19 1 18 1 14 1 0 1 6 1 8 1 13 1 14 1-6 1-30 1 54 1-12 1-14 1 32 1-7 1 8 1 0 1-24 1 21 1 7 1-29 1 27 1-34 1 17 1 10 1 5 1 28 1-17 1-7 1 20 1-17 1 1 1 19 1-4 1 14 1 2 1-1 1-14 1-8 1-7 1-5 1 3 1-18 1-3 1-1 1-10 1 13 1-22 1 17 1-7 1-41 1 3 1-9 1-6 1 11 1-1 1-27 1 5 1 25 1-6 1-3 1 29 1-33 1 27 1-3 1-1 1 27 1 7 1 11 1-11 1-8 1 18 1-2 1 8 1-33 1 10 1-6 1 15 1 15 1-8 1 9 1 7 1-6 1 14 1-10 1 4 1 19 1-3 1-57 1 11 1 7 1-34 1 5 1 6 1 1 1 1 1-5 1-9 1-4 1 9 1 11 1-10 1 0 1 0 1 7 1 1 1 6 1-7 1-14 1 3 1 19 1-28 1 22 1-22 1-29 1 12 1 11 1 2 1-5 1 22 1-11 1 2 1 12 1 14 1-9 1-8 1 0 1 14 1 9 1 1 1-17 1-18 1 23 1 7 1-15 1-14 1 1 1 12 1-3 1 19 1 12 1 4 1 4 1-1 1-6 1-3 1-13 1 13 1-16 1 2 1-8 1-22 1 6 1-21 1-2 1-1 1-1 1 3 1 13 1-33 1-26 1 27 1-4 1-4 1-10 1 1 1-14 1 0 1-15 1-7 1 4 1-15 1-2 1 15 1-18 1 32 1-8 1-28 1 40 1 20 1-28 1 23 1-37 1 0 1 29 1-7 1-22 1 21 1-5 1 21 1-26 1 1 1 3 1 24 1-35 1 22 1 1 1-3 1 19 1 7 1-40 1 22 1 11 1 1 1-3 1 13 1 26 1 14 1-9 1 29 1-25 1 7 1 5 1-3 1-6 1-19 1-3 1 0 1-17 1-13 1 17 1-21 1-4 1-15 1-7 1-3 1 18 1 9 1 7 1 17 1-13 1 1 1 3 1-12 1 25 1 10 1 16 1-12 1 12 1-5 1-17 1 15 1 17 1-5 1 25 1-17 1 22 1-7 1 12 1-18 1 20 1-37 1 21 1-14 1-30 1-7 1-3 1 27 1 1 1 17 1-49 1 3 1-3 1 12 1-35 1 25 1-20 1-12 1-1 1 5 1-13 1 5 1-27 1 26 1-8 1-7 1-4 1 25 1-24 1 3 1 0 1 11 1-3 1-20 1 12 1 0 1 0 1 4 1 27 1-1 1-3 1-3 1 5 1 17 1 3 1 5 1 6 1-14 1 4 1 7 1 5 1-6 1 4 1 23 1-14 1 6 1-8 1 21 1 7 1-3 1 3 1 9 1-13 1-3 1 14 1-22 1 40 1-31 1 29 1-9 1 5 1 6 1-6 1-8 1-17 1 16 1-12 1 4 1 7 1-18 1 8 1 0 1 12 1 0 1-3 1-6 1-31 1 3 1 27 1-17 1 14 1-7 1 8 1 11 1-14 1 20 1-5 1-12 1 9 1-9 1 13 1-26 1-2 1 10 1-21 1 30 1 36 1-30 1-10 1 18 1 12 1-19 1-8 1 4 1 2 1-21 1 18 1-7 1 6 1-12 1-10 1-3 1-14 1 12 1-5 1 18 1-33 1 12 1-5 1-3 1-2 1 9 1-9 1 21 1 11 1 3 1 13 1-8 1 13 1 5 1 11 1-29 1 18 1-27 1 10 1-9 1 21 1-39 1 13 1 9 1 13 1-11 1-15 1 13 1 12 1-27 1-4 1 27 1-20 1 4 1-22 1 32 1-9 1 25 1-23 1 6 1 19 1 20 1-35 1 35 1-15 1 4 1-1 1-5 1 30 1 9 1 4 1 10 1 29 1 2 1-5 1 3 1-12 1 6 1 15 1 7 1 31 1-19 1-16 1-13 1-4 1 38 1-17 1 15 1 15 1-3 1-2 1-5 1 34 1-3 1 24 1 16 1 25 1-15 1-24 1 23 1-4 1 3 1 17 1-5 1 16 1-2 1 1 1-22 1 6 1 12 1-34 1 8 1 5 1-5 1 3 1 1 1-14 1 2 1-11 1 3 1 1 1 6 1-35 1 7 1 8 1 26 1-18 1-14 1 10 1-19 1 3 1-1 1-28 1 10 1 6 1 11 1-1 1-1 1-2 1 10 1 3 1-3 1-2 1-1 1 18 1 8 1-19 1 7 1-8 1 14 1 12 1 6 1 2 1 1 1-18 1-21 1 11 1-24 1 10 1-18 1 27 1-26 1 3 1-6 1 5 1 1 1 0 1-1 1-16 1 3 1-10 1 20 1-4 1 34 1-32 1 1 1-9 1 25 1-32 1 51 1 3 1-8 1-8 1-13 1 27 1-14 1-1 1-11 1 21 1-26 1-2 1 16 1 10 1-23 1 8 1-7 1 23 1-5 1-43 1 19 1-16 1-6 1 3 1-18 1 20 1-30 1 19 1-3 1 9 1-4 1 16 1 15 1-18 1-7 1 28 1-13 1 14 1-17 1 43 1 6 1 3 1-9 1-3 1 1 1 5 1-2 1-3 1 11 1-22 1 13 1 2 1 19 1-11 1 14 1 9 1 3 1-7 1 28 1-13 1 11 1 13 1 1 1-14 1 5 1 23 1-26 1 3 1 3 1-4 1-8 1-22 1-7 1-9 1-7 1-12 1 8 1-2 1 15 1-47 1 20 1-12 1-16 1-14 1-14 1-1 1 5 1-4 1-24 1 17 1-12 1 24 1-2 1-18 1 2 1 6 1-9 1 15 1-18 1 4 1-8 1-16 1-6 1 6 1-1 1 23 1 1 1 2 1 0 1-9 1-16 1 17 1-25 1-2 1 15 1 2 1-22 1 4 1-6 1-29 1 12 1 23 1-25 1 6 1 9 1-1 1 19 1 1 1 13 1-14 1-19 1 3 1 16 1-1 1 15 1-15 1 1 1-4 1-1 1 11 1 1 1 29 1-1 1-14 1 19 1-13 1 13 1-3 1 17 1 12 1 8 1-5 1-5 1 9 1-9 1 4 1-3 1-30 1 30 1 2 1 3 1-27 1 4 1-42 1 0 1-13 1 26 1-23 1-14 1 5 1-5 1-23 1 7 1-6 1-7 1 8 1-8 1-7 1 9 1 7 1-20 1-9 1 4 1-4 1 4 1-2 1 13 1 8 1-12 1 22 1-5 1 10 1 9 1-14 1 26 1-21 1 29 1-23 1-10 1 8 1 19 1-4 1-13 1-14 1 10 1-12 1 38 1-46 1 3 1 2 1 3 1-3 1 4 1 3 1-10 1 26 1-5 1-10 1 15 1-16 1 18 1 8 1 5 1-2 1 14 1 7 1-34 1-4 1-14 1 17 1-6 1-6 1 17 1 6 1-2 1 16 1-3 1-23 1 47 1-29 1 19 1 1 1 11 1-4 1 15 1 24 1-13 1 8 1-3 1-18 1-20 1 6 1 0 1 1 1 10 1 1 1-34 1 22 1-24 1-24 1 29 1-19 1-9 1-1 1-4 1 1 1 9 1-5 1-4 1-21 1 9 1-15 1-18 1-2 1-11 1-8 1-22 1 17 1-28 1 18 1-1 1-12 1 15 1-5 1-3 1-17 1-16 1 6 1-14 1 13 1-29 1 11 1-5 1-9 1 2 1 21 1-10 1 21 1-4 1-13 1-14 1 33 1 2 1-18 1 7 1 24 1 18 1 6 1-5 1-8 1 15 1 13 1 27 1 16 1-19 1-5 1-4 1 4 1-15 1-15 1-2 1-7 1-19 1 1 1 3 1 4 1-5 1 2 1-9 1 2 1 8 1-42 1 27 1-23 1 4 1 6 1-36 1 6 1-10 1-12 1 0 1-23 1 7 1-2 1-9 1-8 1-25 1-3 1 11 1-16 1 24 1 5 1-31 1 14 1 15 1-21 1 16 1-22 1 48 1-34 1-18 1 21 1 1 1-2 1-17 1 21 1-13 1-18 1 2 1 8 1 15 1-8 1 2 1 8 1-20 1 5 1 13 1 4 1 6 1-12 1 28 1-6 1 4 1 3 1 8 1-20 1 4 1-2 1 16 1-6 1-6 1-7 1-13 1 17 1-7 1 14 1-17 1-6 1-13 1 6 1 1 1 2 1-18 1 8 1 3 1-11 1-14 1-13 1 14 1-2 1 2 1-16 1 27 1-8 1 1 1-5 1 8 1-4 1 9 1-9 1-12 1 4 1 16 1-27 1 13 1 11 1-17 1 0 1 31 1-14 1-13 1-9 1 20 1-3 1-26 1 13 1-8 1 7 1-8 1 6 1-6 1-11 1-11 1 16 1 7 1 21 1-8 1-15 1 2 1-27 1 34 1-11 1 4 1-3 1-4 1-2 1 36 1-22 1 18 1 11 1-14 1-1 1 2 1 18 1 15 1-4 1 11 1 1 1 2 1-11 1-2 1 18 1 7 1-50 1 19 1-27 1 6 1-7 1-13 1-16 1 27 1 42 1 1 1 4 1 0 1-1 1-6 1-12 1-20 1 16 1-1 1-14 1 12 1-17 1 1 1-29 1 3 1-16 1 49 1-41 1 17 1 13 1 0 1 17 1-22 1 13 1 3 1 3 1-3 1 22 1 16 1-1 1 38 1-8 1 21 1 6 1 8 1 16 1 8 1-6 1 26 1-22 1 14 1-3 1 5 1-13 1-7 1 16 1-21 1 19 1-8 1 36 1 4 1 3 1-14 1 3 1 6 1 43 1 13 1-24 1 18 1-4 1 13 1 3 1 34 1 27 1-4 1 14 1 10 1-12 1 5 1 0 1 1 1-21 1 7 1 7 1-39 1 13 1-4 1-27 1 7 1 4 1 16 1-36 1 4 1-6 1 22 1-19 1 3 1 3 1 23 1-21 1 9 1 1 1-5 1 5 1 23 1-26 1-4 1 14 1-26 1-44 1 7 1-16 1 5 1 3 1 15 1 18 1-5 1 9 1-3 1 33 1-8 1-4 1 13 1-2 1 4 1-17 1 0 1-9 1-35 1 10 1-3 1 19 1 8 1 3 1-24 1 4 1 12 1-16 1-5 1 24 1-21 1-8 1-7 1 2 1-12 1-5 1 8 1 1 1 16 1-42 1 4 1-1 1-4 1-4 1-24 1 28 1-11 1 23 1-18 1 27 1-41 1 2 1 13 1-2 1-3 1-26 1 19 1 26 1-3 1-17 1 24 1-6 1 1 1 5 1 4 1 25 1-13 1 19 1-3 1-14 1 3 1 11 1-7 1 8 1-1 1-18 1-9 1 13 1-4 1 13 1-6 1-10 1-3 1 20 1 3 1 21 1 17 1-23 1 16 1 9 1-6 1-3 1 4 1 14 1-11 1-19 1-6 1-1 1-2 1 13 1-12 1-7 1 27 1-52 1 24 1-9 1 21 1 22 1-20 1 2 1 22 1 0 1 2 1 17 1-21 1-12 1-13 1 21 1 20 1-22 1-11 1 7 1-13 1-1 1 11 1-20 1-2 1 5 1 15 1 2 1 16 1-20 1-6 1 15 1 8 1-6 1 13 1-16 1 23 1-8 1 8 1 6 1 17 1 20 1 18 1-8 1 14 1-12 1 19 1 8 1 9 1 8 1-12 1 1 1 12 1-5 1-6 1 19 1 4 1-5 1-15 1-2 1-10 1 17 1 3 1-6 1-8 1 22 1 24 1-5 1-8 1 7 1-9 1 7 1 0 1-43 1 45 1-38 1-17 1 37 1-2 1-19 1 61 1-1 1-8 1-32 1 1 1 21 1 15 1-18 1-10 1-10 1-5 1-7 1 12 1 3 1-31 1 8 1-26 1 11 1-27 1-7 1-1 1-19 1-35 1 19 1-18 1 3 1 5 1 20 1-7 1 16 1 0 1 2 1 14 1-6 1 27 1-39 1 17 1 18 1-12 1-7 1 2 1 16 1-1 1 4 1-42 1 7 1-16 1 14 1-4 1-8 1-12 1 19 1 9 1 1 1 7 1 17 1-5 1-9 1 19 1-5 1 27 1-21 1 8 1 12 1 12 1-13 1-33 1 24 1-26 1-1 1 5 1-6 1 9 1-21 1-7 1 5 1-9 1 8 1-11 1 25 1 12 1-11 1-10 1 2 1 9 1-18 1-11 1 18 1-13 1 4 1-9 1 31 1-6 1-28 1-5 1 27 1-16 1 4 1 1 1-6 1-11 1 21 1 10 1-8 1 1 1-6 1-1 1 3 1 15 1-23 1 20 1-8 1 2 1 7 1 18 1-15 1-22 1 3 1 0 1-19 1 1 1 1 1-2 1 10 1-22 1-6 1-9 1 1 1-6 1 7 1 5 1-28 1-5 1 1 1 1 1 19 1-20 1 32 1-13 1-21 1-9 1-2 1 1 1 4 1 10 1-24 1 16 1-5 1-3 1 9 1-14 1 9 1 12 1-19 1-4 1-5 1-8 1 12 1-12 1-7 1 10 1 9 1 22 1-13 1 8 1-20 1 3 1 9 1-24 1 23 1-18 1 14 1 0 1-15 1 15 1-5 1 19 1 2 1 2 1-11 1 32 1-12 1 6 1-5 1 12 1 7 1-14 1-6 1 19 1 16 1 5 1 21 1 1 1 6 1 7 1 25 1 8 1 5 1 8 1 3 1 4 1-5 1-1 1 9 1 16 1-18 1 20 1-4 1 17 1 1 1-4 1 11 1-27 1 23 1-33 1 56 1-28 1 8 1 6 1 24 1-27 1-19 1 43 1-23 1 9 1-23 1 6 1-4 1-19 1 21 1-23 1 32 1-5 1-12 1-22 1 9 1-6 1 23 1-22 1-14 1 8 1-5 1 22 1 14 1-26 1 13 1 0 1-9 1 1 1-1 1-2 1-9 1 20 1 3 1-8 1-7 1 7 1-6 1 27 1-27 1-22 1 25 1-25 1 10 1-18 1 10 1-17 1 11 1 0 1 8 1 6 1-11 1 3 1 10 1-31 1 19 1 7 1-20 1-9 1 8 1-3 1 12 1 13 1-12 1-6 1-8 1 14 1-23 1-3 1 22 1-11 1-14 1 8 1-8 1 28 1-8 1-13 1 9 1-33 1-5 1 13 1-11 1-4 1-11 1 0 1-8 1-16 1 16 1-1 1 12 1 3 1-6 1 5 1 13 1-25 1 1 1 7 1-3 1 12 1-14 1-16 1 6 1-2 1 13 1-6 1-18 1 17 1-13 1-7 1 18 1 19 1-38 1 27 1-17 1 15 1 18 1 6 1-17 1-1 1 6 1 6 1 4 1 1 1 1 1-3 1 7 1 18 1 27 1-21 1 10 1-6 1-12 1 17 1-22 1-2 1 3 1 4 1 3 1 7 1-8 1-1 1 12 1-34 1-4 1 8 1-29 1 19 1-35 1 16 1-6 1 2 1-5 1 2 1 11 1-11 1-2 1 18 1 2 1 17 1-18 1 17 1-8 1 17 1 1 1 7 1-27 1 17 1-1 1 9 1-11 1 32 1-8 1-16 1-8 1 11 1-17 1 26 1 21 1-12 1 10 1 3 1-3 1-3 1-8 1-12 1 2 1 4 1-6 1 29 1-33 1 7 1-2 1 6 1-12 1 4 1-21 1 1 1-6 1 11 1-7 1 6 1-21 1-21 1 8 1-7 1-1 1-4 1-4 1-6 1-9 1-14 1-2 1-9 1-7 1 1 1-20 1-3 1-6 1 19 1 20 1 9 1-15 1 14 1-37 1 16 1 13 1 11 1-5 1 29 1-6 1-8 1 5 1 25 1 7 1-34 1 1 1 40 1-7 1 21 1 14 1 1 1-10 1 18 1 6 1 14 1-15 1-17 1-13 1-7 1 2 1-7 1-23 1-38 1 17 1-15 1-7 1 0 1-15 1 16 1-8 1-21 1 19 1-32 1 12 1-14 1 3 1 6 1-10 1 18 1-1 1-45 1 17 1-11 1-5 1 12 1 22 1-4 1 18 1 6 1 22 1-19 1 3 1 25 1-1 1-3 1 9 1-13 1-9 1 6 1 10 1-10 1 17 1-5 1 4 1 12 1 7 1 13 1 8 1 1 1-11 1-4 1-16 1-21 1 2 1-5 1 9 1 16 1-5 1 0 1 6 1 18 1 12 1-6 1 3 1 9 1 0 1-15 1-7 1 3 1 15 1-21 1 8 1 7 1 13 1 20 1-7 1 6 1-4 1-11 1 26 1 10 1-3 1 17 1-12 1 7 1 24 1 2 1-21 1 5 1-35 1 22 1 6 1-3 1 18 1-15 1-17 1-5 1-4 1 5 1-6 1 11 1-6 1-4 1 11 1-9 1 9 1-11 1-1 1-10 1 1 1-21 1-12 1 12 1 12 1-18 1 5 1 3 1 19 1-5 1 17 1 13 1-1 1 23 1-12 1-7 1 31 1 3 1-24 1-7 1 19 1-23 1 5 1 10 1-16 1 6 1-3 1-12 1-2 1-11 1-15 1 4 1 4 1 3 1 5 1-7 1 0 1 4 1-13 1 15 1 8 1 15 1-34 1 18 1-15 1-10 1 19 1 2 1 3 1 0 1-9 1-9 1 22 1-50 1 5 1 10 1 9 1-35 1 11 1-26 1 47 1-43 1-6 1 2 1 0 1 18 1-8 1 13 1-26 1 2 1 8 1-15 1-14 1 7 1 5 1-12 1 0 1-1 1-18 1 37 1-16 1-3 1 23 1 6 1-7 1-2 1-5 1-12 1-17 1-19 1 21 1 3 1 23 1 1 1 18 1 3 1-6 1 9 1 26 1-2 1 4 1 20 1-1 1 15 1-2 1 2 1 4 1 3 1 6 1-6 1 18 1-1 1-24 1 10 1 28 1 8 1 4 1 26 1 19 1-17 1 12 1 19 1-14 1-26 1 24 1-7 1 10 1 20 1-1 1-15 1 13 1-11 1 6 1-6 1-16 1 8 1-29 1-21 1 7 1 5 1-5 1-22 1 23 1-23 1-17 1 6 1 10 1-4 1-2 1-31 1 26 1-2 1-14 1-18 1 10 1 17 1-4 1 7 1 2 1-12 1 11 1-17 1 17 1 14 1 14 1 1 1-7 1 24 1-27 1 43 1-25 1 14 1-3 1-29 1 12 1-22 1 2 1 21 1-38 1 6 1-14 1 23 1 5 1-12 1 21 1-15 1-6 1-1 1 15 1-16 1-26 1 24 1-9 1-11 1 17 1-3 1-3 1-4 1-6 1 22 1-20 1-14 1 36 1-27 1 17 1 12 1-7 1-11 1 1 1 3 1 4 1 6 1-24 1 20 1-12 1-3 1 4 1-21 1 21 1 12 1-18 1 7 1 14 1-11 1-29 1 12 1-29 1 3 1-8 1-9 1-15 1 14 1-6 1-9 1-18 1 4 1 15 1-18 1 10 1 7 1-3 1 7 1-1 1-19 1-20 1-3 1-19 1 18 1-4 1 26 1-33 1 14 1-33 1 7 1-13 1 18 1 1 1 13 1-11 1 12 1-11 1 24 1-8 1 4 1 7 1 5 1-38 1 47 1-4 1 0 1-8 1 11 1 6 1-2 1 7 1-3 1 12 1-21 1-15 1 2 1-12 1 2 1 9 1-10 1 11 1-24 1-13 1 6 1 21 1-9 1-3 1-3 1 7 1-3 1 6 1 6 1 32 1-4 1-13 1 22 1-25 1-14 1-14 1-40 1 14 1-4 1-9 1 31 1-14 1-17 1-24 1 3 1-32 1 16 1 17 1-14 1-18 1 21 1 1 1-4 1-13 1-3 1 0 1-1 1-7 1 15 1-29 1 38 1 13 1-10 1 32 1 2 1-6 1 1 1 1 1-10 1 15 1 3 1-6 1 0 1-1 1 8 1-1 1-9 1-3 1 12 1-19 1-3 1 15 1-10 1-24 1 10 1 14 1-21 1 8 1 12 1-10 1 10 1-31 1 24 1-21 1 16 1-21 1 34 1-10 1 1 1-12 1 3 1 3 1-3 1-3 1 7 1-4 1 2 1 3 1 0 1-11 1-29 1 5 1 3 1 4 1-23 1-33 1-6 1-13 1 11 1 7 1 6 1 5 1 33 1 15 1 7 1-2 1 12 1-9 1 25 1 0 1-19 1 21 1-19 1-24 1-5 1 6 1 0 1 15 1 12 1-27 1 28 1-15 1 17 1 3 1-11 1 5 1 1 1-4 1-16 1 19 1 3 1 0 1 3 1 8 1-12 1 11 1-11 1-1 1 13 1 3 1-22 1-2 1-4 1-11 1-16 1 24 1 25 1-7 1-8 1 28 1-20 1 7 1-8 1 21 1-22 1 22 1-16 1 6 1-17 1 9 1 13 1 13 1-27 1 18 1-6 1 3 1-17 1-8 1 1 1 14 1 1 1 8 1 5 1-9 1-13 1 21 1-12 1 37 1-8 1-18 1 28 1-30 1 6 1 20 1 9 1 12 1-4 1 11 1-24 1 17 1 1 1-38 1 2 1 31 1-6 1 29 1-14 1 19 1-21 1 9 1-5 1 3 1-19 1-34 1 18 1 6 1-16 1 20 1-18 1-6 1 1 1 11 1-18 1 2 1-6 1 6 1 2 1 4 1-12 1 18 1-16 1-27 1 7 1-18 1 12 1-1 1-24 1 23 1-2 1 12 1-31 1 5 1 34 1-1 1 6 1 3 1 4 1-38 1 19 1 20 1-28 1 29 1-6 1-5 1-2 1 9 1-1 1 12 1-1 1 17 1-24 1-2 1 3 1 2 1-1 1 2 1 3 1-4 1 3 1-4 1 4 1 11 1-28 1 7 1 5 1 9 1 6 1 1 1-5 1-5 1 14 1-11 1 14 1-25 1 33 1-39 1 5 1-7 1 4 1-14 1-1 1-7 1 3 1-1 1 4 1-33 1 23 1 3 1-4 1-7 1 0 1 1 1 10 1-4 1-43 1 10 1 10 1-1 1 25 1-21 1 4 1-9 1 8 1 10 1 24 1-23 1 15 1 12 1 9 1-14 1 22 1 2 1 4 1-25 1 31 1-1 1 2 1 16 1-5 1-6 1 2 1 26 1-7"/>
</g>
<g fill="#000"><rect x="248" y="150.9" width="5.1" height="983.1"/><rect x="1692" y="150.9" width="4" height="983.1"/><rect x="248" y="150.9" width="1448" height="4.1"/><rect x="248" y="1129" width="1448" height="5"/></g>
<text class="s" x="220" y="1074.1" font-size="57" text-anchor="end">-240</text>
<text class="s" x="220" y="961.6" font-size="57" text-anchor="end">-180</text>
<text class="s" x="220" y="849.1" font-size="57" text-anchor="end">-120</text>
<text class="s" x="220" y="736.6" font-size="57" text-anchor="end">-60</text>
<text class="s" x="220" y="624.1" font-size="57" text-anchor="end">0</text>
<text class="s" x="220" y="511.6" font-size="57" text-anchor="end">60</text>
<text class="s" x="220" y="399.1" font-size="57" text-anchor="end">120</text>
<text class="s" x="220" y="286.6" font-size="57" text-anchor="end">180</text>
<text class="s" x="220" y="174.1" font-size="57" text-anchor="end">240</text>
<text class="s" x="258.05" y="1198.8" font-size="57" text-anchor="middle">0</text>
<text class="s" x="438.544" y="1198.8" font-size="57" text-anchor="middle">0.005</text>
<text class="s" x="619.038" y="1198.8" font-size="57" text-anchor="middle">0.01</text>
<text class="s" x="799.531" y="1198.8" font-size="57" text-anchor="middle">0.015</text>
<text class="s" x="980.025" y="1198.8" font-size="57" text-anchor="middle">0.02</text>
<text class="s" x="1160.52" y="1198.8" font-size="57" text-anchor="middle">0.025</text>
<text class="s" x="1341.01" y="1198.8" font-size="57" text-anchor="middle">0.03</text>
<text class="s" x="1521.51" y="1198.8" font-size="57" text-anchor="middle">0.035</text>
<text class="s" x="1702" y="1198.8" font-size="57" text-anchor="middle">0.04</text>
<text class="s" x="902.2" y="1278.6" font-size="63.5">t [</text><text class="f" transform="translate(956.3,1278.6) scale(1.3,1)" font-size="64">μ</text><text class="s" x="993.5" y="1278.6" font-size="63.5">s]</text>
<g transform="translate(73,744) rotate(-90)"><text class="f" x="1" y="0" font-size="66" font-style="italic">ϑ</text><text class="s" x="59.7" y="0" font-size="64">[deg]</text></g>
<text class="f" x="1809" y="1317" font-size="88">A</text>
<text class="s" x="613.5" y="67" font-size="50">traj 1</text>
<path d="M754,50 H897" stroke="#ff0000" stroke-width="2.6"/>
<text class="s" x="613.5" y="117" font-size="50">traj 2</text>
<path d="M754,100.3 H897" stroke="#a52a2a" stroke-width="2.6"/>
<text class="s" x="996.5" y="67" font-size="50">traj 3</text>
<path d="M1137,50 H1280.5" stroke="#00ff00" stroke-width="2.6"/>
<text class="s" x="996.5" y="117" font-size="50">traj 4</text>
<path d="M1137,100.3 H1280.5" stroke="#00ffff" stroke-width="2.6"/>
<text class="s" x="1380.5" y="67" font-size="50">traj 5</text>
<path d="M1522,50 H1665" stroke="#0000ff" stroke-width="2.6"/>
<text class="s" x="1380.5" y="117" font-size="50">traj 6</text>
<path d="M1522,100.3 H1665" stroke="#000000" stroke-width="2.6"/>
<g fill="#000"><rect x="609" y="1495.8" width="2" height="20.2"/><rect x="609" y="2408" width="2" height="20.5"/><rect x="954.5" y="1495.8" width="2" height="20.2"/><rect x="954.5" y="2408" width="2" height="20.5"/><rect x="1300" y="1495.8" width="2" height="20.2"/><rect x="1300" y="2408" width="2" height="20.5"/><rect x="266.8" y="2268.8" width="20.3" height="2.8"/><rect x="1624" y="2268.8" width="20.3" height="2.8"/><rect x="266.8" y="2114.5" width="20.3" height="2.8"/><rect x="1624" y="2114.5" width="20.3" height="2.8"/><rect x="266.8" y="1960.2" width="20.3" height="2.8"/><rect x="1624" y="1960.2" width="20.3" height="2.8"/><rect x="266.8" y="1805.9" width="20.3" height="2.8"/><rect x="1624" y="1805.9" width="20.3" height="2.8"/><rect x="266.8" y="1651.61" width="20.3" height="2.8"/><rect x="1624" y="1651.61" width="20.3" height="2.8"/><rect x="266.8" y="1497.31" width="20.3" height="2.8"/><rect x="1624" y="1497.31" width="20.3" height="2.8"/></g>
<clipPath id="cb"><rect x="264.5" y="1493.4" width="1382" height="936.6"/></clipPath>
<g clip-path="url(#cb)">
<path class="c" transform="scale(.5)" stroke="#ff0000" stroke-width="5.6" d="M529 4720l1-1 1-6 1 3 1-18 1-4 1-12 1-27 1 18 1-49 1 25 1-59 1-23 1 50 1 3 1 29 1-33 1 31 1-47 1 52 1 15 1-34 1 15 1-94 1 60 1-62 1 91 1 31 1-39 1 66 1-27 1 46 1-154 1 22 1-14 1-14 1-4 1-43 1-32 1-22 1 47 1-33 1 31 1 10 1 76 1 66 1-9 1 33 1-49 1-23 1-8 1 61 1 50 1 75 1-138 1-73 1-30 1-43 1-7 1-10 1 23 1-45 1 0 1-8 1-33 1 17 1 21 1 4 1-108 1-33 1 22 1 47 1-26 1 64 1-67 1-84 1 72 1-13 1-92 1-30 1-24 1 22 1 82 1 18 1-107 1-42 1 20 1 50 1-65 1-34 1-28 1 33 1-14 1-14 1 81 1-39 1 50 1-46 1 31 1-62 1-73 1-25 1-6 1 3 1-23 1 43 1 26 1 101 1-41 1 14 1 25 1 3 1 9 1-36 1-10 1-41 1-18 1 88 1-26 1-40 1-6 1 133 1-73 1 123 1-33 1 24 1-27 1-4 1-20 1 31 1-52 1-26 1 48 1-72 1-15 1 21 1-25 1 34 1-95 1 57 1 28 1-76 1 13 1-45 1 6 1-50 1-35 1 34 1 21 1-11 1-30 1 10 1 57 1-7 1 28 1-30 1-28 1 21 1 67 1-74 1 120 1-51 1 43 1 18 1 28 1-2 1 45 1-59 1 6 1 85 1-101 1 4 1 11 1-21 1-16 1 70 1-1 1-32 1 71 1-51 1-79 1 58 1-14 1 65 1-60 1 9 1-15 1 33 1-64 1 23 1-13 1-28 1 2 1-70 1 80 1 55 1-66 1-42 1 163 1-66 1-39 1-22 1 12 1-102 1 79 1-39 1 39 1 33 1-95 1 49 1 10 1-3 1-45 1-21 1-27 1 108 1 7 1-55 1-27 1 2 1 35 1 3 1 12 1-5 1 50 1-23 1 63 1-12 1-22 1 128 1-65 1-23 1-15 1 114 1-79 1-54 1 64 1-38 1 23 1-13 1-26 1 44 1-49 1 18 1 46 1-37 1-38 1 10 1 21 1 17 1 27 1-62 1 30 1 8 1-33 1 43 1-17 1-67 1 60 1-79 1-54 1 80 1 12 1-41 1 79 1-8 1-10 1-83 1 28 1-66 1 53 1 5 1 38 1 1 1 26 1-10 1-74 1 26 1 23 1 23 1 24 1 51 1-66 1-102 1 122 1 61 1-43 1-1 1-10 1-3 1 47 1-54 1-96 1 16 1-35 1-4 1-2 1-13 1 98 1-87 1 53 1-38 1 102 1-71 1-44 1 6 1-5 1 50 1-13 1 23 1-19 1 37 1 18 1-22 1-51 1 28 1 39 1 123 1-112 1 18 1 8 1-96 1 95 1 3 1-47 1 49 1-28 1-16 1-48 1 12 1 46 1 80 1-91 1-75 1 49 1-12 1-18 1 102 1-97 1-16 1 26 1 57 1-117 1 135 1-31 1-92 1 26 1-66 1 104 1 5 1-79 1 24 1 3 1 66 1-8 1-46 1 22 1-1 1 11 1-9 1 79 1 16 1-20 1-133 1 42 1-22 1-56 1 145 1 23 1-67 1 11 1-118 1 54 1 41 1-26 1-4 1-87 1 39 1-26 1 57 1-68 1 12 1 1 1 79 1-53 1 6 1 16 1 29 1-36 1-137 1 11 1 73 1-32 1 18 1-61 1-7 1 38 1-23 1-44 1 73 1-74 1 106 1 7 1-10 1-14 1 74 1-98 1 43 1 47 1-83 1 9 1 42 1-20 1 6 1-95 1-21 1 33 1 46 1 10 1 9 1 55 1 11 1-117 1 4 1-9 1-30 1 59 1-100 1-58 1 122 1-23 1 59 1-23 1-116 1 71 1 44 1-85 1-86 1 160 1-106 1 31 1 73 1-45 1 46 1-55 1-79 1 118 1 37 1-6 1 29 1-63 1 80 1-78 1-4 1 41 1 127 1 41 1-38 1 14 1 18 1 8 1 121 1-5 1 72 1-157 1 133 1-32 1-37 1-69 1 48 1-17 1 32 1 15 1 66 1-65 1 61 1-19 1-83 1 59 1 16 1 13 1 37 1 20 1-57 1 58 1-49 1-49 1-44 1 95 1-18 1 40 1-77 1 63 1 12 1 52 1-79 1-84 1 36 1 10 1-28 1-79 1 122 1-56 1 72 1-53 1-10 1 9 1 70 1-44 1 57 1 15 1-5 1 3 1-46 1 34 1-19 1 19 1-127 1 82 1-13 1-4 1 65 1-29 1 22 1 8 1 37 1-36 1 44 1-105 1-72 1 31 1-41 1 62 1 20 1 23 1-106 1 50 1-129 1 43 1 96 1-27 1-73 1 122 1-82 1 21 1-55 1-77 1 14 1 15 1 82 1-54 1-55 1 26 1-7 1-53 1 27 1 87 1-86 1-66 1 20 1-10 1-81 1 135 1-37 1 35 1 8 1-10 1-8 1 53 1-149 1 77 1-63 1 22 1 100 1 40 1 9 1-1 1 26 1-5 1 91 1 39 1-42 1 94 1 38 1 87 1-17 1-4 1 17 1-44 1-2 1-2 1 24 1-52 1 58 1-90 1 34 1-70 1 106 1-70 1 91 1-5 1 39 1-25 1 68 1-17 1 38 1-83 1-45 1 63 1-29 1-14 1 1 1 54 1 9 1-27 1-10 1 7 1 64 1-39 1 25 1 28 1 16 1 10 1-30 1 26 1-29 1-6 1-39 1 108 1 18 1-1 1-19 1 116 1-125 1 53 1 50 1 30 1-26 1-8 1-23 1 69 1 12 1 74 1-43 1 33 1-58 1 59 1-25 1 28 1-18 1-21 1 90 1-80 1 63 1-77 1 139 1 0 1-86 1 85 1 1 1-162 1-13 1 103 1-29 1 59 1-77 1-55 1 29 1 31 1-79 1 21 1-37 1 58 1 6 1 52 1 26 1-83 1 57 1 9 1 31 1-71 1 14 1-60 1-64 1-32 1 49 1-105 1 80 1-66 1-49 1-155 1 83 1-3 1-2 1-14 1 43 1-40 1-28 1-30 1 44 1-39 1 11 1-48 1-83 1-18 1-64 1 5 1 13 1 36 1 47 1-57 1-40 1-17 1-12 1 15 1 56 1-134 1 21 1 27 1 56 1-10 1-40 1 33 1-13 1 80 1-8 1-72 1-68 1 27 1-57 1 88 1-19 1-30 1 75 1-71 1 115 1-129 1 92 1-77 1-34 1-19 1 123 1-57 1 42 1 2 1 78 1-91 1 23 1 100 1-97 1-38 1 41 1 56 1-9 1-52 1 63 1 18 1 29 1 83 1-52 1-43 1-1 1 20 1 24 1 3 1 88 1 32 1-19 1 4 1-1 1 33 1-31 1-17 1 65 1-45 1 17 1 28 1-43 1-37 1 37 1 7 1 16 1-67 1 33 1-29 1 55 1-37 1 11 1 8 1-92 1 46 1 26 1-27 1 8 1 40 1 36 1-151 1 91 1-131 1-16 1-7 1-46 1 41 1 25 1-19 1 40 1 42 1-122 1-6 1 22 1 42 1 22 1-72 1 42 1 11 1 28 1 38 1 29 1-45 1-26 1-8 1-2 1 80 1 24 1-33 1 14 1 62 1-57 1-51 1-17 1-14 1-4 1 61 1 98 1-131 1-69 1-24 1 103 1-48 1-40 1-50 1 4 1 69 1 8 1-65 1-8 1 178 1-19 1 36 1-52 1 56 1-5 1-75 1 26 1-7 1-28 1-32 1-26 1 12 1-75 1-4 1 24 1-49 1 14 1-84 1 36 1 37 1-57 1 75 1-37 1-5 1 28 1-12 1-14 1-16 1-8 1 26 1 12 1 111 1-27 1-65 1 29 1 62 1 49 1-43 1 62 1-55 1 22 1 11 1-71 1 30 1-102 1-4 1 51 1-23 1-2 1-100 1-36 1 82 1 24 1-29 1 9 1 36 1 9 1 60 1-59 1 22 1-45 1 32 1-10 1 33 1-35 1-63 1 27 1-2 1-20 1-65 1-8 1 22 1-16 1-70 1-9 1 33 1-46 1 14 1-7 1-31 1 80 1-61 1 54 1-6 1-46 1-25 1 134 1-1 1-38 1 96 1 0 1-18 1-1 1-58 1 78 1 63 1-20 1-128 1 28 1-78 1 60 1 24 1 15 1 47 1-111 1-25 1 55 1-54 1-13 1 71 1-48 1-9 1-30 1 59 1-14 1-17 1 79 1-108 1 53 1 19 1-51 1 52 1-4 1 3 1-69 1-15 1 94 1-33 1 131 1-89 1 37 1-50 1-7 1 7 1-40 1-23 1 12 1 64 1 77 1-139 1-40 1 17 1-45 1 80 1 49 1-27 1-86 1 66 1 27 1-54 1 18 1 50 1-40 1 14 1 38 1-53 1-43 1 28 1-42 1 82 1-7 1-45 1 11 1 29 1-15 1-22 1-23 1 33 1 5 1-42 1-59 1 37 1 43 1 30 1-12 1-92 1 18 1 16 1-10 1 98 1-89 1-32 1 5 1-100 1 84 1 12 1 51 1-81 1 71 1-59 1-41 1 98 1 3 1-75 1-43 1 143 1-4 1 4 1 54 1-73 1 45 1 37 1 12 1 8 1-5 1-55 1 7 1 23 1-38 1 23 1-22 1-2 1 30 1 30 1 1 1 54 1-65 1-44 1 14 1 32 1-11 1 34 1-20 1-38 1 96 1-29 1-6 1 47 1-62 1 15 1-4 1 93 1-12 1-11 1 16 1-42 1 16 1 9 1-54 1 110 1-80 1 20 1-5 1 58 1-62 1 84 1-97 1 58 1-44 1 18 1 64 1-61 1-101 1 52 1 54 1 4 1-34 1-43 1 51 1-47 1-18 1-44 1 18 1 49 1-45 1 1 1-34 1 3 1-26 1-31 1 68 1 73 1-93 1 51 1 59 1-54 1 16 1-38 1 136 1-147 1-33 1 51 1-1 1-74 1 59 1-8 1 20 1-158 1 37 1 66 1-77 1 83 1-2 1-9 1 1 1 49 1 4 1-48 1 25 1 42 1 94 1-142 1 59 1-79 1 6 1 12 1 9 1 0 1 13 1-13 1 34 1 86 1-21 1-89 1 30 1-2 1-85 1 20 1-19 1 34 1-22 1-17 1 17 1 140 1-167 1 77 1-42 1 66 1-1 1-16 1 23 1-15 1-6 1 39 1-90 1 49 1 4 1 3 1-70 1 17 1-18 1 85 1 0 1-4 1 41 1-56 1 10 1 51 1-20 1 41 1-10 1 8 1 15 1-11 1-55 1-8 1-8 1 12 1 54 1-8 1-55 1-86 1 88 1-115 1 8 1 10 1 63 1-61 1 81 1-50 1 28 1-22 1-68 1 130 1-41 1-5 1-5 1 53 1-3 1-34 1 71 1-67 1 19 1-122 1-40 1 15 1 48 1-47 1 84 1-74 1 7 1-68 1 3 1-78 1 63 1 6 1-76 1 5 1 31 1-43 1 33 1 28 1-39 1-92 1-6 1 0 1-66 1 39 1-18 1 41 1 46 1 39 1-128 1 27 1-43 1 8 1-49 1 6 1 21 1-4 1 15 1 32 1-23 1 36 1 74 1-27 1-97 1 48 1 36 1-1 1-2 1 11 1-15 1 67 1 0 1-41 1-1 1 38 1-8 1-14 1 11 1 2 1 23 1 24 1-108 1 21 1-20 1 57 1-106 1 127 1-121 1 94 1-4 1 8 1-7 1-43 1 122 1-87 1 17 1-13 1 126 1-61 1-13 1 81 1-45 1 92 1-139 1-38 1 81 1 66 1-101 1 58 1-56 1 13 1-44 1 108 1-13 1-7 1 7 1 37 1-14 1 26 1 57 1-11 1 29 1-40 1 62 1 14 1-111 1 21 1-1 1 43 1-52 1 54 1-111 1 54 1 59 1-18 1-28 1 44 1-111 1-17 1-37 1 1 1 13 1-15 1 57 1-47 1 13 1 32 1 8 1-34 1-48 1-62 1 112 1-48 1 138 1-129 1 20 1-20 1-26 1-87 1 32 1-17 1-27 1-7 1 36 1-24 1 103 1-33 1 57 1-46 1-10 1-26 1 53 1-36 1-44 1 81 1 20 1-83 1-68 1 18 1-28 1 68 1-63 1-33 1 55 1-45 1-20 1 84 1-54 1 59 1-22 1-16 1 14 1 1 1-11 1-21 1 65 1-45 1 58 1-90 1 30 1 71 1-31 1 109 1-75 1-5 1-27 1 0 1 57 1 121 1 56 1-53 1-19 1-49 1 69 1 52 1-56 1 96 1-8 1-73 1 48 1 37 1-17 1 31 1-43 1-36 1 77 1-53 1 109 1-154 1-2 1 21 1-125 1 123 1-40 1-42 1-58 1-1 1 43 1-109 1 28 1-71 1 42 1-6 1 18 1 3 1-5 1 21 1 15 1-21 1 133 1-223 1 49 1-4 1 60 1 26 1-66 1 0 1-13 1 66 1-107 1-69 1 10 1-1 1 20 1-59 1 19 1-51 1 64 1-4 1 119 1-96 1 12 1 10 1 61 1-44 1 13 1-112 1 83 1-2 1 67 1-47 1 75 1-43 1 43 1-53 1 94 1 32 1-11 1 80 1-9 1-13 1 102 1-24 1-4 1-2 1 106 1-10 1 57 1 30 1-52 1 32 1 47 1 1 1 53 1 0 1-48 1-40 1 28 1 85 1-11 1 62 1-70 1-10 1 43 1 75 1-70 1-41 1 61 1-108 1 57 1 37 1-38 1 111 1 39 1-37 1 58 1 65 1-28 1 31 1 36 1 16 1-34 1-58 1 101 1-84 1-21 1 14 1 2 1-41 1 52 1-25 1 18 1-28 1-39 1-107 1 20 1 72 1-91 1 81 1-46 1-6 1-31 1 0 1-104 1 140 1-32 1-2 1-48 1 14 1-18 1-30 1 73 1-4 1 16 1-19 1-86 1 28 1-9 1-13 1-18 1-60 1 111 1-175 1 35 1 23 1-22 1 24 1 23 1-27 1-30 1 51 1-76 1 102 1-43 1 35 1-24 1-86 1 88 1-23 1 38 1-50 1 77 1 50 1-51 1-14 1-2 1 65 1-50 1 70 1-18 1-67 1 49 1-1 1 71 1-67 1-36 1 25 1-61 1 54 1-46 1-42 1 26 1-35 1-6 1-5 1 18 1 45 1-67 1 6 1 30 1-50 1 3 1 45 1-103 1 12 1 60 1-19 1 44 1-101 1 56 1-60 1 64 1-147 1 25 1-44 1 91 1 57 1 37 1 0 1 43 1 22 1-80 1 32 1 91 1-51 1 40 1 20 1-36 1 46 1-120 1 36 1-10 1-11 1 7 1 12 1-29 1 24 1 118 1 102 1-110 1 40 1 5 1-28 1-98 1 51 1-17 1 102 1-71 1 7 1-85 1 3 1 28 1-64 1 13 1-62 1-9 1-5 1 20 1-59 1-25 1 163 1-127 1-62 1-22 1-90 1 70 1-61 1 55 1-8 1 13 1-42 1 72 1-18 1 16 1 18 1-41 1 2 1 76 1 7 1 31 1-3 1-49 1 58 1-5 1 9 1-23 1-6 1-21 1 33 1 23 1-78 1 80 1-3 1 39 1 2 1 12 1-2 1 65 1-16 1-27 1-5 1 55 1 5 1 11 1 1 1-15 1-41 1 105 1 60 1 0 1-125 1 51 1-64 1-65 1 83 1-97 1-36 1 21 1 22 1-20 1-52 1-45 1 46 1 34 1-149 1 54 1-27 1-6 1 30 1-51 1-77 1 51 1 33 1-59 1 7 1-5 1-30 1 9 1 9 1 49 1-56 1 65 1-43 1 50 1-23 1-18 1-8 1 79 1-103 1 13 1-25 1-73 1 76 1-23 1-28 1 33 1 16 1-35 1 11 1 15 1 18 1-44 1 63 1 37 1-123 1 43 1-18 1 99 1-84 1 87 1-48 1 6 1-3 1-26 1-62 1 29 1-36 1-35 1-21 1 20 1-23 1-12 1 87 1-40 1-43 1-16 1 94 1 37 1-16 1-16 1 95 1-8 1-28 1-56 1-27 1 30 1 118 1-63 1 44 1 29 1 12 1-44 1-33 1 3 1 41 1-27 1-11 1-50 1 34 1 5 1 47 1-15 1 29 1 23 1-70 1 25 1-20 1-61 1 89 1 40 1-92 1 50 1 87 1-99 1-40 1 63 1-23 1 17 1-33 1 79 1 93 1-91 1 63 1-21 1-37 1 25 1-59 1 37 1-84 1-37 1 52 1 10 1 33 1 33 1 49 1-53 1 40 1 84 1-128 1-12 1 137 1-118 1-22 1-4 1 83 1-114 1 66 1-71 1 3 1 13 1-42 1 43 1 90 1 32 1-70 1 40 1-6 1 90 1 38 1-81 1 85 1-49 1 19 1 72 1-114 1 23 1-65 1 40 1 10 1-46 1-78 1-80 1 45 1 45 1 2 1-33 1 8 1 0 1 95 1-39 1-20 1 64 1 39 1-29 1 41 1-7 1 28 1 24 1 16 1 56 1-114 1 45 1 9 1 98 1-105 1-14 1 67 1-25 1 30 1 21 1 87 1 53 1 66 1-150 1 150 1-72 1-30 1 69 1 9 1 4 1 69 1-16 1-27 1 25 1-12 1-36 1-44 1-32 1 65 1-51 1-13 1 91 1-42 1-7 1 25 1-47 1 95 1-94 1 54 1-73 1 34 1-117 1 62 1-5 1-52 1-20 1 47 1-60 1-28 1-50 1 100 1-39 1 62 1 10 1-82 1 56 1-102 1 105 1 24 1-54 1-5 1 98 1-24 1-3 1 26 1-84 1 5 1 29 1 78 1 7 1-36 1 75 1-55 1 58 1 39 1-27 1-16 1 36 1-44 1-58 1-19 1 47 1 29 1-5 1 119 1-30 1 21 1 37 1-31 1 13 1-67 1 42 1 7 1 6 1 81 1-28 1-54 1-18 1-42 1 2 1-17 1 52 1 27 1 12 1-74 1 34 1-74 1-6 1 23 1-91 1 49 1-16 1 12 1 3 1-15 1-15 1 13 1-26 1 22 1 58 1-66 1 82 1 6 1 17 1-43 1-61 1 90 1 78 1-20 1 25 1 7 1-20 1-47 1 37 1 14 1 47 1-55 1 1 1-38 1 31 1 32 1-48 1 1 1 6 1 36 1 45 1-52 1-7 1 104 1-51 1 99 1-37 1-7 1 34 1-5 1-33 1-3 1-59 1-2 1 13 1-23 1 20 1 27 1-35 1 137 1 51 1 73 1-46 1 11 1 24 1 14 1 50 1-9 1 19 1 20 1-80 1-9 1-11 1 2 1-62 1-29 1 67 1-72 1-27 1 26 1 36 1-22 1 55 1-4 1 19 1 37 1 15 1-4 1 17 1-10 1-34 1 62 1 62 1-41 1-63 1 96 1-25 1-3 1-37 1 31 1 33 1-32 1 11 1-53 1 35 1-3 1-35 1 8 1 8 1-16 1 50 1 49 1-130 1 72 1-85 1-1 1 28 1-21 1 43 1-41 1 51 1 66 1-11 1-40 1-21 1 8 1-29 1 55 1-88 1 48 1 29 1-39 1 88 1-162 1 6 1 59 1-23 1 9 1-14 1 67 1-80 1-82 1 69 1-35 1-17 1-6 1 103 1-49 1-89 1 74 1-128 1 44 1 3 1-6 1-10 1-93 1 122 1-144 1 29 1 0 1 26 1 49 1 34 1-92 1 41 1-34 1 16 1-35 1-89 1 74 1-95 1 67 1-114 1 199 1-24 1-31 1 81 1-18 1 41 1 61 1 19 1-76 1-15 1-26 1 56 1-91 1 73 1-82 1 61 1-44 1 41 1-51 1 27 1-54 1-7 1-16 1 122 1-62 1-48 1 16 1 122 1-163 1 65 1 18 1-79 1-40 1-14 1 18 1 8 1 32 1-137 1 25 1-10 1 40 1-87 1-99 1 85 1-22 1-23 1 44 1 43 1 1 1-20 1 65 1-8 1 59 1-15 1-93 1 37 1 7 1 104 1-47 1 22 1-115 1 15 1 73 1-33 1-24 1 25 1 6 1 11 1 44 1-40 1 46 1 36 1 55 1-205 1 70 1 30 1-8 1 85 1-149 1 77 1-12 1 27 1 57 1-24 1 59 1-33 1 61 1-80 1 35 1-32 1-27 1 33 1 108 1-48 1-23 1 15 1-21 1-58 1 21 1 24 1-124 1 91 1 49 1-76 1-20 1 13 1 77 1-10 1 26 1-36 1 51 1-113 1 36 1-84 1-12 1 31 1-15 1-10 1 26 1-61 1 7 1-30 1 16 1-44 1 58 1-2 1 18 1-70 1 21 1 70 1-36 1 7 1 10 1 16 1-50 1 23 1-6 1-65 1 4 1-61 1 63 1 85 1-53 1-88 1 10 1 73 1-59 1 92 1-57 1 15 1 30 1-4 1-23 1 49 1 57 1-4 1 22 1-3 1-15 1 141 1-221 1 103 1-59 1-36 1 58 1-33 1 110 1-27 1-31 1 0 1 26 1 115 1-112 1 115 1-198 1 151 1-57 1 31 1 18 1 67 1 37 1 41 1-96 1 62 1-71 1 78 1 16 1-71 1 17 1-12 1 81 1 59 1 21 1 5 1-109 1 28 1 77 1 24 1 24 1-77 1 15 1 45 1 8 1-59 1 17 1 89 1 47 1-72 1 11 1-6 1-85 1 119 1 39 1 33 1-103 1 92 1-2 1-72 1-25 1-33 1 51 1 14 1 8 1-10 1-12 1-25 1 30 1-18 1 46 1-53 1 93 1-31 1-26 1-1 1-34 1-34 1 24 1-15 1-80 1 119 1-82 1-13 1 12 1-20 1 10 1-25 1 7 1-42 1-53 1-17 1-63 1 135 1-106 1 48 1-67 1 59 1 12 1-60 1 32 1 36 1-135 1 48 1 43 1-113 1-25 1 14 1 36 1 40 1-15 1-49 1 7 1 6 1-26 1 83 1 33 1-28 1-61 1-40 1 8 1 108 1 27 1-169 1 105 1 1 1-106 1 84 1-63 1 24 1 50 1-142 1 62 1 21 1-63 1 38 1 67 1-21 1-86 1-19 1 50 1-21 1 52 1-15 1-81 1 115 1-63 1-47 1-3 1-137 1 132 1-11 1-4 1 27 1-58 1-37 1 75 1-40 1 2 1-97 1 111 1-71 1 45 1-50 1-16 1 1 1 70 1-123 1 44 1 9 1 46 1-63 1 46 1-38 1 40 1-10 1 48 1 17 1-39 1 41 1-44 1-34 1-33 1 62 1-31 1 51 1-95 1 119 1 30 1-30 1-47 1 26 1 25 1 31 1-54 1 1 1-23 1 12 1 19 1-40 1-35 1 49 1 7 1-27 1 15 1 22 1 89 1-7 1 2 1-72 1 71 1-35 1-98 1 69 1 17 1-57 1 62 1 68 1-19 1 52 1 0 1-40 1-59 1 110 1-12 1 24 1-6 1 24 1-53 1 133 1-85 1 17 1 12 1-60 1 0 1 11 1 18 1-67 1 74 1-43 1-48 1 54 1 16 1 21 1-133 1 27 1-66 1 5 1 11 1 35 1 5 1-44 1 3 1 20 1-11 1-19 1-41 1 127 1-91 1 2 1 46 1 41 1-129 1 28 1 18 1 9 1 57 1-15 1 96 1-84 1 18 1-47 1 35 1 9 1-41 1-10 1-42 1-2 1 50 1-139 1 31 1 34 1 46 1-65 1-65 1-33 1-30 1 81 1-29 1 41 1 26 1-55 1-61 1 87 1-64 1 7 1 50 1 106 1-91 1 25 1-80 1-3 1 74 1-19 1 14 1 26 1 23 1 90 1-22 1-31 1-22 1-18 1 88 1 16 1-81 1 54 1 9 1 25 1-41 1 87 1-85 1-37 1 49 1 44 1-16 1-9 1 39 1-63 1 58 1 53 1-9 1-23 1 21 1-3 1 54 1-47 1 66 1-2 1 49 1-33 1-39 1 22 1-8 1-71 1 83 1-56 1 37 1 101 1-60 1 0 1-143 1 62 1 41 1-47 1-3 1-73 1 97 1 34 1-15 1 36 1-9 1-88 1 15 1 18 1 15 1-29 1 8 1-8 1-63 1-29 1 77 1-71 1-13 1 53 1-71 1-10 1 99 1-52 1-82 1 17 1-14 1 2 1-13 1-9 1-28 1-18 1 61 1-31 1 12 1-108 1-18 1 87 1-29 1-5 1 98 1-31 1-42 1 48 1-37"/>
<path class="c" transform="scale(.5)" stroke="#a52a2a" stroke-width="5.6" d="M529 4678l1 1 1-12 1-13 1-3 1-2 1-17 1-9 1 9 1-1 1 1 1-30 1-6 1-18 1-25 1-2 1 21 1 20 1-45 1-81 1 27 1 0 1-45 1-6 1-123 1 86 1-75 1 32 1 24 1 16 1-24 1-18 1 39 1 2 1 27 1-129 1 16 1-31 1-24 1 45 1 23 1-97 1-4 1 188 1-136 1 84 1-74 1-10 1-30 1 92 1-67 1 58 1-39 1-59 1-7 1-22 1 27 1 5 1-35 1 94 1-37 1-6 1 12 1 11 1 15 1-66 1 7 1-50 1 11 1 4 1 140 1-37 1-32 1-21 1 50 1-73 1 1 1 28 1-77 1 78 1 2 1-112 1-13 1 27 1 83 1-78 1-17 1 21 1-20 1-30 1-25 1-30 1-2 1-3 1-65 1 27 1-12 1 0 1 96 1-75 1-17 1 25 1-22 1-17 1 10 1 16 1 82 1-58 1 53 1-119 1 43 1-110 1 63 1-62 1 69 1 87 1-160 1 50 1 45 1 0 1-55 1 54 1 32 1-13 1-32 1 67 1-21 1 61 1-51 1-20 1 127 1-37 1-64 1 64 1-41 1 11 1-52 1-114 1-4 1-6 1 31 1 71 1-103 1-12 1 51 1-32 1 53 1-6 1-70 1-16 1 68 1 19 1-6 1 50 1-49 1 53 1-25 1-1 1-36 1 14 1 7 1-11 1-53 1 21 1 15 1 33 1-94 1 23 1-21 1 25 1 61 1 13 1-66 1 21 1 5 1 32 1 5 1 32 1 66 1-83 1 72 1-32 1-16 1 2 1 100 1-117 1 133 1 79 1-15 1 0 1-40 1-52 1 16 1-77 1-42 1 82 1-16 1 18 1-68 1 57 1-120 1 82 1-107 1 12 1-25 1-41 1 30 1 53 1-53 1 39 1-53 1 45 1 19 1 43 1-58 1 16 1 45 1 0 1 9 1 50 1-57 1-20 1 65 1 20 1-23 1-53 1-6 1 26 1-75 1-27 1-7 1 12 1-25 1 18 1 30 1-13 1-14 1 77 1-101 1 36 1-29 1-89 1 83 1 12 1 12 1-20 1 9 1 43 1 33 1 45 1-61 1 17 1 47 1 24 1-18 1-17 1-70 1 21 1-5 1 49 1 31 1 30 1-34 1 98 1-22 1-70 1-75 1 53 1 61 1 7 1-56 1 45 1 36 1-53 1-44 1-55 1 25 1-74 1 175 1-50 1-4 1-3 1 41 1-63 1 89 1-4 1-25 1 37 1-24 1-7 1-13 1-37 1 126 1 40 1 5 1-97 1-44 1 24 1-13 1-59 1 71 1 85 1-48 1-30 1 26 1-10 1-12 1-59 1 17 1-1 1 10 1-82 1-25 1 63 1-31 1 59 1-53 1 7 1 7 1-65 1 5 1 87 1-28 1-49 1 53 1-24 1-14 1-28 1 79 1-25 1 9 1-45 1 21 1 22 1 24 1 7 1 97 1-10 1 29 1-22 1-53 1 45 1-32 1-32 1 61 1-41 1-60 1-3 1 156 1-114 1-28 1 46 1-64 1 44 1 75 1-23 1-45 1-26 1-46 1-37 1-28 1 69 1-20 1 35 1 15 1 20 1-52 1 59 1 19 1-103 1 89 1-79 1 22 1-39 1-54 1-5 1 33 1-28 1 4 1-24 1-28 1 30 1-120 1 55 1 5 1 15 1-18 1-14 1-34 1 23 1 2 1-7 1-1 1 14 1-21 1 37 1-46 1 38 1 34 1-130 1 68 1 33 1 70 1 3 1-21 1 2 1-107 1 8 1-27 1-68 1 82 1 11 1-20 1 5 1-13 1 3 1-75 1-10 1-28 1-53 1 50 1-74 1 138 1 30 1-53 1-15 1 19 1-102 1 55 1 22 1-23 1 28 1-29 1-4 1-48 1-61 1-12 1-14 1-51 1 77 1 128 1-10 1-23 1-26 1-26 1-32 1 20 1 94 1-45 1 72 1-36 1 15 1 58 1 60 1-68 1 34 1-7 1 14 1-75 1-86 1 78 1-26 1-18 1 123 1 54 1-78 1-28 1 92 1-25 1-10 1 4 1 12 1-44 1 89 1 16 1-7 1-25 1-4 1 26 1 84 1-40 1-41 1 1 1-33 1-8 1 112 1-91 1 9 1 4 1-40 1 115 1-114 1-65 1 42 1-103 1 84 1-27 1-36 1 30 1 93 1 39 1-52 1-15 1 41 1-50 1-62 1 25 1-49 1 57 1-24 1 67 1-67 1-28 1 41 1 9 1-21 1 1 1 36 1-130 1-32 1 6 1 12 1-2 1 45 1 5 1 9 1-40 1-74 1 117 1 39 1-69 1 27 1-12 1-96 1-26 1-11 1 19 1 10 1-35 1 33 1 30 1 38 1-125 1 39 1 37 1 1 1 34 1-14 1-38 1 81 1-23 1-31 1 86 1-62 1-65 1 55 1-14 1 14 1-28 1 65 1-63 1 79 1-127 1 123 1-37 1 47 1-77 1 78 1-29 1 54 1-28 1-49 1-19 1 61 1 57 1 27 1 30 1 13 1 92 1-122 1 111 1 5 1 49 1-55 1 10 1 39 1 25 1-26 1-36 1 12 1-18 1 108 1-39 1 77 1-42 1 12 1-51 1 39 1-41 1-21 1-10 1 123 1-53 1 25 1-13 1-23 1-98 1 152 1-80 1 57 1 52 1 32 1-2 1-89 1 64 1-40 1-36 1 25 1-41 1 2 1 158 1-22 1 31 1-94 1 12 1 18 1 2 1 29 1 92 1-52 1-45 1 132 1-141 1 8 1-31 1-42 1 86 1-3 1-7 1 5 1 56 1-9 1-50 1 36 1-11 1 99 1 25 1-92 1 109 1-53 1 3 1-29 1 10 1-35 1 83 1 26 1 0 1-1 1 17 1 72 1-84 1-60 1 48 1 100 1-80 1 58 1 12 1 53 1 40 1 37 1-11 1-69 1-10 1 97 1 39 1 100 1 16 1-87 1-16 1 77 1 29 1-23 1 12 1 4 1 158 1-83 1 97 1-39 1-48 1 6 1 22 1-30 1 24 1 51 1-4 1 52 1-98 1 54 1-86 1-79 1 18 1 58 1 33 1 16 1-99 1 58 1 24 1-105 1 9 1-82 1 37 1 67 1-20 1 65 1-20 1 43 1-139 1 114 1-36 1-78 1-53 1 205 1-93 1 0 1-41 1 93 1-63 1 27 1 40 1 38 1 21 1-94 1 15 1-42 1 17 1-47 1 36 1 84 1-63 1-11 1-27 1 100 1-60 1-55 1 5 1-24 1 45 1-51 1-66 1 85 1-20 1 44 1 32 1-15 1 13 1-15 1 7 1-17 1 130 1-69 1-42 1 19 1 18 1-18 1 38 1 15 1-70 1 45 1-138 1 206 1-144 1 108 1-20 1-8 1 25 1-2 1-21 1-109 1 13 1 81 1-96 1 58 1-13 1 127 1-114 1-33 1 114 1-129 1 56 1-3 1-29 1-71 1 43 1 56 1-78 1 32 1-63 1 97 1 39 1-63 1-16 1 41 1-35 1 51 1 67 1-77 1 45 1 27 1-14 1-67 1-2 1-29 1 21 1-8 1-21 1 31 1 15 1 37 1 15 1-102 1-58 1 61 1 18 1-33 1 39 1-2 1-36 1 44 1-76 1-32 1-18 1 4 1 86 1-35 1-22 1-81 1-24 1 53 1-10 1 95 1-94 1 42 1-101 1-30 1 157 1-20 1-18 1-36 1 72 1 80 1-30 1 76 1-53 1 47 1-1 1-33 1 115 1-55 1-9 1-12 1-39 1 41 1-77 1-56 1 10 1 48 1-47 1-38 1 14 1 30 1-36 1 75 1-36 1-26 1 49 1-63 1-26 1 4 1-21 1 14 1-10 1 15 1 82 1-25 1-22 1 37 1-45 1-69 1 101 1 43 1-4 1-36 1-27 1 59 1-8 1 57 1-88 1 20 1 104 1-130 1 68 1-119 1 39 1 82 1-127 1 59 1 4 1-60 1 3 1-71 1 57 1-17 1-6 1-26 1 67 1 12 1-3 1 49 1-77 1 113 1-14 1-48 1 46 1-54 1-87 1 66 1-1 1 20 1 12 1-22 1 16 1 19 1 13 1-25 1 19 1-23 1 26 1 67 1-79 1 5 1-38 1-35 1 21 1 8 1 14 1 29 1 4 1-33 1 10 1 1 1-9 1 61 1-52 1 5 1 84 1 15 1-120 1 68 1-38 1-79 1 4 1 2 1-18 1-7 1 42 1 58 1-53 1-52 1-9 1 68 1 65 1 41 1-75 1 45 1-76 1 97 1-21 1 26 1 1 1-4 1-31 1-2 1-122 1 26 1 61 1 25 1 20 1-14 1-68 1-68 1 81 1-104 1 147 1-85 1 41 1 14 1-21 1 45 1-26 1-43 1 89 1-153 1-24 1 53 1-33 1 44 1-147 1 18 1-35 1 7 1 55 1 29 1-88 1 24 1-33 1 3 1 21 1-23 1-20 1 7 1 36 1 41 1 9 1 88 1-23 1-16 1-13 1-43 1 71 1-77 1 0 1 0 1 77 1 53 1-106 1-3 1 74 1 7 1-59 1-95 1 72 1 49 1-116 1 64 1-2 1 102 1-64 1 64 1-43 1 30 1 65 1-72 1 4 1 43 1 18 1-12 1 24 1 103 1 5 1-46 1-71 1 74 1-4 1-25 1 90 1-20 1 35 1-4 1 60 1 24 1-27 1 57 1-10 1-61 1 30 1-9 1 2 1-22 1 38 1 25 1-9 1 77 1-89 1 7 1 12 1 19 1-70 1 11 1 52 1-33 1 4 1 69 1-36 1 24 1-34 1 42 1-52 1-143 1 117 1-16 1-22 1-10 1-41 1 141 1-119 1-46 1 64 1-67 1-41 1 85 1-59 1 85 1 0 1 26 1-6 1 41 1-116 1 85 1-4 1-53 1-56 1 23 1-73 1 98 1-122 1 7 1 64 1-28 1-19 1-25 1 49 1-133 1 75 1-30 1-9 1 61 1-79 1 67 1-54 1 77 1 18 1-35 1-6 1 10 1 36 1-96 1-17 1 34 1-1 1 7 1-76 1 68 1-9 1 10 1-54 1 18 1 21 1-87 1-2 1 56 1-95 1 43 1-29 1 28 1-89 1 6 1 37 1-91 1-9 1 9 1 108 1 6 1-23 1-39 1 49 1-15 1-52 1 41 1-40 1-40 1 61 1 30 1-20 1-68 1 14 1 62 1-24 1 12 1 4 1 39 1 10 1-26 1-1 1-51 1-35 1-25 1 7 1-8 1-39 1-35 1-41 1 63 1-117 1 146 1-43 1 21 1-11 1 104 1-78 1-79 1 14 1 0 1 158 1 7 1-57 1-30 1-7 1-27 1 42 1-15 1 86 1-118 1-13 1 52 1-55 1-64 1 9 1 71 1-67 1 36 1-111 1 98 1 34 1-133 1 76 1 68 1-30 1-36 1-78 1-6 1 41 1-7 1 54 1-52 1 34 1 56 1-57 1-41 1 117 1 14 1-110 1 13 1-5 1-3 1 67 1-70 1 8 1-60 1-4 1-74 1 20 1-10 1 49 1 73 1-25 1 16 1-73 1-33 1 61 1-14 1 68 1-45 1 10 1 26 1 12 1-77 1-3 1 62 1-58 1 83 1-10 1-118 1 153 1-120 1 61 1 4 1-79 1-12 1-43 1 52 1-12 1 25 1 56 1 27 1-27 1-22 1-3 1-48 1 60 1-136 1 45 1 90 1-13 1 62 1 34 1 7 1 53 1-87 1 49 1 25 1 46 1-16 1-3 1 145 1-135 1 71 1 0 1-65 1-7 1-29 1-4 1 55 1-17 1-22 1 23 1 14 1 56 1 29 1-64 1-23 1 17 1-24 1 60 1-88 1-47 1 63 1 2 1-74 1-27 1-36 1 0 1-47 1 108 1-132 1 73 1 61 1-54 1-95 1 18 1 23 1-46 1 64 1-24 1 72 1-48 1-38 1-26 1 98 1-52 1 20 1-42 1-10 1-18 1 101 1-73 1-6 1 49 1-2 1 44 1 14 1 25 1-11 1 1 1-2 1-13 1-3 1-27 1 79 1-107 1 10 1 55 1-103 1 50 1 26 1-35 1 4 1-45 1-4 1-54 1 96 1-15 1-46 1-99 1 67 1 42 1-62 1 42 1 32 1-35 1 27 1 16 1-23 1 20 1-34 1-30 1 3 1 18 1-78 1 96 1-18 1-30 1-28 1-27 1 98 1-28 1-14 1-28 1-33 1 25 1-28 1 50 1-72 1 22 1-42 1 63 1-64 1-49 1 9 1 33 1 4 1-51 1-39 1-34 1 12 1 44 1-42 1 56 1-90 1 155 1-40 1 60 1 56 1-55 1-27 1 19 1-98 1 49 1 2 1-44 1 34 1-16 1 86 1-153 1 56 1-60 1 18 1-32 1-62 1 31 1-39 1 73 1-82 1-33 1 112 1-92 1 2 1 19 1 39 1-1 1-146 1 9 1 17 1-44 1 7 1-81 1 73 1-23 1 6 1 3 1 34 1-88 1 112 1 14 1 74 1-26 1-7 1 52 1 44 1 84 1-32 1 69 1-41 1 43 1 6 1 51 1-44 1 8 1 68 1-91 1 65 1-24 1 72 1 5 1-52 1 101 1 36 1-34 1 40 1-135 1 62 1 23 1-68 1 31 1-10 1 142 1-105 1 31 1 33 1-30 1-4 1-5 1 35 1 52 1-2 1-19 1 53 1-101 1-42 1-85 1 19 1 25 1 76 1-39 1 14 1 44 1 6 1-87 1 121 1-75 1 46 1-70 1 38 1 13 1 56 1-25 1 53 1-44 1 55 1 42 1-92 1 42 1-40 1 62 1 22 1-77 1-13 1 37 1 87 1-93 1 65 1-87 1 6 1-5 1 120 1-95 1 146 1-56 1 50 1-10 1-27 1 58 1-88 1-43 1 88 1-42 1-21 1 52 1-31 1-47 1 46 1-5 1 65 1-52 1 63 1 5 1-46 1 29 1-46 1 14 1-49 1 97 1-76 1 83 1 24 1 31 1-23 1 7 1 20 1 17 1-93 1-61 1-21 1 20 1 30 1-43 1 9 1 27 1-9 1 25 1 41 1-26 1-15 1 3 1 27 1 36 1 20 1-23 1-107 1 15 1 44 1 18 1-18 1-10 1 140 1-67 1 73 1-7 1 12 1 31 1-31 1-27 1 70 1-63 1 2 1-90 1 70 1 79 1-2 1 55 1-34 1-72 1 95 1-7 1 57 1 9 1 34 1 50 1-3 1 9 1-9 1-65 1-44 1 34 1-18 1 11 1-21 1-29 1-28 1-21 1 50 1-14 1-30 1 57 1-43 1 44 1-34 1-9 1 0 1-12 1 31 1-35 1 60 1-29 1-48 1 50 1-43 1-1 1 55 1-87 1 62 1 44 1-27 1-7 1 27 1-1 1 9 1 5 1-45 1 31 1 47 1-29 1-60 1 33 1 60 1 27 1-90 1 10 1 23 1-80 1-28 1 28 1-36 1-23 1 131 1-101 1 75 1-71 1 55 1 36 1-36 1 45 1-11 1-73 1-26 1 48 1 39 1-39 1-45 1 101 1 30 1-18 1 45 1 70 1-14 1-47 1-75 1 102 1-28 1 31 1-40 1 2 1-15 1-72 1 54 1 42 1 5 1 10 1-62 1-14 1 52 1-50 1 67 1-48 1 19 1 39 1 43 1-29 1 3 1 28 1-102 1 23 1 67 1 40 1-11 1-100 1 134 1-26 1-56 1 55 1 33 1-53 1-18 1-16 1-80 1 101 1-38 1 7 1-73 1 109 1 18 1-57 1-68 1 26 1-30 1-3 1 8 1-97 1 8 1 77 1-44 1-21 1-5 1 123 1 3 1-46 1 25 1 4 1-6 1 69 1 46 1-86 1 196 1-81 1 61 1-37 1-2 1 48 1 37 1-15 1 20 1-5 1-52 1 101 1-13 1-9 1 80 1-38 1-19 1-23 1 47 1-52 1 74 1-123 1 99 1-41 1 51 1-94 1 51 1-91 1 26 1 35 1 20 1-83 1 1 1 48 1-62 1 132 1-116 1 38 1-99 1 90 1-7 1-27 1-38 1-6 1-76 1 49 1 116 1-4 1-27 1 41 1 26 1-14 1-9 1 67 1 56 1-6 1-85 1 15 1-72 1 20 1-41 1 51 1-88 1-15 1-39 1 33 1-22 1 28 1 56 1-63 1 15 1 36 1-42 1 32 1 35 1-16 1 19 1-11 1 60 1-96 1-40 1-65 1 98 1-67 1 12 1-88 1 53 1 63 1-99 1-21 1-41 1-44 1 30 1-23 1-71 1 45 1 37 1 5 1 36 1-89 1-2 1 65 1-66 1-36 1-17 1-32 1-24 1-94 1 30 1-1 1-2 1-29 1 90 1-34 1-100 1 101 1-86 1-17 1 69 1-26 1 1 1 0 1 4 1 16 1-19 1-11 1 2 1-49 1 51 1-32 1 43 1-71 1 0 1 61 1-50 1 35 1 65 1-129 1 41 1 97 1 7 1-41 1 8 1 14 1 46 1-3 1-99 1 52 1-11 1-29 1-19 1 12 1-21 1 92 1-43 1 49 1-86 1 105 1-56 1-8 1 93 1 100 1-69 1-71 1 42 1-94 1 59 1 9 1 102 1-65 1-30 1 2 1 81 1-25 1-21 1 55 1-71 1 91 1-16 1 4 1-39 1-21 1-17 1 20 1 55 1 66 1 7 1 20 1-62 1 75 1-5 1-26 1-46 1 46 1-3 1 26 1 112 1-105 1-51 1-19 1 33 1-27 1-33 1 100 1 0 1-5 1-4 1 5 1 60 1-22 1 78 1-34 1 44 1-17 1-86 1-1 1-48 1-7 1-62 1-10 1-7 1 12 1-108 1-44 1-14 1 11 1-16 1-17 1-24 1-91 1 33 1 45 1-45 1-5 1 42 1 8 1 48 1-119 1 68 1-21 1 74 1-53 1 3 1-86 1-20 1 5 1 51 1-10 1-36 1-25 1 30 1-76 1 115 1-5 1-32 1 36 1-60 1-42 1 59 1-58 1-31 1-20 1 7 1-50 1 173 1-40 1-20 1-11 1 8 1-12 1 45 1-13 1-21 1-53 1-35 1-7 1 67 1-48 1-2 1 4 1 46 1-72 1 23 1 65 1 10 1 42 1-92 1 96 1-15 1-9 1 20 1 14 1-36 1 32 1-34 1 55 1-74 1 0 1 47 1-31 1-28 1 47 1 30 1 23 1-53 1 20 1-20 1-13 1 20 1 37 1-155 1-31 1 135 1-95 1 56 1-21 1-32 1 46 1-51 1 27 1-70 1 7 1 49 1-134 1 137 1-78 1-48 1-104 1 71 1 15 1-84 1 2 1 71 1-23 1-14 1-46 1 75 1-18 1-26 1 47 1-62 1 73 1 10 1-38 1 132 1-59 1 4 1-86 1 82 1-5 1-13 1 7 1-11 1-12 1-78 1 8 1 22 1-85 1 92 1 11 1 3 1-81 1 45 1-52 1-1 1 37 1-35 1-104 1 31 1 7 1 5 1-65 1-49 1 64 1 57 1-48 1 26 1 67 1-4 1 15 1 32 1 3 1-69 1 73 1 12 1 56 1-36 1 83 1-29 1 14 1-11 1 1 1 69 1-78 1 6 1 60 1-35 1-50 1 41 1 61 1 2 1-3 1-181 1 121 1 4 1 79 1-47 1-45 1 99 1-51 1-9 1-18 1 84 1-83 1 83 1 12 1 6 1 14 1-5 1-32 1 96 1-57 1 61 1-41 1 45 1-29 1 2 1-19 1-28 1 58 1-37 1 24 1-25 1-23 1 61 1-20 1-12 1-24 1 32 1 44 1-9 1-13 1-2 1 37 1 37 1-81 1 82 1 74 1-138 1 75 1 119 1-54 1-49 1-78 1 110 1-51 1 122 1 67 1-7 1-79 1 66 1-10 1 9 1-2 1 38 1-27 1 39 1-112 1 53 1-23 1 15 1 7 1-12 1 39 1 0 1-1 1 51 1-67 1-6 1-13 1 111 1-97 1-49 1 51 1-7 1-15 1-28 1 44 1 48 1-10 1-9 1 71 1-28 1-101 1-20 1 19 1-16 1 53 1-55 1 39 1-11 1-28 1-12 1-7 1-37 1 41 1-34 1-61 1 8 1-14 1 48 1-110 1 104 1 102 1-31 1-23 1 114 1-112 1 116 1 82 1-34 1-90 1 144 1-69 1-25 1 2 1 74 1 21 1-107 1 93 1 3 1 12 1 24 1-5 1-78 1 107 1-27 1-63 1 56 1-9 1 55 1 33 1-21 1-18 1-9 1 28 1 2 1-44 1 28 1 51 1-41 1-61 1 86 1 112 1-9 1 1 1-99 1 70 1 24 1-71 1 33 1-57 1 80 1-87 1-9 1-13 1-19 1 47 1-49 1 102 1-138 1 71 1 38 1-23 1-16 1-34 1-49 1 23 1-15 1 8 1-11 1 37 1 5 1 57 1-36 1 44 1 28 1-38 1 8 1 45 1-127 1 29 1 3 1 139 1 10 1 58 1-13 1-23 1 7 1-20 1 10 1-102 1 125 1 46 1-121 1 104 1-31 1 73 1 40 1-73 1-12 1 72 1-14 1-129 1 33 1-37 1-18 1 55 1 45 1-75 1-49 1 61 1 20 1-45 1 27 1-35 1 61 1-80 1 21 1 41 1-72 1-127 1 129 1-44 1-93 1 72 1-55 1 66 1 44 1 41 1-4 1-64 1-32 1 9 1 8 1 2 1 1 1-85 1 3 1-34 1 62 1-15 1 54 1 30 1-37 1 15 1 49 1 4 1 45 1 45 1-54 1 24 1-94 1-2 1 3 1 71 1-67 1 20 1-25 1-2 1 50 1-88 1 93 1-96 1-3 1-34 1-9 1 11 1-35 1-10 1-3 1-52 1-8 1-40 1 21 1 93 1-7 1 12 1 54 1-102 1 22 1 9 1-19 1 0 1-33 1 73 1-87 1 16 1-1 1 46 1-74 1 53 1-46 1-28 1-18 1-34 1 56 1 65 1-43 1 26 1 61 1-23 1-75 1-1 1 2 1 46 1-39 1-26 1-27 1-5 1-105 1-17 1 75 1-34 1 72 1-69 1-23 1 56 1-107 1 4 1-13 1 26 1 75 1-37 1 61 1-59 1-6 1-32 1 88 1-10 1-3 1 4 1 52 1-86 1 40 1 30 1-29 1 131 1-13 1-85 1 47 1 0 1-123 1-26 1 49 1 69 1-19 1-25 1 71 1 67 1-33 1-23 1 47 1-30 1-86 1 76 1 69 1-77 1-34 1 26 1-33 1 85 1 20 1-82 1-13 1-14 1 49 1-24 1-45 1-77 1 89 1 30 1-5 1-15 1 59 1-10 1 74 1-10 1 18 1-41 1 3 1-20 1 12 1-21 1 91 1-31 1 8 1-52 1 22 1-18 1 30 1 28 1 19 1-37 1 21 1 45 1-66 1-37 1 44 1-57 1-64 1 75 1 23 1-32 1 75 1-76 1 57 1 47 1-14 1 44 1 31 1-67 1-5 1-37 1 49 1-27 1 46 1 40 1 28 1-73 1-47 1 39 1-9 1 33 1-73 1 27 1-11 1-7 1 103 1-82 1 70 1-11 1 17 1-40 1 83 1-113 1-3 1 55 1-77 1 77 1 64 1-21 1 9 1 48 1-70 1 83 1-2 1-74 1 25 1-8 1-34 1 128 1 10 1-129 1-11 1 8 1 3 1-26 1 81 1 114 1-143 1 6 1 38 1 1 1-2 1-119 1 97 1-1 1-93 1 93 1-87 1 11 1 11 1 31 1-35 1 34 1-8 1-22 1-41 1-24 1 81 1-31 1-127 1 115 1-87 1-64 1 55 1 17 1-89 1-3 1-18 1 13 1-57 1-15 1-18 1-14 1 68 1-20 1-29 1 136 1-17 1-130 1-1 1 31 1-48 1 10 1-30 1-102 1 11 1-28 1 23 1-50 1 91 1-1 1 62 1-64 1-49 1-13 1 75 1-118 1 62 1 17 1 60 1-79 1 13 1 37 1-37 1-30 1 33 1 91 1-98 1-14 1 105 1-81 1 72 1-70 1 36 1-21 1-23 1 74 1 41 1 17 1-21 1-19 1 51 1-12 1 50 1 29 1-65 1 1 1 24 1-87 1 9 1 37 1-71 1 85 1-99 1-12 1 36 1 98 1-74 1 13 1-7 1 1"/>
<path class="c" transform="scale(.5)" stroke="#00ff00" stroke-width="5.6" d="M529 4678l1-2 1 1 1-9 1-15 1 27 1-28 1 5 1 7 1-33 1 2 1 37 1-88 1 3 1 69 1-42 1-30 1 97 1-154 1 72 1 48 1-120 1 69 1 36 1-66 1-72 1 15 1-10 1-25 1 11 1 57 1-45 1 104 1-85 1-84 1 33 1-3 1 71 1 13 1 53 1-56 1-23 1-16 1-16 1 30 1-80 1 16 1-26 1 41 1-65 1 84 1-37 1-12 1-51 1 26 1 48 1-55 1 45 1 44 1-94 1-75 1 33 1-32 1-10 1-40 1 82 1-27 1 42 1-92 1-7 1 111 1 9 1-24 1 34 1-14 1 32 1 16 1 24 1 68 1-23 1-30 1 36 1-82 1 100 1-26 1 88 1 12 1-8 1 2 1 56 1-71 1-46 1-50 1-13 1 30 1-30 1 72 1-27 1 32 1-104 1 50 1 26 1 25 1-45 1 67 1 13 1 6 1-7 1-108 1 75 1-62 1 38 1-56 1-9 1 105 1-23 1-32 1-67 1-20 1 16 1 8 1-24 1-20 1-84 1 40 1-39 1 63 1 45 1-18 1-33 1 44 1 30 1-112 1 68 1-34 1 93 1 25 1 13 1-98 1 99 1 16 1 120 1-71 1-37 1 86 1 55 1 30 1 130 1-70 1 17 1 24 1-8 1-118 1 90 1-35 1-20 1-16 1 111 1-31 1-77 1 21 1-29 1-3 1 30 1 107 1-50 1-41 1 3 1 68 1-75 1-63 1 81 1 12 1 38 1-71 1 21 1-106 1 39 1-17 1 15 1-2 1 72 1-59 1 36 1-2 1-10 1-110 1-21 1-42 1-57 1 51 1 24 1-54 1 11 1-86 1 101 1-89 1 92 1 40 1-116 1 54 1-28 1 135 1-49 1 53 1-141 1 88 1-79 1 85 1-54 1 66 1 81 1-42 1-8 1 69 1-35 1 45 1-84 1 38 1 66 1-123 1 102 1-37 1 9 1-18 1-46 1-21 1 79 1 21 1 33 1-5 1-22 1-64 1 49 1-3 1 32 1-3 1 90 1-55 1 0 1 27 1 5 1-45 1 102 1-71 1 30 1-98 1-63 1 105 1-8 1-123 1 114 1-106 1-84 1 21 1-43 1 50 1-34 1 43 1-29 1-48 1 26 1-59 1-74 1 51 1 55 1-6 1-16 1 3 1 17 1-27 1 28 1 2 1-5 1-97 1 7 1 23 1-57 1-46 1 107 1-140 1 111 1 65 1 2 1-55 1 46 1 22 1 36 1-34 1 70 1 40 1-10 1-73 1 55 1-94 1 69 1-115 1 35 1 132 1-10 1-48 1 10 1-5 1-56 1 40 1 36 1 33 1-26 1 167 1-37 1 10 1 72 1-57 1 27 1-58 1 16 1 47 1-81 1 27 1-44 1-27 1-40 1 49 1-47 1 17 1-41 1 5 1-15 1 79 1-15 1-80 1 3 1-29 1 97 1-84 1-25 1 45 1 14 1-1 1 46 1 14 1 65 1-33 1 2 1 33 1 0 1 22 1 58 1-31 1-60 1 52 1 21 1 26 1-182 1 66 1-49 1 6 1-5 1-36 1-75 1 11 1-26 1-42 1-88 1-4 1 64 1-18 1 36 1 13 1 80 1-132 1-20 1 15 1 61 1-42 1-5 1-47 1 92 1-5 1-42 1 48 1-61 1 25 1 92 1 8 1-99 1-106 1 98 1-61 1 61 1-62 1-2 1-92 1 23 1-13 1-16 1-17 1-36 1 52 1 10 1-71 1 62 1-82 1 122 1 9 1 54 1-20 1-21 1-32 1 28 1-5 1-22 1-28 1-19 1 141 1-80 1 10 1-107 1 37 1-42 1-81 1 52 1 41 1 13 1-2 1-72 1-11 1 71 1 62 1-22 1-90 1-53 1 65 1-4 1-84 1-46 1 11 1 33 1-23 1 20 1-33 1 26 1 66 1 11 1-81 1-17 1 21 1 56 1-34 1-69 1 84 1-27 1-89 1 37 1 36 1-44 1-73 1-9 1 33 1-23 1-44 1 47 1 39 1-23 1 28 1 37 1 49 1-62 1 12 1-73 1 76 1-97 1 30 1-10 1-21 1-26 1 39 1-11 1-76 1 94 1-26 1 87 1-84 1 46 1-24 1 102 1-58 1 40 1-54 1 25 1 109 1-27 1 30 1 34 1-104 1 72 1 28 1-10 1 3 1-31 1 55 1-72 1 68 1-13 1 10 1-132 1 124 1 37 1-20 1-21 1 8 1 40 1 36 1-57 1 46 1-48 1 8 1-20 1 15 1 5 1-23 1 44 1 58 1 5 1-32 1-64 1 81 1 20 1-105 1 26 1 43 1-9 1-115 1 64 1-88 1 22 1-2 1 24 1 33 1-37 1-29 1-75 1 67 1-44 1 11 1-23 1-12 1 51 1 7 1 1 1-119 1 63 1-52 1-5 1 37 1-2 1 12 1-25 1 8 1 3 1-72 1 134 1-57 1 40 1 12 1 70 1-71 1 12 1-41 1-21 1 61 1-131 1 57 1-12 1 92 1-96 1 106 1 21 1-22 1-41 1 9 1 42 1-21 1 22 1 18 1-4 1-44 1-62 1 108 1-11 1-72 1-15 1-42 1 6 1-75 1 86 1-11 1 54 1-56 1 37 1 5 1-122 1 38 1-52 1-94 1 37 1 75 1 18 1-55 1 118 1-92 1-8 1 15 1 8 1 2 1-12 1 41 1 6 1 30 1-62 1-3 1 63 1-30 1 42 1 1 1 30 1 57 1-41 1-26 1 25 1 25 1-16 1 13 1 18 1-72 1 2 1 81 1 8 1-21 1-38 1 61 1 14 1 51 1-60 1 52 1 46 1-64 1-2 1 41 1 74 1 27 1-64 1 109 1-49 1-17 1 72 1-11 1-35 1 21 1-54 1 16 1-52 1 40 1-96 1-4 1-60 1 60 1-44 1-30 1 64 1-162 1 108 1 23 1-125 1 79 1 161 1-78 1-26 1 53 1-99 1 128 1 9 1-90 1-70 1 133 1-96 1 26 1-74 1-18 1 14 1 20 1-34 1 24 1 44 1-51 1-52 1 46 1 23 1-50 1 67 1-25 1-21 1 4 1-50 1-45 1-15 1-34 1-53 1 71 1 6 1-89 1-24 1-64 1 24 1 38 1-9 1 3 1-29 1-22 1-36 1 27 1 17 1 22 1 12 1-101 1 12 1-47 1 12 1-47 1 38 1-57 1 17 1 0 1-24 1 69 1-101 1 81 1 2 1-26 1-26 1 30 1-90 1 37 1-122 1 44 1-23 1 23 1 57 1-76 1-25 1 18 1 26 1-107 1-65 1 32 1-7 1 59 1-56 1-47 1 35 1 26 1-64 1-32 1 67 1 70 1-106 1 7 1 31 1-40 1 42 1-29 1 45 1-32 1-12 1-57 1 39 1 15 1-21 1 55 1 117 1-60 1 106 1 2 1-9 1 21 1 35 1-87 1 15 1-15 1-35 1 100 1-90 1 126 1-29 1-78 1 62 1-67 1-30 1 5 1-57 1 22 1 89 1 17 1-68 1-85 1 39 1-3 1 7 1-13 1-74 1-13 1-34 1-12 1 43 1-34 1 15 1 60 1 19 1 50 1-45 1 58 1-72 1 134 1-41 1-2 1 65 1-129 1 136 1-12 1 83 1 78 1-122 1 3 1 58 1-13 1-6 1 10 1-55 1 1 1-18 1-69 1 26 1-5 1 23 1-98 1-35 1 0 1 0 1 17 1-36 1 48 1-25 1-59 1 33 1-34 1-32 1 34 1-38 1-26 1 64 1 43 1-34 1 54 1-50 1 129 1-48 1 23 1 70 1 59 1-37 1 0 1-52 1 39 1-32 1 25 1-14 1 126 1-116 1-36 1-23 1 122 1-80 1 89 1-28 1-31 1-34 1 14 1-16 1-52 1 72 1-27 1 28 1-128 1 56 1-17 1 1 1-11 1-30 1 51 1 46 1-73 1 20 1-96 1 81 1-16 1 6 1 113 1-20 1 5 1 21 1-21 1-35 1-8 1-99 1 68 1 22 1 21 1 95 1-36 1-27 1 89 1-62 1 131 1-29 1 15 1-40 1 121 1-52 1 96 1 43 1-28 1 50 1 78 1-34 1-4 1 65 1-78 1 75 1-55 1 24 1 134 1-15 1-71 1 61 1-59 1-93 1 81 1-137 1 89 1-87 1-70 1 55 1 93 1-110 1-62 1 38 1-28 1 22 1-65 1-20 1 21 1-53 1 35 1-78 1-10 1 12 1-73 1 84 1-120 1 103 1-31 1 106 1-10 1 2 1 30 1-67 1-32 1 14 1-80 1 11 1 22 1-16 1 6 1 4 1-51 1-23 1-35 1-66 1 23 1-7 1-55 1 85 1-91 1 0 1 27 1-64 1 11 1 58 1-36 1 35 1-79 1 22 1-74 1-87 1 89 1-64 1 23 1-42 1 10 1-81 1 64 1 10 1-74 1 100 1 72 1-39 1 52 1 31 1 13 1 25 1 26 1-37 1 112 1-66 1 63 1-75 1-28 1-84 1-41 1-33 1 11 1 20 1 17 1-23 1 41 1-106 1 80 1 54 1 35 1-44 1 53 1 105 1 4 1-128 1 31 1 6 1-2 1 26 1-13 1-61 1 21 1-89 1 35 1 59 1-40 1 20 1 45 1 86 1-100 1-23 1-98 1 50 1-24 1-15 1 35 1 29 1-37 1 73 1-11 1 59 1-14 1-85 1 52 1 10 1 25 1-13 1-61 1 93 1-53 1 9 1 7 1 30 1-83 1-33 1 4 1-26 1 19 1-40 1 42 1 6 1 39 1 52 1-72 1 6 1-25 1-8 1 77 1 4 1 47 1 34 1-70 1-38 1-38 1 5 1 78 1 30 1-121 1 29 1 11 1 14 1 108 1-42 1-38 1 90 1-84 1 68 1-68 1 31 1-19 1 20 1 65 1-27 1 39 1-28 1 57 1 47 1-53 1 70 1-79 1 38 1 91 1 40 1 21 1 50 1 24 1-46 1 107 1-23 1-18 1 59 1 5 1 13 1-43 1 46 1 7 1-25 1-41 1-8 1-63 1 40 1-11 1-11 1-10 1 18 1 23 1-24 1-45 1 26 1 83 1-103 1 120 1-10 1-126 1 12 1 113 1-67 1 34 1-25 1 15 1-53 1 85 1-59 1-6 1 26 1 50 1-110 1-34 1-23 1 40 1 18 1-16 1 25 1 83 1 3 1-46 1-71 1-9 1 46 1 17 1-25 1 7 1 0 1-42 1 85 1-54 1 85 1-29 1-75 1 103 1-77 1 26 1-25 1-32 1 57 1 4 1-87 1 47 1-31 1-7 1-27 1 88 1-37 1 13 1 14 1-27 1-21 1 50 1-11 1-65 1 24 1-31 1-15 1 30 1-10 1 23 1-76 1 3 1-72 1 19 1 125 1 18 1-27 1 6 1-77 1 117 1-19 1 38 1-46 1 25 1-3 1-11 1-41 1-42 1 33 1-52 1-26 1-20 1-40 1 28 1-39 1 52 1 15 1-29 1-21 1 129 1-73 1 36 1-25 1-7 1 38 1 30 1-122 1-7 1 83 1 81 1 84 1 1 1 16 1-88 1 71 1 4 1-2 1 96 1 103 1-45 1 26 1-9 1 7 1-51 1 3 1-10 1-65 1 166 1-17 1-69 1 98 1-78 1 51 1 45 1-43 1-32 1 39 1 24 1 37 1 49 1-134 1 38 1-13 1 54 1-46 1 69 1 52 1-69 1 1 1 63 1-10 1 42 1-17 1 122 1-93 1 35 1-22 1 0 1-160 1 35 1-89 1 12 1-45 1 6 1-24 1-47 1 19 1-8 1-51 1 59 1-60 1-11 1-11 1 42 1-55 1-59 1 38 1 10 1-39 1-98 1 3 1-14 1-25 1-42 1 114 1 4 1-34 1-13 1-9 1-10 1 49 1 28 1-68 1 21 1-23 1-54 1-81 1 99 1-54 1-44 1-58 1 47 1-19 1 9 1-23 1 8 1-22 1 97 1-41 1 0 1-47 1-35 1-49 1-26 1-37 1-9 1 28 1 45 1-29 1 32 1-77 1 139 1-23 1-80 1 60 1 17 1-6 1 100 1-156 1 81 1 3 1-52 1 141 1-3 1-53 1 8 1-81 1 43 1 70 1 13 1 45 1-42 1-64 1-19 1 42 1-42 1 112 1-48 1-22 1-64 1 87 1-33 1 61 1 17 1-58 1-16 1-65 1 90 1-51 1-35 1 71 1-23 1-90 1 58 1-32 1 26 1 43 1-70 1 30 1-22 1 78 1-49 1 34 1 59 1-46 1 5 1 92 1-88 1-26 1-15 1-67 1 28 1-15 1 1 1-5 1-4 1-20 1 25 1-10 1 28 1-72 1 57 1-88 1 52 1-76 1 58 1-74 1 25 1 3 1-31 1-46 1 28 1 44 1-53 1-13 1 97 1 71 1-13 1 6 1 16 1 19 1 90 1 32 1-194 1 154 1 97 1-125 1 28 1 32 1 49 1-44 1 47 1 108 1-62 1-9 1-83 1 63 1-95 1 17 1-27 1-3 1 64 1-20 1-31 1 14 1-73 1 35 1-25 1 50 1 81 1-50 1-10 1 58 1-74 1 89 1-50 1-92 1 98 1-6 1-67 1 60 1-31 1 45 1-6 1-36 1 108 1 58 1-56 1 8 1 63 1-70 1-15 1 99 1-10 1 49 1 66 1-133 1 109 1-8 1 51 1-15 1-24 1 73 1-30 1 63 1 29 1 29 1 49 1 28 1-31 1-35 1 20 1-54 1-24 1 53 1 9 1-70 1 1 1-30 1-6 1 3 1 38 1 82 1-31 1 1 1 109 1-133 1 52 1-38 1-38 1-8 1 90 1 89 1-46 1 13 1-12 1 79 1 20 1-11 1-78 1 13 1 8 1 23 1 50 1-39 1 53 1 0 1-43 1 11 1 70 1-46 1 32 1 4 1-2 1-39 1 17 1 27 1-36 1-15 1-13 1 35 1-3 1-66 1 16 1-39 1 25 1 45 1-19 1 46 1-38 1-23 1-17 1-88 1 84 1-36 1 6 1 45 1-69 1-20 1 6 1 43 1-1 1-31 1-49 1 0 1 57 1 0 1-38 1 44 1-72 1-1 1-65 1 88 1 43 1-101 1-48 1 18 1 3 1-15 1-53 1 54 1 10 1-97 1 14 1 28 1 35 1-54 1-13 1-42 1 2 1 28 1-93 1 170 1-53 1-98 1 71 1-67 1-84 1 166 1-31 1-2 1-24 1-14 1-16 1-31 1-15 1 50 1-84 1-64 1 15 1-28 1 158 1-60 1 12 1 25 1-56 1 6 1-1 1-1 1 25 1-5 1-30 1-33 1 47 1 45 1-143 1 55 1-58 1 53 1 0 1 13 1 29 1 49 1-51 1 51 1 4 1 103 1 26 1-8 1 22 1 71 1-100 1 81 1 77 1-39 1 4 1 7 1 58 1 26 1-103 1 18 1-81 1-6 1-32 1 43 1 59 1-43 1 6 1 6 1-21 1-43 1 14 1 33 1 12 1-85 1 22 1 52 1-90 1-88 1 105 1-92 1 81 1-28 1-68 1 15 1-31 1 8 1-53 1-3 1 14 1-46 1 51 1 51 1-134 1 56 1-2 1 6 1-64 1 49 1-32 1 54 1 29 1-45 1 36 1 1 1 13 1-28 1-6 1-37 1 80 1-28 1-71 1 30 1 88 1-70 1-48 1 69 1 2 1 11 1 23 1-44 1 51 1-87 1 27 1-61 1 41 1 92 1-114 1-11 1 43 1-20 1-52 1 39 1 82 1 9 1 8 1 37 1-166 1 39 1-9 1 8 1-72 1-55 1 81 1-9 1 13 1-69 1 36 1 65 1-30 1 83 1-73 1-46 1 54 1 19 1-31 1 36 1-50 1-36 1 59 1 27 1-105 1 131 1-66 1 76 1-117 1 3 1 31 1 8 1 50 1-170 1 143 1-136 1-5 1 0 1-59 1 37 1-26 1 54 1 2 1 3 1 54 1 38 1-82 1 53 1-90 1-11 1-30 1-11 1 19 1-26 1 1 1-59 1 7 1-24 1-52 1-1 1 27 1 94 1-79 1 44 1 21 1-39 1-32 1 67 1-118 1-37 1-39 1 0 1 0 1 28 1-28 1 0 1 0 1 0 1 0 1 49 1-49 1 0 1 0 1 0 1 20 1 57 1-3 1-14 1 83 1-27 1 104 1-64 1 42 1-70 1 33 1 38 1-41 1 5 1 14 1 9 1 30 1 22 1 53 1-25 1 26 1 9 1-17 1 28 1 8 1-20 1-59 1 84 1-59 1-13 1 38 1-13 1-59 1-93 1 22 1-15 1 3 1 41 1 1 1 13 1 97 1-99 1 121 1-113 1 65 1 61 1 26 1-16 1 9 1-103 1 77 1-95 1 86 1-104 1 89 1-48 1-45 1 117 1-18 1-36 1-40 1 42 1 15 1 92 1-83 1 4 1-26 1-28 1 4 1 5 1-39 1-7 1 67 1-9 1 67 1 1 1-27 1-52 1 4 1 24 1 37 1-9 1-104 1-1 1 46 1-39 1-10 1-68 1 37 1-58 1-2 1 43 1-63 1 92 1 112 1-114 1 94 1 122 1 74 1-59 1 18 1 21 1 78 1-117 1 20 1-54 1 52 1 0 1-38 1-9 1-51 1-65 1 90 1 3 1-122 1 71 1 43 1-81 1 9 1 10 1-136 1-5 1 44 1-82 1 113 1 49 1 21 1-49 1 104 1-19 1 43 1 17 1-43 1 43 1-73 1 31 1-63 1-58 1-33 1 41 1-145 1 24 1-14 1-94 1 39 1-25 1 67 1 10 1 7 1 6 1-26 1-7 1-71 1 27 1-8 1-15 1-4 1 106 1-27 1 12 1 65 1-126 1-19 1 112 1 82 1-76 1-22 1 62 1-93 1 13 1-2 1-58 1 45 1 61 1 50 1-51 1 34 1 45 1-12 1-64 1 95 1-99 1 4 1-36 1-15 1 38 1-124 1 26 1 13 1 21 1-53 1 6 1-13 1 45 1 11 1 23 1 17 1-28 1 59 1 61 1-42 1-50 1 5 1 36 1 48 1-46 1-32 1-21 1 52 1-3 1-5 1-23 1-36 1 11 1-69 1 15 1 89 1-70 1 37 1 82 1-108 1 39 1 27 1-25 1-1 1 112 1 53 1-61 1 48 1-21 1-81 1 91 1-53 1-12 1 96 1 0 1 74 1-8 1-30 1 52 1-13 1-30 1-31 1 90 1-67 1-10 1 23 1 91 1-37 1-31 1 61 1-98 1 90 1-168 1 88 1-22 1 65 1-16 1-10 1-82 1 63 1 33 1-59 1 24 1 69 1-40 1-35 1 37 1-23 1-7 1-44 1-27 1 62 1-130 1 110 1-10 1-11 1 52 1-12 1-60 1-16 1 34 1-23 1 1 1-16 1 157 1-75 1-11 1 4 1-8 1 109 1-21 1 52 1-101 1 20 1-101 1 180 1-36 1 18 1-75 1 91 1-84 1 62 1 18 1-47 1 116 1-123 1-27 1-8 1 81 1-59 1-52 1 43 1 68 1-76 1 53 1-86 1 8 1 57 1-52 1 70 1-13 1-17 1-92 1-52 1 30 1-40 1 83 1 8 1 12 1-66 1 5 1 88 1-34 1 30 1-54 1 17 1 21 1-77 1 84 1-21 1 57 1-57 1 7 1 42 1 68 1 3 1 18 1 98 1-35 1-44 1 68 1-40 1-26 1 65 1-71 1-83 1 19 1-31 1-92 1 12 1 19 1-116 1 58 1-94 1 106 1-48 1 84 1-82 1 89 1 26 1 19 1 13 1-16 1-22 1-19 1 12 1-19 1-24 1 9 1 20 1-38 1-99 1 45 1-96 1 52 1 12 1 77 1-25 1-83 1 18 1-9 1-47 1-45 1-6 1 76 1 48 1 36 1-59 1-89 1 88 1-11 1-10 1-60 1 40 1-17 1 55 1-126 1 72 1-8 1-55 1 2 1 40 1 85 1-111 1 43 1-37 1 32 1 52 1 4 1 4 1 25 1 19 1-108 1 56 1 86 1 6 1-31 1-28 1 9 1-21 1-37 1 20 1-36 1 86 1-75 1-44 1 24 1 87 1 1 1-12 1 41 1-81 1 62 1 3 1 42 1 18 1 56 1 5 1 38 1-47 1 85 1-54 1-11 1-3 1 28 1 18 1 29 1-39 1-19 1-38 1-7 1-69 1 86 1-2 1-44 1 157 1-54 1-94 1 52 1-66 1-29 1 47 1-47 1 10 1 1 1 25 1-35 1-15 1-24 1 130 1-64 1-11 1 42 1-26 1-11 1 40 1-87 1 25 1 15 1 17 1-24 1 15 1-37 1 78 1 85 1-49 1-35 1-67 1-4 1 113 1 1 1-37 1-13 1 48 1 4 1 35 1-67 1-165 1 178 1-58 1-43 1-52 1 81 1 3 1 15 1 114 1-137 1 87 1 66 1-30 1 41 1 25 1-35 1 63 1-11 1 68 1-71 1 56 1 31 1 70 1-81 1 29 1 139 1-54 1-14 1 21 1 74 1 43 1 62 1-83 1-8 1 78 1 0 1-15 1-51 1 52 1 33 1-26 1 27 1-114 1 66 1 80 1-69 1 34 1 80 1 47 1 66 1-47 1-106 1 56 1 48 1-50 1 37 1-10 1-24 1-72 1 46 1-62 1 75 1-28 1-41 1-87 1 50 1-65 1 36 1 9 1 9 1-22 1 100 1-106 1-86 1 77 1 2 1-49 1 8 1 51 1-5 1-2 1-60 1 64 1-66 1-41 1 35 1 15 1-7 1 19 1-55 1 36 1-66 1-15 1 22 1-75 1 77 1-27 1 40 1 70 1 45 1-98 1 39 1 70 1-51 1 40 1-2 1 23 1-51 1-43 1 21 1 19 1 28 1-63 1-21 1 31 1 41 1 67 1-56 1 57 1-5 1-4 1-47 1 21 1 93 1-110 1 9 1 77 1-56 1-19 1 4 1 38 1-91 1 26 1-98 1 16 1 31 1-65 1 122 1-72 1 15 1-12 1-78 1-38 1 113 1-43 1 24 1 9 1-51 1-54 1 30 1 10 1-37 1-21 1-8 1 5 1-10 1 10 1 55 1-76 1 28 1-23 1 1 1-37 1 82 1 79 1-40 1-21 1 8 1-40 1-11 1 33 1 28 1-26 1 13 1-1 1-45 1 40 1 19 1 45 1-38 1 1 1-128 1 128 1 25 1-114 1-49 1 0 1 95 1-28 1 30 1 20 1-25 1-11 1 74 1 54 1 12 1 25 1 19 1 33 1 22 1-50 1 19 1 63 1 44 1-153 1-15 1 71 1 24 1 9 1-28 1-25 1 26 1-58 1 123 1-27 1-20 1-52 1-38 1 129 1-121 1-14 1 27 1-54 1 25 1-30 1 51 1-33 1-85 1 101 1-13 1-47 1 57 1-64 1-48 1 37 1-49 1 102 1-77 1 25 1-8 1-39 1 22 1 56 1 9 1-29 1 96 1-50 1 1 1 61 1-15 1 100 1-10 1 23 1-37 1-16 1-27 1 3 1 69 1-108 1 64 1 32 1 30 1-17 1-88 1 20 1-14 1 21 1 53 1-7 1-39 1 42 1 97 1-27 1 6 1-94 1 97 1 83 1-91 1-24 1 15 1-81 1 37 1 6 1 28 1-68 1 20 1 43 1 67 1 50 1-120 1-6 1 9 1-14 1 85 1-64 1 25 1-21 1-47 1-34 1 29 1 61 1-120 1 0 1 14 1 19 1-78 1 49 1-27 1-96 1 43 1-29 1-35 1-16 1 23 1-17 1 67 1-20 1-87 1-10 1 24 1 6 1-63 1-65 1 23 1-104 1 122 1-52 1 46 1-20 1 88 1-174 1 35 1-45 1-14 1-28 1 55 1-41 1 28 1 0 1-19 1 89 1 57 1-22 1 82 1-73 1 99 1-74 1 102 1-61 1 128 1-185 1-54 1 108 1-80 1-30 1 62 1-53 1 43 1 149 1-8 1-33 1 49 1-85 1 94 1 17 1-63 1 45 1-9 1-54 1-46 1 122 1-124 1 93 1-5 1 16 1 37 1 43 1 31 1-64 1 83 1-29 1 30 1-20 1 11 1-2 1 23 1-61 1 32 1 33 1 19 1 9 1 85 1-71 1 68 1-87 1 12 1 15 1-72 1 83 1 37 1-60"/>
<path class="c" transform="scale(.5)" stroke="#00ffff" stroke-width="5.6" d="M529 4637l1-2 1 7 1-12 1-8 1 10 1-13 1 13 1-15 1-9 1-13 1-40 1-47 1 5 1-18 1 37 1 31 1-4 1-5 1 20 1 25 1-24 1-44 1-88 1 62 1-31 1 58 1-41 1-57 1 140 1-50 1-76 1 57 1-33 1 14 1-37 1 23 1 97 1-41 1-55 1 21 1-55 1-11 1 46 1-39 1-24 1 56 1-94 1 83 1 14 1-65 1-83 1 92 1-39 1 21 1-81 1 18 1 0 1-23 1-3 1 61 1 28 1-58 1 13 1 53 1-88 1-42 1 23 1 18 1 4 1-2 1-8 1-53 1-12 1 41 1-7 1-94 1 84 1-37 1-2 1-47 1-23 1 32 1-44 1 1 1-47 1-41 1 111 1-49 1 3 1 34 1 37 1 32 1-39 1-80 1 44 1-57 1 49 1 51 1-88 1-20 1-19 1-22 1-44 1-3 1 80 1-81 1 43 1-44 1-30 1 96 1 5 1-34 1 70 1-25 1-5 1-72 1-6 1 79 1-10 1 3 1 4 1-58 1-13 1-42 1 62 1 2 1 29 1-91 1 25 1 23 1 8 1 42 1-67 1 35 1-38 1 66 1-129 1 22 1-57 1 81 1-22 1 8 1-37 1 18 1-66 1-83 1 55 1-60 1 29 1-66 1-12 1 2 1-21 1-3 1 18 1-75 1 76 1-86 1 21 1-33 1-8 1-40 1 131 1-37 1-10 1 50 1-135 1 68 1 56 1-24 1-51 1 13 1 62 1-74 1 106 1-104 1 7 1-80 1 42 1 22 1-76 1 46 1 28 1 99 1-8 1-8 1 12 1 86 1-54 1 12 1 64 1-78 1-1 1 23 1 41 1-5 1 42 1 19 1 42 1-17 1-12 1-3 1-30 1 57 1-46 1 95 1-138 1-22 1 18 1 52 1 31 1 28 1-32 1-108 1 40 1 24 1-63 1-30 1 52 1-76 1-47 1 49 1-36 1 33 1 12 1-66 1 48 1-70 1 72 1-83 1-42 1 89 1-16 1-72 1 48 1 4 1-15 1-3 1-130 1 104 1-66 1 5 1-55 1 26 1 63 1 22 1-38 1-75 1-65 1 66 1-28 1-97 1 23 1-24 1 0 1 9 1 40 1-78 1 60 1-58 1-19 1 42 1 1 1-2 1 25 1-4 1-48 1 83 1-97 1 95 1-16 1 3 1-6 1-9 1-50 1-2 1 70 1-63 1 57 1-126 1 36 1 41 1 44 1-24 1 8 1 86 1-52 1-92 1 45 1-51 1-12 1 28 1 38 1 31 1 42 1-68 1-29 1 55 1-22 1 25 1-38 1-6 1 16 1-26 1-52 1 74 1-17 1 11 1 0 1-134 1 13 1 79 1-28 1-57 1 40 1 83 1-50 1-15 1 83 1 43 1 46 1-27 1 89 1-34 1 29 1-25 1 42 1 68 1-54 1-6 1 53 1 69 1-49 1-22 1-42 1 127 1-58 1-8 1 71 1-34 1 29 1-62 1 38 1 18 1-44 1-28 1 62 1 62 1-145 1 74 1-13 1-90 1-6 1 17 1 72 1-30 1-52 1-15 1 58 1-102 1 69 1-53 1 27 1-94 1-27 1-105 1 39 1 4 1 1 1 121 1-87 1 35 1 10 1-4 1-33 1 20 1-1 1 5 1-30 1 24 1-68 1-8 1 64 1 23 1 2 1-40 1-15 1-29 1 5 1-43 1 42 1 12 1-55 1 20 1-15 1 53 1 20 1 47 1-26 1 78 1-22 1 132 1-38 1-57 1 38 1-22 1 35 1 24 1 45 1-21 1 36 1 4 1 39 1-76 1 31 1 42 1-16 1-61 1-48 1 52 1 24 1-44 1-43 1-1 1 6 1 30 1-30 1 4 1 28 1-136 1-42 1 118 1-171 1 91 1-4 1-17 1-63 1 51 1 25 1 25 1-11 1-125 1 31 1-14 1-54 1 7 1-24 1-58 1 57 1-55 1 76 1-77 1 30 1 27 1 40 1-85 1-21 1 139 1-63 1 42 1-29 1-22 1 23 1-19 1-34 1 37 1-23 1 11 1 12 1-36 1-10 1-22 1 18 1-27 1-51 1 15 1-67 1 60 1 43 1-54 1 34 1-1 1 53 1 26 1 8 1 66 1-48 1 7 1-17 1-14 1 160 1-97 1 75 1-17 1 48 1 65 1-21 1 54 1 29 1-45 1 5 1-10 1 1 1-13 1 86 1-40 1-62 1 47 1 66 1-59 1 28 1 85 1-45 1-98 1 58 1 12 1 4 1-52 1 70 1-34 1-27 1-14 1 31 1 38 1-49 1 83 1-71 1 81 1-57 1 4 1 29 1-13 1-73 1 23 1 10 1-52 1 85 1-104 1-9 1 29 1 8 1 28 1-92 1-21 1 53 1-24 1-20 1 30 1 2 1 23 1 18 1-14 1 58 1-35 1-63 1 34 1-5 1-2 1 10 1-59 1-34 1-17 1 30 1 12 1-32 1-68 1 40 1-24 1-18 1 19 1 8 1-11 1-69 1-49 1 29 1-124 1 48 1-31 1 16 1 56 1-8 1-68 1-108 1 19 1-11 1-2 1 21 1 63 1 8 1-36 1 19 1 36 1-129 1 87 1 93 1-33 1-51 1 15 1-27 1 6 1 56 1-69 1 4 1 37 1 78 1 9 1 26 1-64 1 63 1 40 1 55 1-35 1 21 1-83 1 37 1 96 1-70 1-37 1 46 1-56 1 9 1-2 1-9 1 55 1-51 1 81 1-61 1 9 1-32 1 38 1 65 1-31 1-31 1 14 1 116 1-15 1-34 1 52 1-52 1-1 1-11 1 58 1 1 1-22 1-69 1-1 1-1 1-65 1 83 1-57 1 134 1-30 1 40 1-4 1-27 1 118 1 0 1 72 1 13 1-115 1 116 1-10 1-77 1-5 1 21 1 74 1-7 1 38 1 62 1-18 1-44 1-24 1 37 1-69 1 50 1-26 1-32 1-93 1-90 1 78 1 11 1-20 1 12 1-53 1 13 1-110 1-28 1 69 1 41 1-44 1-25 1 16 1-78 1 47 1-57 1 56 1-32 1 73 1 4 1-57 1 112 1-49 1-10 1 65 1-11 1 31 1-44 1-1 1 20 1-5 1-86 1 61 1 45 1 25 1-22 1 32 1-66 1 69 1-64 1-21 1 76 1-39 1-16 1 36 1-55 1 21 1 87 1 50 1-121 1-79 1 129 1-135 1-101 1 109 1-87 1-2 1 13 1-45 1 30 1-51 1 72 1-155 1-19 1-67 1 66 1-35 1 40 1-40 1-5 1 29 1 32 1 25 1 18 1-19 1 33 1 54 1 30 1-7 1 26 1 42 1-50 1 7 1 64 1 16 1 49 1-2 1-14 1-47 1 25 1 56 1-134 1 19 1 66 1-20 1 7 1 16 1 49 1-22 1 30 1 8 1-4 1 67 1-76 1 55 1 28 1-51 1 54 1-25 1 0 1 44 1-74 1-13 1 62 1 105 1-17 1 18 1-51 1 117 1-3 1-31 1-7 1-41 1 76 1-113 1 103 1-78 1 93 1-50 1 45 1-39 1 52 1-37 1-61 1-67 1 75 1 5 1 51 1-113 1-36 1 108 1-73 1 72 1-9 1 5 1-34 1 45 1-65 1-18 1 103 1-77 1-55 1 126 1-96 1 42 1-34 1 5 1 11 1-4 1 60 1-50 1 87 1-163 1-48 1 77 1-20 1 88 1-29 1 38 1 61 1-40 1 15 1 2 1-110 1 2 1-49 1 115 1 91 1 26 1 39 1-9 1-77 1 15 1 39 1 10 1 68 1 1 1-72 1-9 1 20 1 11 1-2 1-6 1 64 1 2 1 23 1-22 1 51 1-56 1-4 1 39 1-65 1 40 1-6 1 30 1-25 1 15 1-64 1 50 1 75 1-13 1 67 1-32 1-69 1 39 1-45 1 69 1-25 1 21 1-19 1-33 1-35 1 16 1-33 1 66 1 0 1-42 1-49 1-26 1-8 1-11 1 8 1 71 1-75 1-10 1 26 1-10 1 18 1-107 1 77 1 4 1 31 1 62 1-99 1 147 1-37 1 10 1 79 1-112 1 12 1 92 1-42 1-16 1 71 1 50 1-33 1 85 1-62 1-88 1-7 1 44 1 12 1 7 1 4 1 32 1-28 1-127 1 153 1-117 1 57 1 6 1-27 1 73 1 4 1 13 1-78 1-30 1 26 1 92 1-96 1-25 1 13 1-66 1 12 1 5 1 41 1-63 1-58 1 21 1-36 1-37 1 30 1-6 1-16 1 51 1 86 1-36 1-9 1 27 1-57 1 37 1-2 1 13 1-24 1-73 1 34 1 18 1 51 1-33 1 84 1 8 1 22 1 6 1 44 1-48 1 11 1 31 1-102 1 66 1-85 1 8 1 100 1-7 1-29 1 2 1 4 1-6 1 36 1 9 1-48 1-35 1 2 1-93 1 56 1-59 1 19 1-20 1 118 1-11 1-77 1 52 1-27 1-84 1-22 1-99 1 59 1 16 1-6 1-36 1-2 1 24 1 113 1-7 1 5 1-9 1-15 1 117 1 34 1-77 1-35 1 95 1-18 1-82 1 41 1 30 1-82 1 49 1-29 1-18 1-6 1 71 1 39 1-48 1-11 1 106 1-137 1 46 1-15 1 4 1 3 1 5 1-19 1-58 1-2 1 18 1-7 1 48 1-1 1 33 1-38 1 29 1-3 1-41 1 70 1-104 1-14 1 96 1-138 1-9 1 59 1 12 1-3 1 4 1 97 1-41 1-115 1 83 1-92 1 35 1 86 1-64 1 27 1-59 1 25 1 56 1 11 1 5 1 20 1-106 1 54 1-50 1 106 1-51 1 12 1-38 1 10 1 12 1 45 1 34 1-71 1 33 1 70 1-39 1-46 1 27 1 65 1-20 1 72 1-54 1 58 1 7 1-39 1-3 1 41 1-75 1 29 1 0 1 42 1-45 1-20 1 0 1 26 1-21 1 96 1-65 1 23 1 36 1-59 1-4 1 69 1-84 1-3 1 84 1-71 1-24 1 84 1-14 1-7 1 40 1-44 1 92 1-66 1 32 1 59 1-8 1-50 1-2 1-1 1 8 1 90 1-48 1 21 1-30 1 83 1-113 1 11 1-17 1-29 1 128 1-17 1-16 1 68 1-62 1 35 1 104 1 11 1 1 1 21 1-93 1 84 1-101 1 16 1 44 1 69 1-103 1-69 1 62 1 13 1 67 1-79 1 46 1 0 1 34 1-154 1 4 1-41 1 47 1-40 1-14 1 22 1 13 1-5 1-120 1 39 1 32 1-104 1 48 1 11 1-25 1 38 1-81 1-5 1-6 1 63 1-30 1-9 1-66 1 37 1 25 1-23 1-74 1 68 1-2 1 15 1-51 1 93 1 35 1-22 1-14 1 16 1-9 1-49 1 41 1-11 1-16 1-6 1 69 1-14 1 82 1-102 1 51 1-120 1-62 1 103 1-17 1-40 1-14 1-12 1-32 1-11 1 44 1-79 1 36 1 48 1-11 1-86 1 10 1-27 1-47 1 9 1 7 1-114 1 139 1-47 1 41 1 52 1-15 1 19 1 72 1-100 1 154 1-91 1-27 1-29 1 107 1-30 1-29 1-52 1 11 1 19 1 3 1-18 1 32 1-10 1 37 1-8 1-3 1-69 1 49 1 75 1-37 1 13 1 67 1-4 1-65 1-40 1-36 1-13 1 90 1-11 1 87 1-53 1 45 1 5 1-29 1-56 1 53 1 53 1 131 1-96 1-6 1-56 1-23 1 89 1-35 1-13 1 53 1 48 1-45 1-10 1 67 1-44 1-44 1 7 1 17 1 23 1 10 1 0 1 11 1 39 1 7 1-21 1 68 1-53 1-19 1 60 1 7 1-100 1 1 1 19 1-32 1 16 1-4 1 21 1-1 1 61 1 33 1 4 1-28 1 74 1 10 1 49 1-79 1 46 1 9 1 67 1 32 1 29 1-24 1 32 1-58 1 61 1-100 1 15 1 17 1-124 1 78 1-84 1 98 1-30 1 12 1-51 1-32 1-4 1 29 1-46 1 0 1-47 1-41 1 21 1 4 1 70 1-89 1-18 1 78 1-71 1-13 1 85 1 51 1-100 1 3 1 49 1 53 1-85 1 74 1-2 1-62 1 5 1 58 1-49 1-72 1 26 1-44 1 46 1 20 1 11 1-22 1 9 1-52 1 25 1 35 1-16 1-5 1 87 1-189 1 101 1-56 1 8 1-110 1 61 1 16 1 39 1-85 1 78 1 30 1-48 1 95 1-26 1 112 1-22 1-36 1 76 1-5 1 5 1 5 1 8 1-42 1-14 1 34 1-29 1 1 1-62 1 60 1-33 1-17 1 9 1 55 1-22 1 2 1 46 1 85 1-112 1-67 1 31 1-90 1 20 1 6 1-42 1 12 1-1 1-99 1 125 1 25 1-27 1 37 1-2 1-12 1 21 1 17 1 22 1 66 1-46 1 58 1 11 1 13 1-20 1-67 1 55 1 40 1 25 1-56 1 7 1 52 1-79 1 57 1-77 1-44 1-6 1-23 1 51 1-121 1-92 1 77 1-49 1 139 1-63 1 32 1-120 1 3 1 34 1-92 1 45 1 25 1 57 1-219 1 9 1 88 1-14 1 39 1 5 1 87 1-11 1-21 1-44 1 41 1 91 1-140 1 37 1 33 1-2 1-30 1-34 1-75 1 67 1 59 1-33 1 96 1-54 1 6 1-54 1-18 1-1 1-12 1-49 1 31 1 8 1-104 1 79 1 40 1-128 1 48 1 2 1 43 1 47 1-95 1-16 1 47 1-51 1 77 1 1 1-15 1-74 1 44 1-24 1 82 1-17 1 15 1 58 1 109 1-97 1 51 1-1 1 70 1-19 1-85 1 36 1 5 1-119 1 104 1 48 1-37 1-9 1-68 1-69 1 135 1-106 1-7 1 30 1-170 1 25 1 17 1-8 1-28 1 16 1-58 1 4 1-25 1-17 1-41 1 36 1 66 1-19 1-84 1 47 1 4 1 95 1-83 1 9 1-100 1 61 1-36 1 22 1-75 1 64 1-51 1 29 1-35 1-16 1 5 1-90 1 31 1 49 1-99 1 48 1-2 1 42 1 48 1-11 1-96 1-56 1-32 1 30 1 108 1-82 1-44 1 31 1 71 1 2 1 16 1 14 1 55 1-29 1 27 1 27 1-16 1-61 1 15 1-103 1-68 1 36 1 53 1-61 1 28 1 31 1-74 1 70 1-34 1-9 1 67 1 16 1-12 1 31 1-29 1-9 1 8 1 25 1-23 1-70 1 22 1 56 1 67 1-72 1-34 1-65 1 41 1 56 1 19 1-66 1-51 1 21 1-9 1 85 1-5 1 21 1-19 1 21 1 24 1 24 1-65 1 78 1-41 1 5 1-14 1 109 1-30 1-6 1 29 1-11 1-31 1 10 1 25 1 34 1-101 1 41 1 38 1-75 1 49 1-53 1-58 1 15 1 66 1-38 1-25 1 10 1-4 1-2 1 8 1 92 1-57 1-35 1-31 1 15 1 101 1 4 1 24 1 3 1 46 1-106 1 52 1-35 1-27 1 7 1-59 1 36 1-94 1 47 1-3 1-9 1-30 1-99 1 198 1-112 1-34 1 19 1-31 1 37 1-149 1 35 1-58 1 18 1-16 1 35 1-32 1 33 1-24 1 10 1 76 1-42 1-58 1-39 1-69 1 22 1 187 1-57 1 31 1 1 1 52 1 16 1-26 1 76 1 30 1-3 1-7 1 23 1-50 1 44 1 50 1-53 1 54 1 12 1 45 1-154 1 50 1 4 1-29 1-1 1 124 1-9 1 35 1 35 1-50 1 32 1 16 1 9 1-53 1-95 1 115 1-88 1-62 1 33 1-1 1-41 1-52 1 26 1-28 1 28 1 25 1-26 1-28 1-4 1 3 1 42 1 27 1-96 1 22 1 27 1-5 1-52 1 54 1-23 1-55 1-34 1 3 1 77 1-48 1-37 1 73 1-41 1-17 1 45 1-58 1 99 1-10 1-73 1 32 1 72 1-73 1-55 1 69 1 33 1-76 1 24 1-9 1-86 1 87 1 88 1-131 1-56 1 82 1 41 1-36 1 96 1-113 1 49 1-16 1 51 1-10 1 34 1-45 1-32 1 32 1 4 1-73 1 106 1-101 1 4 1 13 1 19 1-10 1 1 1-16 1-18 1-62 1 113 1-107 1 7 1 28 1 35 1-25 1 52 1 48 1-94 1 37 1 43 1-11 1 77 1 39 1-40 1-36 1 129 1-67 1 5 1 9 1-64 1 18 1-25 1 45 1-42 1-55 1 39 1 24 1 3 1-91 1-1 1 48 1 5 1-61 1-25 1 1 1 16 1 72 1-24 1-16 1-13 1-66 1-27 1 55 1 50 1 59 1-51 1 18 1-28 1 20 1 31 1 31 1 1 1-14 1-71 1 39 1 43 1 60 1-7 1 17 1-93 1 43 1 27 1 34 1 71 1-68 1 16 1 43 1 8 1-78 1 89 1-66 1 32 1 15 1 25 1 66 1-57 1-14 1 39 1 117 1-51 1 38 1 10 1-19 1-7 1 24 1-19 1 23 1-21 1 80 1-63 1 44 1-4 1 69 1 15 1-47 1 35 1-118 1 133 1-86 1 28 1 26 1-54 1-33 1-4 1 24 1-9 1-18 1-32 1 52 1-39 1 89 1 21 1 50 1-53 1-33 1 4 1 35 1 75 1-102 1 119 1-20 1 50 1-87 1-5 1-22 1 36 1-4 1 25 1-70 1 29 1-33 1 45 1-41 1 100 1-46 1 97 1-115 1 36 1-1 1 62 1-70 1 82 1-39 1-49 1 85 1-88 1 59 1-19 1-47 1-32 1 30 1-52 1-2 1 16 1-12 1-17 1 74 1-68 1 61 1 10 1-71 1 43 1 69 1-114 1 58 1-56 1 44 1-15 1 32 1-29 1 33 1-91 1 117 1-8 1 26 1-47 1-66 1-68 1 39 1 1 1 13 1-64 1 82 1 74 1-66 1-111 1 124 1 59 1 22 1 9 1 25 1 52 1-38 1-12 1-4 1-5 1 84 1 23 1-40 1 39 1 17 1-60 1 47 1-64 1 11 1-40 1 18 1-49 1 107 1-66 1 75 1 28 1-52 1 91 1-36 1 35 1-1 1-16 1-43 1-2 1-28 1 77 1 7 1-28 1 49 1 94 1-54 1 69 1-58 1-53 1 81 1 25 1-44 1 46 1-38 1 58 1-35 1-43 1 71 1 48 1-7 1-7 1 70 1 17 1 3 1 7 1 2 1-47 1 63 1-22 1-30 1-18 1 105 1 41 1-18 1-1 1-50 1-24 1 40 1 41 1 52 1 30 1 66 1-78 1-12 1 14 1-61 1 43 1 17 1-29 1-18 1 55 1-79 1-47 1-74 1 114 1-71 1 58 1-17 1 40 1-41 1-12 1-99 1 4 1-2 1-4 1 7 1-32 1-5 1-85 1 91 1-72 1-71 1-14 1-82 1 80 1-6 1-33 1-85 1-75 1 127 1-109 1 84 1 18 1-73 1 32 1-71 1 58 1-42 1-28 1 37 1 16 1-61 1 6 1 35 1-49 1 15 1-19 1 66 1-68 1-32 1-23 1 20 1-40 1 73 1 0 1-20 1-29 1 41 1 49 1-3 1 26 1-1 1-38 1 22 1-3 1 4 1 8 1 3 1 8 1 1 1 56 1-45 1-15 1 2 1-43 1 85 1-107 1 20 1-2 1 89 1-83 1-49 1 90 1-122 1 64 1-84 1-7 1 28 1 125 1-118 1 8 1 22 1-53 1 93 1-66 1 29 1 27 1-95 1 123 1 41 1-44 1 34 1 115 1-78 1-71 1 91 1 47 1-30 1 54 1 93 1-41 1-6 1 49 1 60 1-39 1-16 1 10 1 5 1 33 1 44 1-53 1-50 1 84 1 73 1 26 1-29 1 58 1-144 1 97 1 72 1-7 1-47 1-29 1 34 1 92 1-9 1-92 1 38 1 4 1-40 1 84 1-93 1 47 1-87 1 18 1 34 1-4 1-11 1 96 1-12 1 12 1-20 1 30 1 27 1-22 1 4 1-45 1 61 1 80 1-125 1-16 1 39 1-68 1-8 1 5 1 61 1-88 1 20 1-3 1-25 1 52 1-63 1 33 1 52 1-136 1 3 1-5 1 14 1-37 1-78 1 50 1 101 1-14 1-52 1-27 1 49 1-120 1 48 1 21 1 2 1-46 1 61 1 9 1 3 1-39 1-39 1 108 1-43 1 10 1-63 1 33 1-47 1-38 1 89 1 7 1-32 1-39 1-1 1-2 1-14 1 27 1 13 1 45 1 48 1-5 1 57 1-21 1 30 1-86 1-8 1 2 1-50 1 20 1 55 1-86 1 23 1 26 1-75 1 19 1-29 1-75 1 95 1-43 1 109 1-39 1 1 1 40 1-120 1-6 1-16 1 20 1-106 1 39 1-99 1 79 1 34 1-17 1 96 1-73 1 3 1 1 1-46 1 109 1-70 1 85 1 21 1-18 1-39 1-9 1 19 1-50 1 6 1 66 1 16 1 31 1-20 1-46 1-6 1 3 1-29 1 21 1-42 1-64 1 20 1 23 1-79 1 49 1-22 1 1 1-85 1 15 1-53 1 39 1-91 1 138 1-84 1 16 1-28 1-92 1 135 1-117 1 16 1-8 1 19 1-11 1 89 1-7 1 1 1 75 1-9 1-62 1-66 1 37 1 7 1 16 1-124 1-3 1-25 1-28 1-10 1-57 1-32 1 26 1-22 1 67 1-84 1 3 1-38 1 18 1-1 1-52 1 61 1 2 1-114 1 48 1 64 1-9 1 50 1-116 1 82 1-50 1 34 1-14 1 58 1-11 1-19 1 31 1-16 1 10 1 59 1 84 1-66 1 31 1 37 1-23 1 17 1 79 1 34 1-16 1-57 1 11 1-18 1 35 1 41 1-33 1-18 1 68 1-94 1 92 1-23 1-36 1 29 1-6 1 22 1 0 1-54 1 53 1 31 1 11 1-44 1-33 1-4 1 73 1-60 1-28 1-60 1 6 1 40 1-46 1 58 1 15 1-180 1 106 1-13 1-20 1-15 1-25 1-9 1-32 1 4 1 82 1 5 1-146 1-46 1 13 1 25 1 17 1-37 1 60 1-63 1 19 1-9 1 68 1 56 1-129 1 21 1-21 1 95 1-24 1-44 1 10 1 19 1-22 1-52 1 0 1 104 1-62 1-61 1 50 1-22 1-69 1 64 1-41 1 75 1 41 1-33 1 27 1-43 1 22 1 38 1-72 1 66 1-104 1 109 1-39 1-85 1 83 1 20 1 57 1-47 1-108 1 95 1-2 1 2 1-115 1 38 1-7 1-50 1-31 1-42 1 36 1-89 1 70 1 28 1-53 1 97 1-39 1 23 1-57 1-32 1 65 1 32 1 17 1 7 1-44 1 57 1 4 1-42 1-21 1 44 1-12 1-15 1 65 1-6 1 92 1-15 1 41 1-153 1 11 1 52 1 26 1-49 1 18 1 38 1 15 1-31 1 72 1-54 1 64 1-53 1 104 1-56 1-61 1-13 1 77 1 15 1 24 1-80 1 31 1 44 1 14 1 110 1-80 1-10 1-71 1 49 1 12 1 66 1-33 1-26 1 98 1-159 1 17 1 82 1-57 1 11 1-62 1 81 1-48 1 9 1-43 1 66 1 25 1-47 1 34 1-28 1 19 1-6 1 75 1 0 1 47 1-57 1-44 1-105 1 50 1 2 1 71 1-38 1 41 1 39 1-31 1-2 1-42 1-25 1 77 1 32 1-28 1-34 1-36 1 100 1-93 1 41 1-49 1 60 1 11 1 66 1-67 1-110 1 116 1-42 1 14 1-21 1 36 1-84 1 15 1 56 1 45 1-58 1-18 1 76 1-57 1 8 1-40 1-12 1-6 1 44 1-82 1 68 1-74 1-7 1 81 1-39 1 63 1-35 1-23 1 111 1 4 1-43 1 42 1 73 1-19 1 24 1 16 1-47 1 66 1-136 1 26 1-7 1-48 1 138 1-20 1-82 1 57 1 74 1-13 1-50 1 36 1-39 1 61 1-42 1-5 1 77 1-140 1 155 1-41 1 15 1-42 1-71 1 39 1-52 1 21 1-59 1 24 1 6 1-28 1 26 1-3 1-25 1 27 1 57"/>
<path class="c" transform="scale(.5)" stroke="#0000ff" stroke-width="5.6" d="M529 4637l1 2 1 3 1 18 1 13 1-1 1 34 1-19 1 31 1 14 1-21 1 15 1-7 1 42 1-14 1 87 1 9 1-38 1-68 1 13 1 73 1-38 1-51 1-51 1 93 1-77 1-75 1 167 1-53 1-6 1-26 1-1 1-26 1 50 1-93 1 42 1-52 1 67 1 12 1-79 1 64 1 68 1-25 1-35 1-81 1 112 1-8 1-53 1 109 1-71 1-80 1 51 1 37 1 19 1-37 1-4 1-12 1 42 1 21 1 35 1-9 1-2 1-24 1 32 1 44 1-84 1-67 1 39 1-41 1 57 1-37 1-27 1 33 1 5 1-63 1 18 1-10 1 21 1-15 1-38 1 39 1 47 1-81 1 48 1-17 1-26 1 74 1-59 1-2 1 55 1-19 1-45 1 23 1-65 1 99 1-53 1-119 1 43 1-8 1-58 1 64 1-14 1-11 1 31 1-38 1 13 1 5 1-24 1 37 1 38 1-8 1 44 1 85 1-1 1-15 1-5 1 91 1 9 1-13 1 11 1 38 1 16 1 9 1-77 1 32 1-46 1-28 1 53 1-31 1-13 1 10 1 64 1-46 1 40 1 18 1-32 1-67 1-3 1 67 1-62 1-31 1 25 1-3 1-13 1-55 1 49 1-23 1-97 1 16 1-18 1-2 1 56 1 74 1-77 1-38 1 2 1-79 1 36 1-99 1 6 1 51 1 2 1-53 1 56 1-45 1-7 1 38 1-32 1-68 1 43 1-50 1-52 1 94 1-17 1 1 1 21 1-57 1 38 1 23 1-28 1-10 1 48 1-21 1 23 1-14 1 63 1 8 1-111 1 124 1-81 1-9 1-1 1 41 1-108 1 17 1-20 1 149 1-164 1-12 1 61 1-42 1 30 1 82 1 4 1-51 1 88 1 68 1-44 1-107 1 153 1-130 1 78 1 34 1-43 1 72 1 17 1-36 1 44 1-6 1-57 1-82 1 19 1 18 1-85 1-64 1 31 1 95 1-11 1 8 1-17 1 37 1-69 1 11 1 42 1 6 1-131 1 120 1 63 1-75 1 16 1-52 1 77 1 52 1-9 1 21 1-124 1 98 1-47 1 111 1-70 1 79 1-66 1-88 1 18 1 32 1-28 1 47 1-97 1 30 1 29 1 38 1 26 1-9 1-23 1-168 1 164 1-156 1-23 1 62 1 58 1 16 1-59 1-109 1 152 1-80 1 8 1 40 1-40 1 57 1-60 1 1 1-8 1 10 1-30 1-50 1 88 1-66 1 14 1-42 1 124 1-60 1-63 1 75 1-103 1 42 1-46 1-21 1 2 1 7 1-39 1 6 1 12 1-8 1 23 1 74 1-127 1-37 1 44 1-59 1 88 1-119 1-28 1 75 1 29 1-7 1-37 1 29 1-61 1-44 1-20 1 83 1-14 1 1 1-45 1-53 1-18 1 77 1-32 1-13 1 65 1-106 1 77 1-63 1-56 1 87 1-17 1-64 1 24 1-55 1 64 1-57 1-26 1-19 1 22 1-73 1-8 1-50 1 55 1-5 1-11 1-70 1-3 1-3 1 24 1-52 1-11 1-56 1 36 1-35 1-82 1-1 1 88 1-99 1 44 1 98 1 7 1 82 1-79 1 3 1-12 1 50 1-55 1 13 1 34 1-109 1 11 1 44 1-93 1 73 1 40 1-21 1 63 1-6 1-46 1 17 1 9 1 64 1-21 1 16 1-62 1 5 1 34 1 28 1 28 1-137 1 117 1 14 1-91 1 86 1 11 1 1 1 20 1 12 1 72 1-44 1-40 1 143 1-94 1 71 1 17 1-17 1 17 1-19 1 60 1 14 1 20 1 1 1 30 1-3 1 5 1-28 1 5 1 48 1-16 1-59 1-2 1 41 1 6 1-64 1 57 1 27 1-36 1 41 1-80 1 31 1 90 1-25 1-17 1-65 1-9 1 13 1-112 1 26 1 29 1-32 1-38 1-14 1 18 1-29 1-30 1-1 1-45 1-84 1 60 1 32 1 25 1-96 1-32 1 21 1-29 1 11 1 15 1 2 1 58 1 11 1 30 1-14 1-59 1 29 1-38 1 25 1 21 1 65 1-52 1 38 1 80 1-85 1 64 1 31 1-38 1 48 1 57 1-68 1 20 1-27 1 92 1-80 1 30 1-91 1 26 1 18 1-37 1-12 1 37 1-20 1-43 1 25 1 5 1 21 1-65 1 49 1-32 1 85 1-106 1 1 1 48 1-74 1 22 1-53 1 15 1 29 1-28 1 48 1-35 1-16 1-18 1 36 1-36 1 26 1-9 1-63 1 22 1 109 1-75 1 85 1-83 1-50 1 18 1-22 1 53 1-59 1-35 1 57 1-40 1 63 1 2 1 4 1-130 1 74 1 98 1-162 1 36 1 52 1-107 1-54 1 12 1 12 1 20 1-59 1-64 1-12 1 76 1-80 1 19 1 11 1 15 1-10 1-62 1-56 1 10 1 55 1-5 1-22 1 3 1-28 1 44 1-24 1-3 1 43 1-11 1-16 1-72 1-32 1 150 1 9 1-19 1 39 1 5 1 33 1-69 1-3 1-16 1-34 1 53 1 56 1 20 1-22 1-8 1 3 1-78 1 36 1-119 1-19 1 40 1 80 1-44 1 25 1-13 1-36 1 45 1-43 1-13 1-7 1 13 1 36 1 7 1-77 1 7 1 15 1 21 1 5 1 14 1-12 1-2 1-12 1-30 1 62 1-97 1 58 1 29 1-57 1 126 1-103 1 74 1 63 1 8 1-66 1 5 1-39 1 61 1-31 1 35 1-24 1-146 1 33 1 50 1 15 1-2 1-52 1-40 1 40 1-1 1-19 1 55 1-12 1-56 1-19 1 26 1-15 1 56 1 3 1 24 1 11 1 16 1-9 1-83 1 89 1-90 1 23 1-67 1 3 1 28 1-61 1-78 1 19 1-39 1-69 1-60 1 21 1 22 1 71 1 6 1 4 1-27 1-19 1 34 1 48 1 48 1 26 1 30 1-9 1 16 1-9 1 19 1 75 1 12 1-69 1 0 1 74 1-39 1 29 1 51 1 88 1 1 1-79 1-57 1 90 1 85 1-82 1 15 1 46 1-27 1 69 1 152 1-147 1 22 1-23 1 16 1-23 1 22 1 0 1 21 1 32 1-31 1 52 1 71 1 31 1 122 1 24 1 58 1-23 1-14 1-54 1 57 1 80 1-111 1 35 1-10 1 78 1-17 1 27 1 19 1-38 1-14 1 142 1-40 1 1 1 10 1-11 1 26 1 81 1-40 1-52 1 27 1 31 1-40 1-33 1-7 1 36 1 60 1-6 1-42 1-142 1 29 1-4 1 51 1-28 1-22 1 111 1 17 1 24 1-9 1 17 1 7 1 39 1-56 1-31 1 51 1 74 1-30 1 9 1 14 1 25 1-71 1 39 1-29 1 7 1 66 1 50 1-80 1-30 1 91 1-23 1-54 1 30 1 61 1-114 1 40 1-9 1 25 1-139 1 121 1-23 1-74 1 57 1-14 1-14 1 37 1-120 1 73 1-35 1 116 1-11 1 26 1 15 1-57 1 33 1 45 1-33 1 54 1-47 1 10 1-29 1 50 1 7 1 4 1 3 1 70 1-111 1 154 1-109 1 28 1-52 1-19 1-103 1 175 1 25 1-50 1 25 1-24 1-20 1-1 1 101 1-101 1-69 1 7 1 4 1-25 1-18 1 6 1-12 1 14 1 40 1-15 1-21 1 86 1-52 1-52 1 11 1 31 1 4 1 12 1 117 1-38 1-13 1 31 1-42 1-54 1 4 1 22 1-60 1 96 1-151 1 160 1-29 1-152 1 92 1-95 1 23 1 87 1 11 1-91 1 35 1 69 1 12 1-16 1-94 1 21 1-23 1 87 1-73 1 86 1 27 1-99 1 67 1-3 1 43 1 33 1-110 1 48 1 14 1 24 1-14 1 54 1-66 1 5 1 4 1-5 1-24 1 66 1-1 1-97 1 36 1 15 1-112 1-3 1-78 1 89 1-64 1-26 1 71 1 34 1-44 1-16 1 23 1 15 1 46 1 11 1 61 1-104 1 60 1-59 1 36 1-38 1 101 1 14 1 54 1-5 1-10 1 66 1-13 1-24 1-5 1-65 1 18 1-89 1 51 1-37 1 9 1 71 1-31 1-79 1-36 1 67 1-15 1 19 1-16 1-122 1 116 1-1 1 18 1-19 1 31 1 23 1-38 1 3 1-83 1 24 1-28 1 84 1-104 1 85 1-29 1-91 1 136 1-59 1-79 1 83 1 7 1 42 1-23 1 42 1 28 1 19 1 35 1-23 1 65 1-47 1 10 1-77 1 43 1-48 1-22 1 81 1-47 1-10 1 22 1 68 1 1 1 53 1 74 1 14 1-71 1 10 1 15 1 0 1 24 1-50 1-20 1 55 1 57 1-53 1-1 1-48 1 17 1 35 1-54 1 17 1 40 1-102 1-62 1 49 1-65 1 27 1 36 1-34 1 87 1-48 1 20 1-101 1 45 1 31 1-20 1-22 1 46 1 58 1-86 1 25 1 77 1-30 1-14 1-29 1 10 1 48 1-58 1 39 1 63 1-69 1 47 1 69 1-59 1-15 1 4 1-52 1 93 1 9 1 36 1-17 1-17 1 15 1 13 1 31 1-14 1-56 1 18 1 52 1-41 1 13 1-33 1-104 1 97 1-28 1-6 1-24 1-59 1 53 1-34 1 109 1-84 1 83 1-29 1 124 1 29 1-74 1-3 1 10 1-46 1 151 1-71 1 25 1-30 1 25 1 114 1-54 1-26 1-93 1-30 1 61 1 1 1 31 1-104 1-69 1 110 1-70 1 23 1-33 1-50 1-130 1 3 1-44 1-31 1-58 1-22 1-65 1 4 1-61 1 58 1 69 1-84 1-35 1-145 1 33 1 66 1-1 1-33 1 92 1-86 1 101 1-77 1 81 1 9 1 6 1-10 1-19 1-23 1-112 1 133 1 34 1-58 1-1 1 28 1 65 1-40 1 71 1 136 1-36 1 77 1-27 1-86 1 110 1-7 1-38 1 23 1 28 1-47 1-111 1 73 1-51 1 19 1-42 1 61 1 36 1 8 1 22 1-84 1-8 1 34 1-43 1-40 1 13 1-166 1 207 1-48 1-59 1 37 1-25 1 15 1 55 1-69 1-8 1 17 1-7 1 6 1 55 1-88 1 23 1-16 1-95 1 24 1 148 1-45 1 78 1-58 1 25 1-3 1-19 1 16 1 51 1-25 1 49 1-59 1-11 1 2 1 57 1 51 1-80 1 54 1-79 1 123 1-36 1-5 1-54 1 46 1 24 1 27 1 4 1 22 1-3 1-38 1 10 1 4 1 5 1-78 1 94 1-50 1 10 1-29 1 40 1-81 1 59 1-30 1 50 1-47 1-20 1 5 1 105 1-44 1-18 1-22 1 50 1-60 1 22 1-1 1 6 1 1 1-43 1 51 1-38 1-26 1-23 1-3 1 68 1-82 1-12 1 35 1-54 1-49 1-23 1-22 1 51 1 11 1 74 1-24 1-72 1 16 1 1 1 14 1-98 1 29 1 15 1 28 1-72 1-11 1 35 1-39 1-52 1-50 1 49 1 48 1-57 1 62 1-47 1 10 1 70 1-57 1 69 1 31 1 5 1-19 1-97 1-32 1 27 1 23 1 37 1 3 1-46 1 34 1-105 1 39 1 70 1-41 1-26 1 19 1-39 1 17 1 39 1-1 1 4 1 42 1-38 1-42 1 76 1-49 1 66 1 107 1-163 1 46 1-42 1-40 1 143 1 73 1-30 1-93 1 51 1-25 1 3 1-9 1-9 1 35 1-108 1 138 1-127 1 84 1-3 1 23 1-57 1-38 1-26 1 22 1 1 1 18 1-79 1 52 1 142 1 4 1-89 1 41 1-18 1-16 1-27 1 118 1-53 1 29 1-21 1 24 1 56 1 12 1 100 1 38 1 17 1-10 1-48 1 87 1 48 1 9 1-134 1 93 1 62 1 49 1-88 1-10 1 41 1 20 1 8 1-55 1 58 1-1 1 111 1 19 1-108 1 12 1 41 1-61 1 11 1-25 1 26 1-5 1 61 1-77 1-13 1 17 1 64 1-11 1 12 1 47 1-14 1 15 1-6 1-39 1 24 1 36 1-60 1 28 1-58 1-19 1 71 1 18 1-22 1 69 1-25 1-57 1 58 1 63 1-136 1 151 1-62 1 36 1-56 1 96 1-93 1-2 1-27 1 43 1 6 1-7 1 17 1 70 1-79 1 62 1-43 1 60 1-67 1-84 1 5 1 94 1-30 1 64 1 16 1-86 1 21 1-19 1 44 1 13 1 18 1-57 1 14 1 50 1-17 1-94 1-28 1-10 1-6 1 79 1-112 1 44 1-95 1 142 1-82 1-55 1 103 1-79 1-145 1 141 1-49 1 40 1-64 1-1 1-63 1 34 1 10 1 18 1 19 1-7 1-35 1 51 1 45 1 58 1-138 1-11 1 6 1-85 1 18 1 51 1-90 1 45 1 15 1-121 1 27 1 69 1-110 1 95 1-68 1-35 1-9 1 38 1-89 1 75 1-13 1 5 1-116 1 93 1 25 1-154 1 32 1-30 1 28 1-18 1 77 1-134 1-50 1 34 1-12 1 12 1 69 1-41 1 20 1-87 1 37 1 16 1-53 1 65 1 53 1-40 1 7 1 23 1 50 1 73 1-10 1-93 1-15 1 66 1-12 1-49 1 6 1 144 1-23 1-30 1 14 1-39 1 30 1-59 1 117 1-38 1-56 1 91 1-83 1-25 1 80 1-1 1-79 1 106 1-13 1-113 1 46 1-87 1-33 1 98 1 3 1-19 1-5 1-52 1 21 1 41 1-31 1 9 1 8 1-12 1-26 1 47 1-29 1-18 1 69 1 16 1-5 1 2 1-36 1 2 1 22 1-10 1-89 1 61 1-35 1-21 1 59 1-90 1 67 1-78 1 70 1-71 1-34 1 96 1-36 1 7 1-15 1-107 1 68 1 44 1-3 1 29 1-86 1-100 1 5 1 47 1 57 1-47 1 44 1-8 1-21 1-34 1 45 1-25 1 16 1 12 1-58 1 3 1 8 1 16 1-24 1-35 1 31 1 14 1-9 1 25 1-23 1-38 1 43 1 14 1-61 1 94 1 25 1-118 1 65 1 40 1 11 1-12 1 19 1-34 1 72 1-48 1 142 1-75 1-22 1 52 1-1 1 105 1-87 1-86 1 30 1 12 1 5 1-50 1 33 1 27 1 19 1-155 1 105 1 16 1-30 1 36 1-40 1 68 1-89 1 16 1-74 1-60 1 31 1 42 1 11 1 26 1 94 1-71 1 29 1 61 1 18 1-75 1 12 1 15 1-16 1 46 1 78 1-78 1 43 1-5 1 18 1-11 1-26 1 66 1 24 1 89 1-149 1 108 1-117 1 35 1-57 1 42 1-30 1-38 1 57 1 0 1-70 1 34 1-15 1-86 1 72 1 35 1 50 1 19 1-72 1 18 1 35 1-34 1-19 1 40 1-31 1 51 1-1 1 55 1 38 1-176 1 30 1 94 1-68 1 36 1 16 1-30 1-10 1-18 1 58 1-15 1 22 1 3 1 123 1-128 1-4 1 19 1-15 1 25 1 50 1 38 1-11 1 28 1-26 1-48 1-76 1-47 1 26 1-105 1 71 1 23 1-44 1-21 1 63 1-110 1-9 1 31 1-163 1 58 1 31 1-111 1 48 1-47 1 63 1 44 1-121 1 40 1 17 1 3 1 20 1-51 1 33 1-25 1 45 1 100 1-121 1 40 1 4 1 83 1-45 1 53 1 74 1-62 1-8 1-6 1 59 1-40 1 3 1-67 1 130 1-83 1 72 1 23 1-6 1-12 1 5 1 67 1-45 1 24 1 58 1-60 1 22 1-96 1-27 1-6 1-17 1 73 1 51 1-72 1 73 1 7 1-32 1 29 1 17 1 52 1-35 1 26 1-24 1-50 1 42 1 8 1 33 1 33 1 10 1 63 1-111 1-35 1 60 1-44 1 5 1 20 1 88 1-82 1 20 1-14 1 53 1 11 1-26 1 52 1-53 1-31 1 64 1-51 1 47 1-62 1-89 1 100 1-59 1-15 1 40 1 49 1 24 1-62 1-74 1 104 1-55 1-41 1-99 1 83 1-28 1 105 1-31 1-18 1-11 1-37 1 17 1 78 1 92 1-141 1-20 1-6 1-50 1 93 1-51 1-26 1 12 1-27 1 65 1-76 1 26 1-50 1-25 1 50 1-70 1-12 1 78 1-1 1-13 1-21 1 11 1-38 1 82 1 0 1-59 1 34 1-78 1-27 1-52 1 144 1-43 1-57 1 70 1-69 1 69 1-15 1-21 1 2 1-31 1 39 1 21 1-3 1-133 1 68 1-64 1 7 1-69 1-63 1 140 1-36 1 110 1 2 1 94 1-95 1-44 1 22 1 43 1 10 1 20 1-9 1-66 1 24 1 0 1-33 1 9 1-23 1 98 1 11 1-67 1 16 1-24 1 45 1-82 1 89 1-120 1 31 1-15 1-24 1 49 1-30 1 9 1-55 1 28 1-30 1-17 1-22 1-14 1-65 1 67 1-114 1-14 1 14 1 3 1-23 1-5 1 90 1-25 1-7 1 153 1-39 1-44 1 40 1 88 1-86 1 88 1 32 1-54 1 64 1-126 1 49 1 61 1-5 1 2 1 76 1 6 1-52 1 93 1-71 1 24 1-72 1 84 1-102 1 42 1-78 1 33 1-21 1 4 1-35 1-118 1 117 1 62 1-48 1 8 1 61 1-70 1 52 1-36 1 41 1 55 1-45 1 72 1 4 1-68 1 34 1-73 1 36 1-45 1 1 1-76 1 43 1-43 1-19 1 5 1-67 1 67 1 21 1 22 1 39 1-9 1 0 1-11 1-25 1-37 1-40 1 109 1 41 1-2 1 64 1-113 1 77 1 4 1-25 1 54 1-36 1 54 1-13 1 18 1 37 1-6 1-59 1-56 1 90 1-35 1-23 1 125 1-81 1 31 1 13 1-13 1-83 1 53 1 27 1-41 1 67 1-48 1-39 1 38 1-28 1-58 1 55 1 48 1 43 1-27 1-31 1 16 1-76 1 50 1-61 1 63 1 67 1-87 1 117 1-44 1-80 1 18 1 73 1-59 1 63 1 8 1 88 1-48 1 55 1-11 1 0 1-58 1 8 1 31 1 26 1-37 1 23 1-17 1 25 1 27 1-6 1 28 1 22 1 53 1 13 1-68 1 43 1-4 1 27 1 29 1 62 1-29 1-94 1 41 1 12 1 34 1-1 1 44 1 76 1 5 1-44 1-32 1 41 1-45 1 32 1 72 1 48 1 20 1-33 1-61 1 52 1-121 1 61 1 29 1-79 1-17 1-156 1 43 1-25 1 43 1 28 1-133 1 82 1-41 1-48 1 58 1 3 1 105 1 0 1-58 1-9 1-6 1 31 1-48 1 137 1-91 1 6 1-27 1-125 1 42 1-35 1 17 1-5 1-21 1 52 1-100 1 115 1-141 1 70 1 56 1-65 1-78 1 31 1-4 1-52 1 85 1-115 1 64 1 25 1 42 1-20 1 10 1-17 1-30 1-1 1 41 1 3 1-69 1-15 1-73 1 72 1 10 1-112 1 33 1-126 1 55 1 35 1-81 1 11 1 11 1 63 1-23 1-32 1 15 1-2 1-27 1-45 1-31 1-10 1 67 1-64 1 90 1-50 1-13 1-16 1-19 1 48 1-42 1 66 1-4 1 20 1-114 1 95 1-79 1-44 1 0 1 99 1-49 1 72 1 91 1-99 1 21 1 46 1-29 1 24 1 65 1-108 1 111 1 6 1 28 1-2 1-2 1 25 1-26 1-54 1 85 1 16 1-4 1 23 1-46 1-29 1 72 1-9 1 0 1-58 1 61 1-68 1 58 1-76 1 68 1 93 1-131 1-26 1 51 1 20 1 10 1 51 1-36 1-9 1 5 1 35 1 76 1-87 1 18 1 5 1-76 1 117 1-28 1 36 1-11 1-31 1-62 1 120 1-63 1 26 1-14 1 11 1 15 1 65 1-117 1 33 1-30 1 24 1 24 1 57 1-116 1 65 1-42 1-3 1-54 1 49 1 20 1-61 1-32 1 55 1-40 1 16 1 33 1 9 1-7 1 68 1 47 1-31 1 3 1-8 1 74 1 82 1-33 1 26 1-54 1 29 1 35 1-46 1-65 1-43 1 94 1 5 1-50 1 86 1 31 1-30 1-45 1 31 1 30 1-9 1-32 1 46 1 32 1-109 1 26 1-17 1-30 1 71 1-66 1 42 1 26 1-4 1-61 1 88 1 5 1-8 1 81 1 30 1-53 1-11 1-62 1 2 1 55 1-96 1 69 1-2 1-23 1-3 1 83 1 21 1-94 1 71 1-41 1-92 1-5 1-28 1 84 1-37 1-71 1-23 1-4 1 108 1-84 1 84 1 22 1 46 1-59 1 53 1-33 1-2 1-13 1 16 1-47 1 25 1-102 1-6 1 17 1-30 1-15 1 68 1 11 1 32 1 24 1 25 1-59 1 15 1 56 1 69 1-4 1-48 1-18 1 8 1 41 1 29 1 15 1-12 1-22 1 49 1 34 1-97 1 82 1-5 1 34 1-92 1 35 1-37 1-71 1 80 1-28 1-75 1 42 1-20 1-16 1 24 1-47 1-43 1 40 1-75 1 32 1 33 1-2 1-7 1 26 1-60 1-3 1-13 1 87 1-107 1 30 1 46 1 5 1-1 1-34 1 113 1-14 1-32 1 18 1 10 1-54 1 58 1-32 1 11 1-30 1 99 1 61 1-48 1-8 1 14 1 49 1-58 1 36 1-83 1 68 1 12 1-65 1 68 1-54 1-8 1-4 1-29 1-48 1-37 1 78 1-54 1 65 1-22 1 52 1-104 1-2 1-95 1 99 1-79 1 50 1-118 1 18 1 26 1 120 1-48 1-61 1-16 1 29 1-25 1-19 1 96 1-138 1 4 1 63 1-4 1 27 1-85 1 120 1-84 1 38 1-3 1-18 1-40 1-1 1 121 1 4 1-43 1-24 1-2 1-17 1 61 1-65 1 2 1 73 1-71 1-51 1 50 1-53 1 113 1-7 1-85 1 52 1-68 1-38 1 82 1-38 1-57 1 48 1-56 1-24 1 98 1-107 1-44 1 46 1-12 1 1 1 77 1-73 1 72 1-62 1 53 1 12 1 19 1-23 1 50 1 3 1 55 1-3 1-124 1 92 1-15 1-3 1 69 1 22 1 21 1 38 1-39 1-30 1-97 1 178 1-29 1-38 1-5 1-21 1 76 1-51 1-10 1 50 1-14 1-23 1-50 1 64 1 11 1 2 1-31 1-23 1 76 1 4 1 136 1-63 1-50 1 0 1 7 1 9 1-61 1 5 1 24 1-48 1 8 1-31 1 73 1 9 1-120 1 84 1-112 1 86 1-63 1 112 1-23 1-41 1-60 1 12 1 24 1 5 1-39 1-57 1 64 1-60 1-10 1 36 1-7 1-50 1 38 1-83 1 101 1 78 1-27 1 27 1-6 1 50 1 12 1-56 1 40 1 99 1 3 1-32 1 83 1-9 1-71 1 43 1-13 1 91 1-56 1-2 1-52 1 59 1 46 1-54 1-13 1 67 1-62 1-4 1 0 1 53 1-63 1 14 1-35 1 78 1 61 1 0 1-35 1 74 1-3 1 22 1 20 1 46 1-13 1-21 1 94 1-27 1-52 1-56 1-3 1 68 1 54 1-34 1-19 1 30 1-16 1-49 1-88 1 59 1 27 1 24 1 62 1-81 1 16 1-29 1 89 1-96 1 78 1 17 1 1 1 46 1 0 1-45 1-36 1-38 1 1 1-23 1-86 1-6 1-36 1 93 1-116 1 20 1-33 1-37 1 68 1 13 1-2 1-39 1 45 1-47 1-59 1 91 1-25 1-43 1 38 1-52 1 10 1 53 1-13 1-39 1-7 1 20 1 9 1-52 1 34 1-63 1 49 1 57 1-41 1-7 1-7 1-39 1-61 1-7 1 31 1-56 1-28 1-36 1-24 1 57 1 14 1-34 1 91 1-18 1-53 1 136 1-15 1 33 1-27 1-56 1 52 1 45 1 47 1 95 1-28 1-30 1-16 1 54 1-21 1 6 1 37 1-21 1 15 1 55 1 11 1-6 1 68 1-5 1-49 1-43 1 8 1-43 1 27"/>
<path class="c" transform="scale(.5)" stroke="#000000" stroke-width="5.6" d="M529 4595l1 6 1 12 1-10 1 0 1-17 1 11 1-11 1-61 1 30 1 11 1-36 1 0 1 17 1-26 1-62 1 42 1-45 1 18 1-92 1 47 1-62 1 36 1 18 1 31 1-181 1 50 1-70 1 79 1-17 1-41 1 22 1 14 1 99 1-72 1-27 1 59 1-6 1 11 1-22 1-30 1 91 1 36 1-10 1-64 1 36 1-69 1 105 1-23 1 41 1 62 1-37 1-41 1 133 1-60 1-26 1 60 1-17 1 36 1 44 1-119 1 99 1 10 1-42 1 63 1-16 1 1 1-27 1-10 1-44 1 64 1-42 1-14 1-5 1-99 1 102 1-73 1-11 1 37 1 42 1 27 1-62 1 93 1 41 1-92 1 64 1 39 1-44 1 19 1 19 1-40 1 132 1-52 1-9 1-8 1 28 1 19 1-12 1-65 1 30 1 14 1 137 1-68 1-3 1 76 1-68 1 100 1-10 1 10 1-96 1 63 1 1 1 32 1-16 1-47 1-18 1-19 1-25 1 53 1-21 1 35 1-73 1-38 1 44 1 20 1-56 1 3 1-14 1-42 1-85 1 7 1-67 1 60 1 107 1-102 1 78 1-19 1-56 1-68 1-57 1 34 1 37 1 47 1 54 1-43 1 44 1-11 1 25 1-20 1-32 1 83 1 79 1-21 1 30 1-5 1 1 1 76 1-48 1-10 1 5 1 24 1-67 1 41 1 20 1 44 1 0 1-61 1 3 1-32 1-5 1 59 1 23 1-101 1 22 1-101 1 72 1-23 1-25 1-24 1 11 1-7 1-82 1 104 1 3 1-9 1-17 1-53 1 69 1-144 1 44 1 68 1 8 1 26 1-111 1-8 1 22 1-55 1-31 1 31 1 65 1 8 1 13 1-96 1-36 1 51 1-71 1 12 1 45 1-79 1-20 1-13 1-28 1-9 1 29 1-8 1 78 1-96 1 51 1-29 1 7 1 52 1-58 1-109 1 98 1 55 1-166 1 33 1 50 1-115 1 156 1 19 1-61 1-91 1 18 1 41 1 27 1 21 1-71 1 6 1 87 1-78 1 20 1-22 1-7 1 19 1 36 1-36 1 68 1-4 1-36 1 37 1-17 1 51 1-72 1-47 1 32 1 9 1-40 1 80 1 23 1 11 1-22 1-88 1 113 1-6 1-26 1 42 1-44 1-59 1 52 1-8 1 31 1-86 1 115 1-2 1-23 1 25 1-2 1-137 1 110 1-15 1-24 1 44 1-81 1-21 1-27 1 52 1 24 1-38 1-7 1 36 1 48 1 1 1-45 1-76 1-41 1 136 1-113 1 93 1-103 1 32 1 11 1 90 1-72 1 22 1-150 1 96 1-60 1 35 1 8 1-23 1-76 1 6 1 17 1-80 1 36 1 61 1-26 1 20 1-67 1-21 1-80 1 11 1 2 1 48 1 34 1-105 1 16 1-36 1 6 1 39 1-18 1-65 1-5 1 43 1-106 1 78 1-43 1-58 1-2 1-6 1 62 1-53 1-101 1 52 1-54 1-11 1 29 1-6 1-75 1 48 1-19 1-120 1-21 1 65 1 18 1-41 1 66 1 21 1-83 1-12 1-42 1-17 1-67 1 162 1-82 1 17 1-15 1 5 1-36 1-12 1 51 1 35 1-11 1 35 1 102 1 31 1 10 1-30 1 26 1 2 1-13 1 109 1-4 1-40 1-41 1 45 1-35 1 109 1 14 1 13 1-75 1 30 1 13 1-30 1 41 1-2 1 10 1 18 1-30 1-35 1 5 1-25 1 135 1 32 1-63 1 64 1-48 1-75 1 74 1 38 1 3 1 24 1 12 1 26 1-28 1 50 1-43 1 7 1 96 1-27 1 53 1 50 1 1 1-36 1-66 1 56 1-100 1-18 1 21 1 44 1-30 1 33 1 3 1-83 1-57 1 20 1 16 1-34 1 47 1-61 1 88 1-6 1 25 1-42 1-26 1-30 1-50 1 23 1-4 1 33 1-25 1 22 1-31 1 30 1-1 1-8 1 43 1-9 1 16 1-84 1 51 1 54 1 35 1-81 1 23 1-60 1 31 1 71 1-68 1 63 1 23 1 93 1-212 1 4 1 18 1-31 1 61 1-89 1-64 1-20 1 93 1-11 1 19 1 13 1 34 1 13 1-118 1 29 1-1 1-54 1 37 1 23 1-44 1-41 1-57 1 73 1-4 1-46 1 152 1-65 1 84 1-95 1-14 1 9 1 73 1-118 1 60 1 15 1-45 1-7 1 19 1-24 1-20 1 32 1 13 1-56 1-2 1 25 1-60 1 100 1-88 1 6 1-50 1-15 1 3 1 90 1-21 1 1 1 1 1-20 1-40 1 66 1 24 1-74 1-52 1-2 1 20 1 16 1-116 1 97 1-90 1 97 1-4 1-83 1 13 1-12 1 86 1-118 1 92 1 10 1-105 1-6 1 78 1-115 1-37 1 26 1 8 1 1 1 13 1 24 1-88 1 3 1-28 1 6 1-1 1 15 1-29 1 16 1 18 1 6 1 27 1-52 1 124 1-87 1 57 1 30 1-36 1 90 1 23 1-90 1 36 1-97 1 66 1-112 1 63 1-60 1 21 1 93 1-91 1 0 1-34 1 2 1 73 1 9 1-12 1-42 1-13 1-39 1 42 1 10 1-45 1 10 1 31 1-17 1-1 1 70 1 60 1-40 1-27 1-15 1 19 1 90 1 92 1-50 1-23 1-101 1 28 1 37 1 14 1 4 1 18 1-15 1-36 1 6 1-58 1 60 1-106 1 26 1 26 1 2 1-117 1 41 1 34 1 35 1-80 1 132 1 82 1-95 1-47 1-7 1 32 1-26 1-36 1 52 1 35 1-55 1 12 1 34 1-71 1-104 1-2 1 79 1 16 1 78 1-29 1 19 1 71 1-76 1 42 1-12 1-21 1 64 1-108 1 62 1 25 1 42 1-67 1 89 1 5 1-67 1-36 1 68 1 19 1 49 1-63 1 34 1 23 1 37 1 6 1-63 1 18 1 32 1-44 1-24 1 80 1 36 1-45 1 33 1-49 1 33 1-9 1 141 1-160 1 51 1-12 1-61 1 111 1 0 1 38 1-18 1-8 1-108 1-23 1 36 1-16 1-96 1 107 1-50 1 2 1 81 1-17 1-9 1-45 1-8 1 21 1-17 1 44 1-107 1 32 1 58 1-85 1-51 1 51 1 51 1-83 1 56 1-40 1-17 1 22 1 38 1 21 1-5 1-42 1 6 1 62 1-64 1-43 1 0 1 40 1 8 1 35 1-17 1-12 1 41 1-65 1 3 1-32 1 67 1-25 1 16 1 12 1-39 1-3 1-20 1-44 1 110 1 10 1-109 1-41 1 97 1-53 1-5 1 48 1-64 1 66 1 11 1-30 1 27 1 10 1-19 1 63 1-74 1 28 1-13 1 41 1 11 1-73 1 50 1 42 1-62 1-1 1 94 1-89 1 100 1-4 1 43 1 125 1-119 1 109 1 5 1 82 1-33 1-9 1-36 1 147 1-136 1 71 1-24 1-40 1 40 1-40 1 122 1-17 1-66 1-6 1-42 1 135 1-37 1 82 1-46 1 33 1 77 1-69 1-40 1-4 1 39 1 28 1 15 1-29 1 72 1-49 1 88 1-7 1-71 1 55 1-32 1 99 1-90 1-76 1 25 1-37 1 3 1 12 1 0 1-8 1 107 1-73 1-3 1 27 1-54 1 101 1-51 1-66 1 73 1 42 1-43 1 119 1-101 1 2 1 25 1 11 1-17 1 20 1 62 1-144 1 106 1-53 1-23 1 69 1 3 1-47 1 34 1-2 1-23 1 85 1-100 1 36 1 43 1 79 1-23 1 16 1 11 1-51 1 105 1-21 1-111 1 94 1-124 1 13 1-24 1-111 1 3 1 92 1-88 1-31 1 19 1 13 1-28 1-29 1 76 1-51 1 3 1-10 1-25 1-33 1 35 1-14 1 8 1-59 1-3 1-108 1 137 1-60 1 88 1-117 1 59 1 32 1-91 1 68 1-18 1 11 1 2 1 46 1 5 1-48 1 47 1-46 1-34 1-8 1-80 1 35 1 78 1-54 1 57 1 26 1-17 1-7 1 37 1-1 1 24 1 88 1-10 1 29 1-92 1 88 1-60 1-85 1 33 1-70 1 28 1 44 1-61 1 4 1-77 1 81 1 57 1 62 1-8 1 145 1-34 1-69 1 44 1-12 1 39 1 37 1 74 1-73 1 13 1-2 1 30 1-54 1-103 1 48 1-2 1-65 1-5 1-13 1-100 1 68 1-4 1-79 1-25 1 92 1-59 1 19 1-2 1 3 1-94 1 71 1-4 1 17 1 1 1-51 1-49 1 28 1 3 1 5 1 26 1-74 1-28 1 21 1-7 1-69 1-12 1 55 1 156 1-143 1-26 1-75 1 52 1-47 1 22 1-65 1 157 1-100 1-68 1-48 1 37 1 83 1-11 1-2 1 30 1 21 1 39 1-80 1-17 1 131 1-62 1 84 1-60 1-26 1-16 1-41 1 60 1 40 1-70 1 54 1-41 1-21 1 21 1 38 1 41 1 8 1-69 1 6 1 39 1 70 1-6 1 52 1-4 1-23 1-68 1 57 1 6 1-14 1 24 1 22 1-41 1-41 1 68 1-81 1-134 1 59 1-104 1 55 1-3 1-82 1-17 1 29 1-19 1-14 1 24 1-87 1 49 1 2 1 10 1-31 1 60 1-52 1 5 1 24 1-41 1 0 1 82 1-18 1-20 1 4 1-8 1-42 1 34 1 54 1-31 1-137 1 30 1-16 1 82 1-52 1 31 1 2 1 68 1-13 1 110 1-67 1-1 1-10 1 23 1 92 1-63 1-33 1 62 1-8 1 45 1 30 1-16 1 24 1-35 1-92 1 129 1-32 1 69 1 30 1-76 1-3 1-55 1-36 1 30 1-47 1 71 1-79 1 44 1-69 1-3 1 60 1 14 1 65 1-37 1 75 1 24 1-11 1 164 1-57 1 53 1-153 1 10 1 53 1-106 1-4 1-3 1-7 1 7 1-69 1 1 1 108 1-158 1-69 1 8 1 42 1 65 1-129 1 1 1-48 1-41 1 36 1-110 1-70 1 106 1-39 1-13 1 26 1-31 1-92 1 80 1 41 1-112 1 122 1-53 1 17 1-68 1 6 1 8 1-22 1 72 1-60 1 100 1 16 1-40 1 58 1-35 1 114 1-43 1 51 1-103 1 96 1-38 1 138 1-34 1 65 1-80 1 17 1-26 1 113 1-4 1-13 1 53 1-64 1 35 1-44 1 33 1-104 1 44 1-90 1 72 1 25 1-47 1 33 1-88 1 51 1-74 1 2 1-6 1-40 1 45 1-33 1 32 1-78 1-19 1 3 1 107 1-98 1 26 1-5 1 118 1-109 1 48 1-2 1-4 1 43 1 57 1-18 1 5 1 0 1-61 1 21 1-18 1 9 1 29 1-13 1-12 1 4 1-45 1 8 1 37 1-18 1-7 1-25 1-36 1-26 1-68 1 124 1-18 1 41 1 33 1 9 1-62 1-1 1 6 1-36 1-65 1 5 1 18 1 32 1-36 1 28 1-128 1 47 1-4 1-43 1 18 1 20 1-18 1 55 1-69 1 91 1-89 1-3 1 81 1 24 1-93 1-30 1 67 1 50 1 47 1-56 1 21 1-89 1 4 1 0 1 66 1-105 1-36 1-34 1-3 1 22 1 28 1 14 1-24 1 0 1-20 1 36 1 102 1-115 1-6 1-38 1 45 1 18 1-53 1-77 1 25 1-8 1 49 1-55 1 33 1 8 1 29 1-114 1 59 1 17 1 90 1-89 1-11 1-98 1-14 1 20 1 36 1-104 1-19 1 125 1 39 1-83 1 34 1 5 1 3 1 114 1-27 1 36 1-86 1 67 1 39 1-3 1-110 1 38 1 28 1 70 1-53 1-88 1 7 1 39 1-32 1-77 1 14 1-50 1-12 1 21 1-17 1 61 1-14 1 6 1-14 1 87 1-91 1-28 1 39 1-118 1 70 1-28 1 3 1-62 1 61 1-23 1 14 1-4 1-15 1 30 1 26 1-114 1 168 1 40 1 61 1 29 1-20 1-50 1 57 1-12 1-48 1 53 1 50 1 33 1 43 1 2 1 74 1-39 1-21 1 95 1-34 1 29 1 12 1-1 1-119 1 33 1 51 1 68 1-135 1 165 1-44 1 80 1-108 1 44 1 33 1 32 1-16 1 39 1 66 1 19 1 86 1 7 1 31 1-83 1 67 1 16 1-48 1 117 1 5 1-23 1 45 1 5 1-26 1-75 1-18 1 19 1-35 1-12 1 40 1-7 1-12 1 0 1 34 1-29 1 5 1 9 1 22 1-56 1-29 1 75 1 18 1-84 1 10 1-1 1 27 1 58 1-46 1 1 1-31 1 38 1 32 1-26 1 4 1-41 1 32 1-70 1 29 1-87 1 61 1-51 1 49 1-96 1 1 1 157 1 39 1-90 1 6 1-122 1 16 1-84 1-10 1-6 1-18 1 124 1-40 1 17 1-46 1-69 1 3 1-12 1-3 1-41 1 85 1-111 1 30 1-70 1 51 1-33 1-72 1 142 1 44 1-10 1-40 1-17 1 38 1-62 1 101 1-59 1 12 1-78 1 11 1 50 1-103 1 163 1-68 1-34 1 25 1 5 1 32 1-74 1 97 1-3 1 45 1-36 1 61 1-51 1 40 1-59 1 26 1-34 1 36 1 31 1-97 1 65 1 1 1 81 1 2 1-27 1 26 1 91 1-107 1 46 1 14 1 23 1 71 1 43 1-112 1-74 1 3 1-5 1 108 1 12 1-89 1-19 1 63 1 71 1-33 1-35 1 13 1-23 1-6 1 127 1-76 1 50 1-65 1-27 1 50 1-50 1-79 1 68 1-42 1 33 1 57 1 29 1 14 1 41 1-67 1-58 1 130 1-44 1 137 1-148 1 10 1 57 1 77 1-85 1 29 1 53 1-72 1-21 1 84 1 19 1 2 1 85 1-44 1 3 1 12 1 17 1 35 1-20 1-62 1 116 1-63 1 39 1 28 1-2 1-64 1 69 1 3 1-40 1-3 1-1 1-75 1 9 1 1 1 56 1-29 1-14 1 50 1-45 1 62 1 7 1-57 1 108 1-122 1-63 1 164 1-14 1 6 1-71 1 51 1 3 1-81 1 60 1 24 1-22 1-30 1 28 1-124 1 63 1-30 1 64 1-86 1-36 1 74 1 29 1-75 1-15 1-3 1 57 1-84 1-5 1 15 1 51 1-98 1 66 1-15 1-15 1 33 1 4 1-52 1-6 1 147 1-70 1 71 1-36 1 21 1 70 1-21 1 38 1-26 1-3 1 17 1 107 1-37 1 23 1 117 1-82 1 21 1-188 1 57 1 39 1-13 1 21 1 103 1-110 1 27 1 53 1 45 1-23 1-67 1 5 1 16 1 51 1-40 1 82 1 79 1 20 1 64 1 23 1-37 1-3 1 107 1-60 1 5 1-19 1-66 1 40 1-145 1-7 1-31 1-24 1 86 1-125 1 52 1-9 1 47 1-73 1-29 1 38 1 1 1 15 1-25 1 18 1 11 1 5 1-11 1 79 1 7 1-87 1 64 1-18 1-31 1 43 1 27 1 8 1 39 1-97 1-2 1-10 1 50 1-24 1-12 1-60 1 15 1 53 1-90 1 94 1-2 1 37 1 29 1-120 1 58 1 2 1-43 1-14 1 5 1-42 1-13 1 17 1 16 1-40 1-74 1-30 1 95 1-23 1-57 1 9 1-14 1 62 1-22 1-58 1-40 1 85 1 2 1-20 1-49 1 71 1-66 1 95 1-12 1-63 1 38 1 4 1 13 1 21 1-121 1 31 1-21 1-35 1-45 1 43 1 34 1 0 1-88 1-33 1 34 1-101 1-46 1 22 1 63 1-102 1 35 1 71 1 67 1-44 1-19 1-85 1-51 1 49 1 146 1-50 1-92 1-12 1 7 1 106 1-8 1 62 1-2 1 14 1 36 1 18 1-37 1-9 1-21 1-79 1 78 1 67 1-83 1 24 1-46 1 59 1 47 1-49 1 9 1-8 1 14 1-30 1 39 1-46 1 6 1-69 1-12 1 97 1-92 1 111 1-49 1 47 1-63 1 40 1 19 1 28 1-132 1-11 1 143 1-84 1-74 1-30 1-12 1 27 1 5 1 26 1 16 1 43 1-17 1 63 1-93 1 44 1-32 1 99 1-22 1 31 1-3 1-40 1-4 1 33 1-9 1-54 1 122 1 16 1 39 1 10 1 1 1-23 1 3 1-25 1-39 1-86 1-4 1 68 1-40 1-15 1-32 1 32 1-59 1 19 1-29 1 41 1-54 1-38 1 4 1 78 1-10 1-49 1 105 1-19 1-33 1 51 1-61 1-35 1 2 1-7 1 59 1-81 1-22 1 31 1 23 1-104 1 5 1-17 1 56 1-109 1 77 1 118 1-41 1-77 1 63 1-25 1 60 1-75 1 111 1-31 1-37 1 18 1-52 1 66 1-10 1 17 1-41 1 67 1-100 1 78 1-19 1-58 1-21 1 13 1-26 1 0 1 5 1-56 1 58 1-70 1 3 1 35 1-47 1 27 1 88 1-97 1 104 1 23 1 16 1 60 1 0 1-17 1-5 1 79 1-48 1-58 1 85 1-30 1 6 1-22 1 161 1-40 1 36 1 12 1-67 1-27 1 65 1-1 1-42 1-23 1-111 1 102 1 0 1-16 1 43 1-150 1 117 1-2 1 0 1 17 1 109 1-26 1 98 1-131 1 66 1 0 1-72 1 109 1-46 1 27 1 26 1-23 1 61 1 37 1-45 1-125 1 73 1 19 1 76 1 16 1-142 1 66 1-91 1 131 1-22 1 4 1 33 1 17 1 14 1-22 1-7 1-47 1 32 1-61 1 85 1-92 1 14 1-43 1-3 1-13 1 29 1 0 1-57 1-9 1 20 1-21 1 51 1 49 1-156 1 69 1-32 1-42 1-52 1 145 1-59 1-49 1 3 1-8 1-84 1 97 1-66 1 31 1-10 1-22 1-27 1 32 1 55 1-80 1 32 1 27 1-11 1-53 1 62 1-53 1 32 1 38 1-35 1-78 1 116 1-26 1 56 1 101 1-108 1-13 1 153 1-101 1 71 1-39 1-89 1-65 1 133 1-104 1-13 1-8 1 43 1-55 1 22 1-43 1 53 1-27 1 83 1 28 1-9 1-97 1 27 1 158 1-129 1-65 1-8 1 162 1-61 1-64 1 70 1-86 1 54 1 52 1-45 1 61 1-54 1-11 1 36 1 81 1-149 1 150 1-21 1-29 1 35 1-41 1 14 1-53 1 61 1-49 1 31 1-42 1 45 1 17 1 14 1-95 1 1 1 36 1-10 1 35 1-115 1 43 1 52 1 46 1-49 1-13 1-52 1 148 1-44 1-21 1 1 1-17 1 27 1 66 1 24 1-25 1 118 1-34 1 38 1-3 1 78 1-13 1-20 1-15 1-80 1 52 1 12 1 4 1-52 1 155 1-112 1-96 1 83 1-24 1 40 1-53 1-21 1 99 1-109 1-18 1 40 1 8 1-58 1 27 1-3 1 26 1-68 1 57 1-63 1-30 1 127 1-133 1 33 1-85 1 51 1 52 1-21 1 4 1 77 1-43 1 26 1-1 1 0 1 52 1-92 1 27 1-41 1 28 1 24 1 55 1-102 1 55 1 19 1-57 1 85 1 93 1-79 1-75 1 104 1 24 1-12 1-17 1 11 1-32 1 168 1-92 1 57 1 50 1-118 1 56 1 16 1 47 1 24 1-90 1 61 1-51 1 25 1 13 1-86 1 75 1-61 1-22 1-11 1 72 1 8 1 85 1-62 1-134 1 90 1-84 1-1 1-71 1 24 1-3 1-52 1 32 1 79 1-145 1 42 1 5 1 13 1-30 1-18 1 9 1-35 1-5 1 43 1-11 1 20 1 12 1-92 1 42 1 92 1-29 1 1 1-5 1 53 1 39 1 34 1-4 1-94 1 22 1-42 1-7 1 8 1 72 1 35 1-83 1-26 1 8 1-8 1-1 1 59 1-60 1 69 1-19 1-9 1 19 1-9 1 23 1-9 1 85 1 4 1 6 1-87 1 68 1-48 1 49 1-100 1 54 1 58 1-40 1 1 1 39 1 20 1 1 1 49 1-32 1 54 1 28 1-44 1-51 1-58 1 67 1 60 1-38 1 41 1-16 1-21 1 78 1-39 1-15 1-14 1 21 1 50 1-100 1 24 1-39 1-15 1 19 1-43 1 71 1-19 1-31 1-4 1 8 1 11 1 34 1-1 1 47 1 11 1 63 1-29 1-5 1 30 1-80 1-15 1-69 1 38 1-112 1 28 1-10 1-61 1 1 1-82 1 77 1-5 1-14 1-44 1-75 1 8 1-48 1 3 1 45 1 128 1-154 1 4 1 47 1-127 1 26 1 27 1 30 1-52 1 130 1 26 1-116 1 106 1-99 1-91 1 77 1 6 1-5 1 17 1-26 1-56 1 59 1 4 1 42 1-82 1 4 1 138 1-40 1-91 1 14 1 11 1 26 1-47 1-3 1 31 1-2 1 39 1-84 1 67 1-169 1 0 1-53 1 82 1 7 1-8 1 36 1 50 1-55 1 26 1-3 1 45 1-75 1 68 1 13 1 62 1-53 1 83 1 29 1-59 1-15 1 29 1-29 1 22 1 74 1-4 1-28 1-59 1 36 1-22 1 46 1 63 1 26 1-4 1 22 1 44 1-23 1-69 1 0 1 57 1-61 1 4 1 62 1 54 1-22 1-66 1 46 1 6 1 131 1-27 1 16 1-33 1 109 1-27 1 7 1-51 1 40 1 54 1-29 1 66 1 11 1-19 1-2 1 0 1 76 1-93 1-88 1 98 1-79 1 20 1 118 1 35 1-130 1 160 1-121 1-29 1 46 1 20 1-80 1 40 1-74 1-15 1 21 1-5 1 32 1-64 1 78 1-8 1-84 1 6 1 69 1 10 1-106 1 8 1-10 1 1 1 24 1 48 1 10 1-140 1 55 1-8 1 81 1-46 1-30 1-43 1 17 1-13 1 2 1-11 1 3 1 4 1 0 1-24 1 63 1-16 1 26 1-110 1-1 1-22 1-90 1 18 1 25 1 1 1-47 1 108 1-120 1 38 1 7 1-16 1-1 1 1 1-9 1 60 1-41 1-21 1 145 1-159 1 72 1-48 1 5 1-18 1-26 1 32 1 119 1-66 1 34 1-51 1 3 1 75 1-3 1-116 1 72 1 13 1 17 1-46 1 82 1 15 1-48 1-8 1-64 1 57 1-37 1 31 1 15 1-48 1 37 1 69 1-108 1 84 1-75 1 23 1 100 1-53 1 41 1-42 1-45 1 153 1-13 1-48 1-61 1 97 1 24 1 3 1-36 1 120 1-44 1-1 1-61 1 23 1 26 1-21 1-63 1 84 1-2 1-14 1 31 1-14 1 29 1-62 1-52 1 99 1-51 1 50 1-17 1-120 1 63 1 13 1-11 1-23 1 86 1-18 1 53 1 3 1 9 1-16 1 77 1 22 1-13 1 6 1-59 1-117 1 110 1 1 1 10 1-64 1 41 1 40 1-85 1 69 1-43 1 45 1-22 1 42 1-154 1 85 1-94 1 69 1-20 1-58 1 1 1-11 1 24 1-72 1 49 1-102 1-2 1 9 1 55 1 49 1-99 1 89 1 1 1-38 1-12 1-78 1 17 1 85 1-16 1-61 1-36 1 18 1-11 1-36 1-27 1-14 1 4 1 77 1-47 1-58 1 72 1 8 1-40 1 7 1-114 1 82 1 12 1-10 1-4 1 13 1-30 1-27 1-2 1 100 1-36 1 63 1-28 1 84 1-115 1 45 1-1 1-77 1 57 1-7 1 19 1-69 1 8 1 77 1-70 1 55 1-66 1 29 1-15 1-104 1-101 1 25 1 21 1 12 1 3 1 19 1 44 1 2 1 87 1-33 1 40 1 13 1-66 1 41 1 109 1-75 1-20 1 4 1-17 1-30 1 77 1-95 1 87 1-30 1-11 1-25 1 69 1 25 1-27 1-97 1 113 1-18 1 22 1 99 1-6 1-30 1-31 1-82 1 98 1-27 1 66 1-66 1 70 1-55 1-8 1-1 1-12 1 51 1-43 1 58 1 56 1 26 1-182 1 18 1 47 1-95 1-29 1 202 1-90 1-68"/>
</g>
<g fill="#000"><rect x="262" y="1490.9" width="5" height="941.1"/><rect x="1644" y="1490.9" width="4" height="941.1"/><rect x="262" y="1490.9" width="1386" height="5"/><rect x="262" y="2428.1" width="1386" height="3.9"/></g>
<text class="s" transform="translate(234.4,2443.4) scale(.955,1)" font-size="56.5" text-anchor="end">0</text>
<text class="s" transform="translate(234.4,2289.1) scale(.955,1)" font-size="56.5" text-anchor="end">30</text>
<text class="s" transform="translate(234.4,2134.8) scale(.955,1)" font-size="56.5" text-anchor="end">60</text>
<text class="s" transform="translate(234.4,1980.5) scale(.955,1)" font-size="56.5" text-anchor="end">90</text>
<text class="s" transform="translate(234.4,1826.2) scale(.955,1)" font-size="56.5" text-anchor="end">120</text>
<text class="s" transform="translate(234.4,1671.91) scale(.955,1)" font-size="56.5" text-anchor="end">150</text>
<text class="s" transform="translate(234.4,1517.61) scale(.955,1)" font-size="56.5" text-anchor="end">180</text>
<text class="s" transform="translate(272.4,2495.6) scale(.955,1)" font-size="56.5" text-anchor="middle">0</text>
<text class="s" transform="translate(617.9,2495.6) scale(.955,1)" font-size="56.5" text-anchor="middle">0.01</text>
<text class="s" transform="translate(963.4,2495.6) scale(.955,1)" font-size="56.5" text-anchor="middle">0.02</text>
<text class="s" transform="translate(1308.9,2495.6) scale(.955,1)" font-size="56.5" text-anchor="middle">0.03</text>
<text class="s" transform="translate(1654.4,2495.6) scale(.955,1)" font-size="56.5" text-anchor="middle">0.04</text>
<text class="s" x="888.2" y="2570.7" font-size="61">t [</text><text class="f" transform="translate(940.3,2570.7) scale(1.3,1)" font-size="61.5">μ</text><text class="s" x="975.6" y="2570.7" font-size="61">s]</text>
<g transform="translate(91.8,2060.5) rotate(-90)"><text class="f" x="0" y="0" font-size="63">Θ</text><text class="s" x="61" y="0" font-size="62">[deg]</text></g>
<text class="f" transform="translate(1809,2633) scale(.89,1)" font-size="86">B</text>
<text class="s" x="611.5" y="1410.8" font-size="48">traj 1</text>
<path d="M746,1394.5 H884" stroke="#ff0000" stroke-width="2.2"/>
<text class="s" x="611.5" y="1459.4" font-size="48">traj 2</text>
<path d="M746,1442.8 H884" stroke="#a52a2a" stroke-width="2.2"/>
<text class="s" x="979" y="1410.8" font-size="48">traj 3</text>
<path d="M1114,1394.5 H1252" stroke="#00ff00" stroke-width="2.2"/>
<text class="s" x="979" y="1459.4" font-size="48">traj 4</text>
<path d="M1114,1442.8 H1252" stroke="#00ffff" stroke-width="2.2"/>
<text class="s" x="1346" y="1410.8" font-size="48">traj 5</text>
<path d="M1480,1394.5 H1618" stroke="#0000ff" stroke-width="2.2"/>
<text class="s" x="1346" y="1459.4" font-size="48">traj 6</text>
<path d="M1480,1442.8 H1618" stroke="#000000" stroke-width="2.2"/>
</svg>
</body></html>
